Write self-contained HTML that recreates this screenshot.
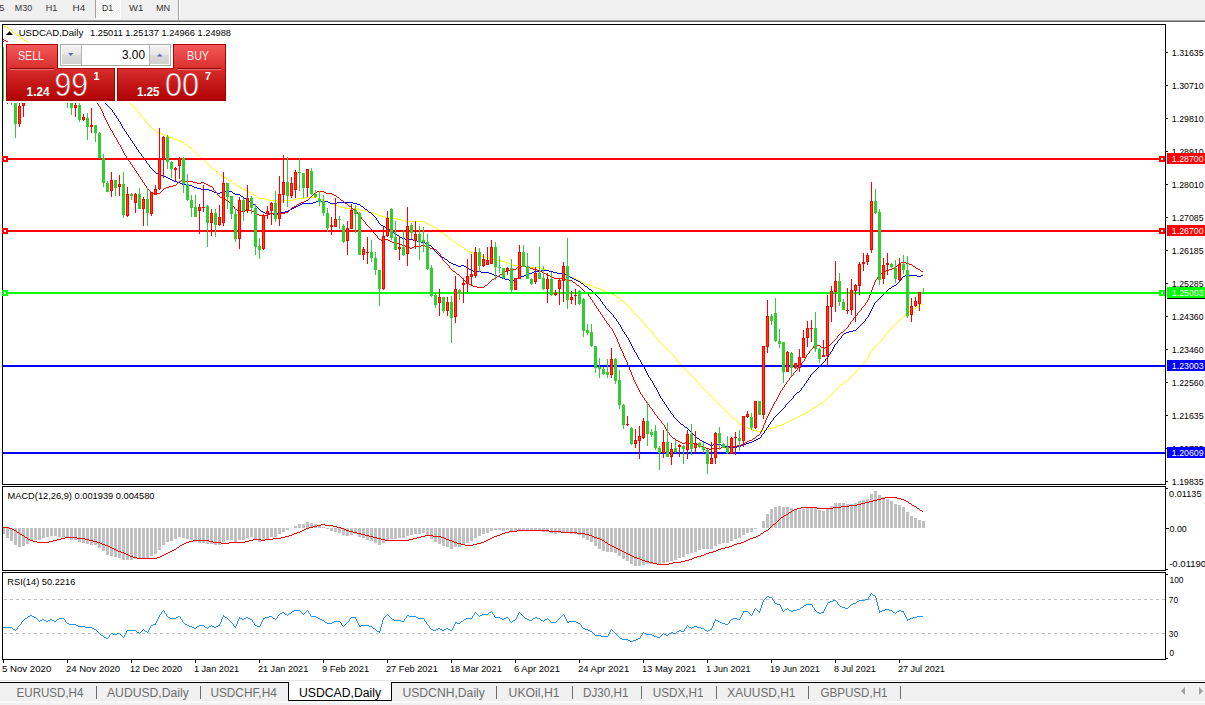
<!DOCTYPE html><html><head><meta charset="utf-8"><style>html,body{margin:0;padding:0;background:#fff;overflow:hidden}svg{display:block}text{font-family:'Liberation Sans', Arial, sans-serif}</style></head><body><svg width="1205" height="705" viewBox="0 0 1205 705"><defs><pattern id="chk" width="2" height="2" patternUnits="userSpaceOnUse"><rect width="2" height="2" fill="#f0f0f0"/><rect width="1" height="1" fill="#fff"/><rect x="1" y="1" width="1" height="1" fill="#fff"/></pattern><linearGradient id="gtab" x1="0" y1="0" x2="0" y2="1"><stop offset="0" stop-color="#f25555"/><stop offset="1" stop-color="#d62a2a"/></linearGradient><linearGradient id="gbox" x1="0" y1="0" x2="0" y2="1"><stop offset="0" stop-color="#d72a2a"/><stop offset="1" stop-color="#ad0000"/></linearGradient><linearGradient id="gbtn" x1="0" y1="0" x2="0" y2="1"><stop offset="0" stop-color="#f2f2f2"/><stop offset="0.5" stop-color="#e6e6e6"/><stop offset="0.5" stop-color="#dadada"/><stop offset="1" stop-color="#d0d0d0"/></linearGradient><clipPath id="cmain"><rect x="3" y="25" width="1162" height="459"/></clipPath><clipPath id="cmacd"><rect x="3" y="487" width="1162" height="83"/></clipPath><clipPath id="crsi"><rect x="3" y="573" width="1162" height="86"/></clipPath></defs>
<rect x="0" y="0" width="1205" height="20" fill="#f0f0f0"/>
<rect x="0" y="20" width="1205" height="1" fill="#a0a0a0"/>
<rect x="0" y="21" width="1205" height="1" fill="#696969"/>
<rect x="96" y="0" width="24" height="18" fill="url(#chk)"/>
<rect x="95" y="0" width="1" height="18" fill="#a0a0a0"/>
<rect x="96" y="18" width="25" height="1" fill="#fff"/>
<rect x="120" y="0" width="1" height="19" fill="#fff"/>
<rect x="178" y="0" width="1" height="20" fill="#a0a0a0"/>
<rect x="179" y="0" width="1" height="20" fill="#fff"/>
<text x="-13.5" y="11.3" font-size="9.4" fill="#333333" text-anchor="start" font-weight="normal" textLength="17.8" lengthAdjust="spacingAndGlyphs">M15</text>
<text x="14.8" y="11.3" font-size="9.4" fill="#333333" text-anchor="start" font-weight="normal" textLength="17.3" lengthAdjust="spacingAndGlyphs">M30</text>
<text x="45.7" y="11.3" font-size="9.4" fill="#333333" text-anchor="start" font-weight="normal" textLength="11.5" lengthAdjust="spacingAndGlyphs">H1</text>
<text x="72.6" y="11.3" font-size="9.4" fill="#333333" text-anchor="start" font-weight="normal" textLength="12.6" lengthAdjust="spacingAndGlyphs">H4</text>
<text x="102" y="11.3" font-size="9.4" fill="#333333" text-anchor="start" font-weight="normal" textLength="11" lengthAdjust="spacingAndGlyphs">D1</text>
<text x="129" y="11.3" font-size="9.4" fill="#333333" text-anchor="start" font-weight="normal" textLength="14.2" lengthAdjust="spacingAndGlyphs">W1</text>
<text x="156" y="11.3" font-size="9.4" fill="#333333" text-anchor="start" font-weight="normal" textLength="14.2" lengthAdjust="spacingAndGlyphs">MN</text>
<rect x="2" y="24" width="1164" height="1" fill="#000"/>
<rect x="2" y="484" width="1164" height="1" fill="#000"/>
<rect x="2" y="24" width="1" height="461" fill="#000"/>
<rect x="1165" y="24" width="1" height="461" fill="#000"/>
<rect x="2" y="486" width="1164" height="1" fill="#000"/>
<rect x="2" y="570" width="1164" height="1" fill="#000"/>
<rect x="2" y="486" width="1" height="85" fill="#000"/>
<rect x="1165" y="486" width="1" height="85" fill="#000"/>
<rect x="2" y="572" width="1164" height="1" fill="#000"/>
<rect x="2" y="659" width="1164" height="1" fill="#000"/>
<rect x="2" y="572" width="1" height="88" fill="#000"/>
<rect x="1165" y="572" width="1" height="88" fill="#000"/>
<rect x="1166" y="52" width="2" height="1" fill="#000"/>
<text x="1171.8" y="56.0" font-size="9.2" fill="#000" text-anchor="start" font-weight="normal" textLength="31.8" lengthAdjust="spacingAndGlyphs">1.31635</text>
<rect x="1166" y="85" width="2" height="1" fill="#000"/>
<text x="1171.8" y="89.0" font-size="9.2" fill="#000" text-anchor="start" font-weight="normal" textLength="31.8" lengthAdjust="spacingAndGlyphs">1.30710</text>
<rect x="1166" y="118" width="2" height="1" fill="#000"/>
<text x="1171.8" y="122.0" font-size="9.2" fill="#000" text-anchor="start" font-weight="normal" textLength="31.8" lengthAdjust="spacingAndGlyphs">1.29810</text>
<rect x="1166" y="151" width="2" height="1" fill="#000"/>
<text x="1171.8" y="155.0" font-size="9.2" fill="#000" text-anchor="start" font-weight="normal" textLength="31.8" lengthAdjust="spacingAndGlyphs">1.28910</text>
<rect x="1166" y="184" width="2" height="1" fill="#000"/>
<text x="1171.8" y="188.0" font-size="9.2" fill="#000" text-anchor="start" font-weight="normal" textLength="31.8" lengthAdjust="spacingAndGlyphs">1.28010</text>
<rect x="1166" y="217" width="2" height="1" fill="#000"/>
<text x="1171.8" y="221.0" font-size="9.2" fill="#000" text-anchor="start" font-weight="normal" textLength="31.8" lengthAdjust="spacingAndGlyphs">1.27085</text>
<rect x="1166" y="250" width="2" height="1" fill="#000"/>
<text x="1171.8" y="254.0" font-size="9.2" fill="#000" text-anchor="start" font-weight="normal" textLength="31.8" lengthAdjust="spacingAndGlyphs">1.26185</text>
<rect x="1166" y="283" width="2" height="1" fill="#000"/>
<text x="1171.8" y="287.0" font-size="9.2" fill="#000" text-anchor="start" font-weight="normal" textLength="31.8" lengthAdjust="spacingAndGlyphs">1.25285</text>
<rect x="1166" y="316" width="2" height="1" fill="#000"/>
<text x="1171.8" y="320.0" font-size="9.2" fill="#000" text-anchor="start" font-weight="normal" textLength="31.8" lengthAdjust="spacingAndGlyphs">1.24360</text>
<rect x="1166" y="349" width="2" height="1" fill="#000"/>
<text x="1171.8" y="353.0" font-size="9.2" fill="#000" text-anchor="start" font-weight="normal" textLength="31.8" lengthAdjust="spacingAndGlyphs">1.23460</text>
<rect x="1166" y="382" width="2" height="1" fill="#000"/>
<text x="1171.8" y="386.0" font-size="9.2" fill="#000" text-anchor="start" font-weight="normal" textLength="31.8" lengthAdjust="spacingAndGlyphs">1.22560</text>
<rect x="1166" y="415" width="2" height="1" fill="#000"/>
<text x="1171.8" y="419.0" font-size="9.2" fill="#000" text-anchor="start" font-weight="normal" textLength="31.8" lengthAdjust="spacingAndGlyphs">1.21635</text>
<rect x="1166" y="448" width="2" height="1" fill="#000"/>
<text x="1171.8" y="452.0" font-size="9.2" fill="#000" text-anchor="start" font-weight="normal" textLength="31.8" lengthAdjust="spacingAndGlyphs">1.20735</text>
<rect x="1166" y="481" width="2" height="1" fill="#000"/>
<text x="1171.8" y="485.0" font-size="9.2" fill="#000" text-anchor="start" font-weight="normal" textLength="31.8" lengthAdjust="spacingAndGlyphs">1.19835</text>
<g shape-rendering="crispEdges"><path d="M3 25h1v1h-1zM4 26h1v1h-1zM5 26h1v1h-1zM6 27h1v1h-1zM7 27h1v1h-1zM8 28h1v1h-1zM9 29h1v1h-1zM10 29h1v1h-1zM11 30h1v1h-1zM12 31h1v1h-1zM13 32h1v1h-1zM14 32h1v1h-1zM15 33h1v1h-1zM16 34h1v1h-1zM17 35h1v1h-1zM18 35h1v1h-1zM19 36h1v1h-1zM20 37h1v1h-1zM21 38h1v1h-1zM22 38h1v1h-1zM23 39h1v1h-1zM24 40h1v1h-1zM25 40h1v1h-1zM26 41h1v1h-1zM27 41h1v1h-1zM28 42h1v1h-1zM29 42h1v1h-1zM30 43h1v1h-1zM31 43h1v1h-1zM32 44h1v1h-1zM33 44h1v1h-1zM34 45h1v1h-1zM35 45h1v1h-1zM36 45h1v1h-1zM37 46h1v1h-1zM38 46h1v1h-1zM39 46h1v1h-1zM40 47h1v1h-1zM41 47h1v1h-1zM42 48h1v1h-1zM43 48h1v1h-1zM44 48h1v1h-1zM45 49h1v1h-1zM46 49h1v1h-1zM47 49h1v1h-1zM48 49h1v1h-1zM49 50h1v1h-1zM50 50h1v1h-1zM51 50h1v1h-1zM52 51h1v1h-1zM53 51h1v1h-1zM54 52h1v1h-1zM55 52h1v1h-1zM56 53h1v1h-1zM57 53h1v1h-1zM58 54h1v1h-1zM59 54h1v1h-1zM60 54h1v1h-1zM61 55h1v1h-1zM62 55h1v1h-1zM63 55h1v1h-1zM64 56h1v1h-1zM65 56h1v1h-1zM66 57h1v1h-1zM67 57h1v1h-1zM68 58h1v1h-1zM69 58h1v1h-1zM70 59h1v1h-1zM71 59h1v1h-1zM72 60h1v1h-1zM73 60h1v1h-1zM74 61h1v1h-1zM75 61h1v1h-1zM76 62h1v1h-1zM77 63h1v1h-1zM78 63h1v1h-1zM79 64h1v1h-1zM80 65h1v1h-1zM81 65h1v1h-1zM82 66h1v1h-1zM83 66h1v1h-1zM84 67h1v1h-1zM85 67h1v1h-1zM86 68h1v1h-1zM87 68h1v1h-1zM88 69h1v1h-1zM89 70h1v1h-1zM90 70h1v1h-1zM91 71h1v1h-1zM92 72h1v1h-1zM93 72h1v1h-1zM94 73h1v1h-1zM95 73h1v1h-1zM96 74h1v1h-1zM97 74h1v1h-1zM98 75h1v1h-1zM99 75h1v1h-1zM100 76h1v1h-1zM101 77h1v1h-1zM102 78h1v1h-1zM103 79h1v1h-1zM104 80h1v1h-1zM105 81h1v1h-1zM106 81h1v1h-1zM107 82h1v1h-1zM108 83h1v1h-1zM109 83h1v1h-1zM110 84h1v1h-1zM111 84h1v1h-1zM112 85h1v1h-1zM113 86h1v1h-1zM114 87h1v1h-1zM115 88h1v1h-1zM116 89h1v1h-1zM117 90h1v1h-1zM118 90h1v1h-1zM119 91h1v1h-1zM120 92h1v1h-1zM121 93h1v1h-1zM122 94h1v1h-1zM123 95h1v1h-1zM124 96h1v1h-1zM125 97h1v1h-1zM126 98h1v1h-1zM127 99h1v1h-1zM128 100h1v1h-1zM129 101h1v2h-1zM130 103h1v1h-1zM131 104h1v1h-1zM132 105h1v1h-1zM133 106h1v1h-1zM134 107h1v1h-1zM135 108h1v1h-1zM136 109h1v1h-1zM137 110h1v2h-1zM138 112h1v1h-1zM139 113h1v1h-1zM140 114h1v1h-1zM141 115h1v2h-1zM142 117h1v1h-1zM143 118h1v1h-1zM144 119h1v1h-1zM145 120h1v2h-1zM146 122h1v1h-1zM147 123h1v1h-1zM148 124h1v1h-1zM149 125h1v1h-1zM150 126h1v1h-1zM151 127h1v1h-1zM152 128h1v1h-1zM153 129h1v1h-1zM154 129h1v1h-1zM155 130h1v1h-1zM156 131h1v1h-1zM157 132h1v1h-1zM158 132h1v1h-1zM159 133h1v1h-1zM160 133h1v1h-1zM161 134h1v1h-1zM162 134h1v1h-1zM163 134h1v1h-1zM164 135h1v1h-1zM165 135h1v1h-1zM166 136h1v1h-1zM167 136h1v1h-1zM168 136h1v1h-1zM169 137h1v1h-1zM170 137h1v1h-1zM171 137h1v1h-1zM172 138h1v1h-1zM173 138h1v1h-1zM174 139h1v1h-1zM175 139h1v1h-1zM176 139h1v1h-1zM177 140h1v1h-1zM178 140h1v1h-1zM179 140h1v1h-1zM180 141h1v1h-1zM181 141h1v1h-1zM182 142h1v1h-1zM183 142h1v1h-1zM184 143h1v1h-1zM185 144h1v1h-1zM186 144h1v1h-1zM187 145h1v1h-1zM188 146h1v1h-1zM189 147h1v1h-1zM190 147h1v1h-1zM191 148h1v1h-1zM192 149h1v1h-1zM193 150h1v1h-1zM194 151h1v1h-1zM195 152h1v1h-1zM196 153h1v1h-1zM197 154h1v1h-1zM198 155h1v1h-1zM199 156h1v1h-1zM200 157h1v1h-1zM201 158h1v1h-1zM202 158h1v1h-1zM203 159h1v1h-1zM204 160h1v1h-1zM205 161h1v1h-1zM206 162h1v1h-1zM207 163h1v1h-1zM208 164h1v1h-1zM209 165h1v1h-1zM210 166h1v1h-1zM211 167h1v1h-1zM212 168h1v1h-1zM213 169h1v1h-1zM214 169h1v1h-1zM215 170h1v1h-1zM216 171h1v1h-1zM217 172h1v1h-1zM218 173h1v1h-1zM219 174h1v1h-1zM220 175h1v1h-1zM221 175h1v1h-1zM222 176h1v1h-1zM223 176h1v1h-1zM224 177h1v1h-1zM225 177h1v1h-1zM226 178h1v1h-1zM227 178h1v1h-1zM228 179h1v1h-1zM229 180h1v1h-1zM230 180h1v1h-1zM231 181h1v1h-1zM232 182h1v1h-1zM233 183h1v1h-1zM234 183h1v1h-1zM235 184h1v1h-1zM236 185h1v1h-1zM237 185h1v1h-1zM238 186h1v1h-1zM239 186h1v1h-1zM240 187h1v1h-1zM241 188h1v1h-1zM242 188h1v1h-1zM243 189h1v1h-1zM244 189h1v1h-1zM245 190h1v1h-1zM246 190h1v1h-1zM247 190h1v1h-1zM248 191h1v1h-1zM249 192h1v1h-1zM250 192h1v1h-1zM251 193h1v1h-1zM252 194h1v1h-1zM253 194h1v1h-1zM254 195h1v1h-1zM255 195h1v1h-1zM256 196h1v1h-1zM257 197h1v1h-1zM258 197h1v1h-1zM259 198h1v1h-1zM260 198h1v1h-1zM261 198h1v1h-1zM262 198h1v1h-1zM263 198h1v1h-1zM264 198h1v1h-1zM265 199h1v1h-1zM266 199h1v1h-1zM267 199h1v1h-1zM268 199h1v1h-1zM269 200h1v1h-1zM270 200h1v1h-1zM271 200h1v1h-1zM272 200h1v1h-1zM273 200h1v1h-1zM274 200h1v1h-1zM275 200h1v1h-1zM276 200h1v1h-1zM277 201h1v1h-1zM278 201h1v1h-1zM279 201h1v1h-1zM280 201h1v1h-1zM281 200h1v1h-1zM282 200h1v1h-1zM283 200h1v1h-1zM284 200h1v1h-1zM285 200h1v1h-1zM286 200h1v1h-1zM287 200h1v1h-1zM288 200h1v1h-1zM289 200h1v1h-1zM290 200h1v1h-1zM291 200h1v1h-1zM292 200h1v1h-1zM293 199h1v1h-1zM294 199h1v1h-1zM295 199h1v1h-1zM296 199h1v1h-1zM297 198h1v1h-1zM298 198h1v1h-1zM299 198h1v1h-1zM300 198h1v1h-1zM301 198h1v1h-1zM302 198h1v1h-1zM303 198h1v1h-1zM304 198h1v1h-1zM305 197h1v1h-1zM306 197h1v1h-1zM307 197h1v1h-1zM308 197h1v1h-1zM309 197h1v1h-1zM310 197h1v1h-1zM311 197h1v1h-1zM312 197h1v1h-1zM313 197h1v1h-1zM314 197h1v1h-1zM315 197h1v1h-1zM316 197h1v1h-1zM317 198h1v1h-1zM318 198h1v1h-1zM319 198h1v1h-1zM320 199h1v1h-1zM321 199h1v1h-1zM322 200h1v1h-1zM323 200h1v1h-1zM324 200h1v1h-1zM325 201h1v1h-1zM326 201h1v1h-1zM327 201h1v1h-1zM328 202h1v1h-1zM329 202h1v1h-1zM330 203h1v1h-1zM331 203h1v1h-1zM332 203h1v1h-1zM333 204h1v1h-1zM334 204h1v1h-1zM335 204h1v1h-1zM336 205h1v1h-1zM337 205h1v1h-1zM338 206h1v1h-1zM339 206h1v1h-1zM340 206h1v1h-1zM341 207h1v1h-1zM342 207h1v1h-1zM343 207h1v1h-1zM344 207h1v1h-1zM345 208h1v1h-1zM346 208h1v1h-1zM347 208h1v1h-1zM348 208h1v1h-1zM349 208h1v1h-1zM350 208h1v1h-1zM351 208h1v1h-1zM352 208h1v1h-1zM353 208h1v1h-1zM354 208h1v1h-1zM355 208h1v1h-1zM356 208h1v1h-1zM357 209h1v1h-1zM358 209h1v1h-1zM359 209h1v1h-1zM360 209h1v1h-1zM361 210h1v1h-1zM362 210h1v1h-1zM363 210h1v1h-1zM364 210h1v1h-1zM365 211h1v1h-1zM366 211h1v1h-1zM367 211h1v1h-1zM368 211h1v1h-1zM369 212h1v1h-1zM370 212h1v1h-1zM371 212h1v1h-1zM372 212h1v1h-1zM373 213h1v1h-1zM374 213h1v1h-1zM375 213h1v1h-1zM376 214h1v1h-1zM377 214h1v1h-1zM378 215h1v1h-1zM379 215h1v1h-1zM380 215h1v1h-1zM381 216h1v1h-1zM382 216h1v1h-1zM383 216h1v1h-1zM384 216h1v1h-1zM385 217h1v1h-1zM386 217h1v1h-1zM387 217h1v1h-1zM388 217h1v1h-1zM389 217h1v1h-1zM390 217h1v1h-1zM391 217h1v1h-1zM392 217h1v1h-1zM393 218h1v1h-1zM394 218h1v1h-1zM395 218h1v1h-1zM396 218h1v1h-1zM397 219h1v1h-1zM398 219h1v1h-1zM399 219h1v1h-1zM400 219h1v1h-1zM401 220h1v1h-1zM402 220h1v1h-1zM403 220h1v1h-1zM404 220h1v1h-1zM405 221h1v1h-1zM406 221h1v1h-1zM407 221h1v1h-1zM408 221h1v1h-1zM409 221h1v1h-1zM410 221h1v1h-1zM411 221h1v1h-1zM412 221h1v1h-1zM413 221h1v1h-1zM414 221h1v1h-1zM415 221h1v1h-1zM416 221h1v1h-1zM417 221h1v1h-1zM418 221h1v1h-1zM419 221h1v1h-1zM420 221h1v1h-1zM421 221h1v1h-1zM422 221h1v1h-1zM423 221h1v1h-1zM424 222h1v1h-1zM425 222h1v1h-1zM426 223h1v1h-1zM427 223h1v1h-1zM428 224h1v1h-1zM429 224h1v1h-1zM430 225h1v1h-1zM431 225h1v1h-1zM432 226h1v1h-1zM433 226h1v1h-1zM434 227h1v1h-1zM435 227h1v1h-1zM436 228h1v1h-1zM437 229h1v1h-1zM438 229h1v1h-1zM439 230h1v1h-1zM440 231h1v1h-1zM441 232h1v1h-1zM442 232h1v1h-1zM443 233h1v1h-1zM444 234h1v1h-1zM445 235h1v1h-1zM446 235h1v1h-1zM447 236h1v1h-1zM448 237h1v1h-1zM449 238h1v1h-1zM450 238h1v1h-1zM451 239h1v1h-1zM452 240h1v1h-1zM453 241h1v1h-1zM454 241h1v1h-1zM455 242h1v1h-1zM456 243h1v1h-1zM457 244h1v1h-1zM458 244h1v1h-1zM459 245h1v1h-1zM460 246h1v1h-1zM461 246h1v1h-1zM462 247h1v1h-1zM463 247h1v1h-1zM464 248h1v1h-1zM465 249h1v1h-1zM466 249h1v1h-1zM467 250h1v1h-1zM468 251h1v1h-1zM469 251h1v1h-1zM470 252h1v1h-1zM471 252h1v1h-1zM472 252h1v1h-1zM473 253h1v1h-1zM474 253h1v1h-1zM475 253h1v1h-1zM476 254h1v1h-1zM477 254h1v1h-1zM478 255h1v1h-1zM479 255h1v1h-1zM480 255h1v1h-1zM481 256h1v1h-1zM482 256h1v1h-1zM483 256h1v1h-1zM484 256h1v1h-1zM485 257h1v1h-1zM486 257h1v1h-1zM487 257h1v1h-1zM488 257h1v1h-1zM489 258h1v1h-1zM490 258h1v1h-1zM491 258h1v1h-1zM492 258h1v1h-1zM493 259h1v1h-1zM494 259h1v1h-1zM495 259h1v1h-1zM496 259h1v1h-1zM497 260h1v1h-1zM498 260h1v1h-1zM499 260h1v1h-1zM500 260h1v1h-1zM501 261h1v1h-1zM502 261h1v1h-1zM503 261h1v1h-1zM504 261h1v1h-1zM505 262h1v1h-1zM506 262h1v1h-1zM507 262h1v1h-1zM508 263h1v1h-1zM509 263h1v1h-1zM510 264h1v1h-1zM511 264h1v1h-1zM512 264h1v1h-1zM513 265h1v1h-1zM514 265h1v1h-1zM515 265h1v1h-1zM516 265h1v1h-1zM517 265h1v1h-1zM518 265h1v1h-1zM519 265h1v1h-1zM520 265h1v1h-1zM521 266h1v1h-1zM522 266h1v1h-1zM523 266h1v1h-1zM524 266h1v1h-1zM525 266h1v1h-1zM526 266h1v1h-1zM527 266h1v1h-1zM528 266h1v1h-1zM529 267h1v1h-1zM530 267h1v1h-1zM531 267h1v1h-1zM532 267h1v1h-1zM533 267h1v1h-1zM534 267h1v1h-1zM535 267h1v1h-1zM536 267h1v1h-1zM537 267h1v1h-1zM538 267h1v1h-1zM539 267h1v1h-1zM540 267h1v1h-1zM541 268h1v1h-1zM542 268h1v1h-1zM543 268h1v1h-1zM544 269h1v1h-1zM545 269h1v1h-1zM546 270h1v1h-1zM547 270h1v1h-1zM548 270h1v1h-1zM549 271h1v1h-1zM550 271h1v1h-1zM551 271h1v1h-1zM552 271h1v1h-1zM553 272h1v1h-1zM554 272h1v1h-1zM555 272h1v1h-1zM556 272h1v1h-1zM557 273h1v1h-1zM558 273h1v1h-1zM559 273h1v1h-1zM560 273h1v1h-1zM561 273h1v1h-1zM562 273h1v1h-1zM563 273h1v1h-1zM564 274h1v1h-1zM565 274h1v1h-1zM566 275h1v1h-1zM567 275h1v1h-1zM568 276h1v1h-1zM569 276h1v1h-1zM570 277h1v1h-1zM571 277h1v1h-1zM572 277h1v1h-1zM573 278h1v1h-1zM574 278h1v1h-1zM575 278h1v1h-1zM576 279h1v1h-1zM577 279h1v1h-1zM578 280h1v1h-1zM579 280h1v1h-1zM580 281h1v1h-1zM581 281h1v1h-1zM582 282h1v1h-1zM583 282h1v1h-1zM584 283h1v1h-1zM585 283h1v1h-1zM586 284h1v1h-1zM587 284h1v1h-1zM588 284h1v1h-1zM589 285h1v1h-1zM590 285h1v1h-1zM591 285h1v1h-1zM592 286h1v1h-1zM593 286h1v1h-1zM594 287h1v1h-1zM595 287h1v1h-1zM596 287h1v1h-1zM597 288h1v1h-1zM598 288h1v1h-1zM599 288h1v1h-1zM600 289h1v1h-1zM601 289h1v1h-1zM602 290h1v1h-1zM603 290h1v1h-1zM604 291h1v1h-1zM605 291h1v1h-1zM606 292h1v1h-1zM607 292h1v1h-1zM608 292h1v1h-1zM609 293h1v1h-1zM610 293h1v1h-1zM611 293h1v1h-1zM612 294h1v1h-1zM613 294h1v1h-1zM614 295h1v1h-1zM615 295h1v1h-1zM616 296h1v1h-1zM617 297h1v1h-1zM618 297h1v1h-1zM619 298h1v1h-1zM620 299h1v1h-1zM621 300h1v1h-1zM622 300h1v1h-1zM623 301h1v1h-1zM624 302h1v1h-1zM625 303h1v1h-1zM626 304h1v1h-1zM627 305h1v1h-1zM628 306h1v1h-1zM629 307h1v1h-1zM630 308h1v1h-1zM631 309h1v1h-1zM632 310h1v1h-1zM633 311h1v2h-1zM634 313h1v1h-1zM635 314h1v1h-1zM636 315h1v1h-1zM637 316h1v1h-1zM638 317h1v1h-1zM639 318h1v1h-1zM640 319h1v1h-1zM641 320h1v1h-1zM642 321h1v1h-1zM643 322h1v1h-1zM644 323h1v1h-1zM645 324h1v2h-1zM646 326h1v1h-1zM647 327h1v1h-1zM648 328h1v1h-1zM649 329h1v1h-1zM650 330h1v1h-1zM651 331h1v1h-1zM652 332h1v1h-1zM653 333h1v2h-1zM654 335h1v1h-1zM655 336h1v1h-1zM656 337h1v1h-1zM657 338h1v2h-1zM658 340h1v1h-1zM659 341h1v1h-1zM660 342h1v1h-1zM661 343h1v1h-1zM662 344h1v1h-1zM663 345h1v1h-1zM664 346h1v1h-1zM665 347h1v1h-1zM666 348h1v1h-1zM667 349h1v1h-1zM668 350h1v1h-1zM669 351h1v1h-1zM670 352h1v1h-1zM671 353h1v1h-1zM672 354h1v1h-1zM673 355h1v2h-1zM674 357h1v1h-1zM675 358h1v1h-1zM676 359h1v1h-1zM677 360h1v2h-1zM678 362h1v1h-1zM679 363h1v1h-1zM680 364h1v1h-1zM681 365h1v1h-1zM682 366h1v1h-1zM683 367h1v1h-1zM684 368h1v1h-1zM685 369h1v1h-1zM686 370h1v1h-1zM687 371h1v1h-1zM688 372h1v1h-1zM689 373h1v1h-1zM690 374h1v1h-1zM691 375h1v1h-1zM692 376h1v1h-1zM693 377h1v1h-1zM694 378h1v1h-1zM695 379h1v1h-1zM696 380h1v1h-1zM697 381h1v2h-1zM698 383h1v1h-1zM699 384h1v1h-1zM700 385h1v1h-1zM701 386h1v1h-1zM702 387h1v1h-1zM703 388h1v1h-1zM704 389h1v1h-1zM705 390h1v1h-1zM706 391h1v1h-1zM707 392h1v1h-1zM708 393h1v1h-1zM709 394h1v1h-1zM710 395h1v1h-1zM711 396h1v1h-1zM712 397h1v1h-1zM713 398h1v1h-1zM714 399h1v1h-1zM715 400h1v1h-1zM716 401h1v1h-1zM717 402h1v1h-1zM718 403h1v1h-1zM719 404h1v1h-1zM720 405h1v1h-1zM721 406h1v1h-1zM722 407h1v1h-1zM723 408h1v1h-1zM724 409h1v1h-1zM725 410h1v1h-1zM726 411h1v1h-1zM727 412h1v1h-1zM728 413h1v1h-1zM729 414h1v1h-1zM730 415h1v1h-1zM731 416h1v1h-1zM732 417h1v1h-1zM733 418h1v1h-1zM734 418h1v1h-1zM735 419h1v1h-1zM736 420h1v1h-1zM737 421h1v1h-1zM738 422h1v1h-1zM739 423h1v1h-1zM740 424h1v1h-1zM741 424h1v1h-1zM742 425h1v1h-1zM743 425h1v1h-1zM744 426h1v1h-1zM745 426h1v1h-1zM746 427h1v1h-1zM747 427h1v1h-1zM748 428h1v1h-1zM749 428h1v1h-1zM750 429h1v1h-1zM751 429h1v1h-1zM752 429h1v1h-1zM753 430h1v1h-1zM754 430h1v1h-1zM755 430h1v1h-1zM756 430h1v1h-1zM757 431h1v1h-1zM758 431h1v1h-1zM759 431h1v1h-1zM760 431h1v1h-1zM761 430h1v1h-1zM762 430h1v1h-1zM763 430h1v1h-1zM764 430h1v1h-1zM765 429h1v1h-1zM766 429h1v1h-1zM767 429h1v1h-1zM768 429h1v1h-1zM769 428h1v1h-1zM770 428h1v1h-1zM771 428h1v1h-1zM772 428h1v1h-1zM773 427h1v1h-1zM774 427h1v1h-1zM775 427h1v1h-1zM776 426h1v1h-1zM777 426h1v1h-1zM778 425h1v1h-1zM779 425h1v1h-1zM780 425h1v1h-1zM781 424h1v1h-1zM782 424h1v1h-1zM783 424h1v1h-1zM784 423h1v1h-1zM785 423h1v1h-1zM786 422h1v1h-1zM787 422h1v1h-1zM788 421h1v1h-1zM789 421h1v1h-1zM790 420h1v1h-1zM791 420h1v1h-1zM792 419h1v1h-1zM793 419h1v1h-1zM794 418h1v1h-1zM795 418h1v1h-1zM796 417h1v1h-1zM797 417h1v1h-1zM798 416h1v1h-1zM799 416h1v1h-1zM800 415h1v1h-1zM801 415h1v1h-1zM802 414h1v1h-1zM803 414h1v1h-1zM804 413h1v1h-1zM805 413h1v1h-1zM806 412h1v1h-1zM807 412h1v1h-1zM808 411h1v1h-1zM809 410h1v1h-1zM810 410h1v1h-1zM811 409h1v1h-1zM812 408h1v1h-1zM813 408h1v1h-1zM814 407h1v1h-1zM815 407h1v1h-1zM816 406h1v1h-1zM817 405h1v1h-1zM818 405h1v1h-1zM819 404h1v1h-1zM820 403h1v1h-1zM821 403h1v1h-1zM822 402h1v1h-1zM823 402h1v1h-1zM824 401h1v1h-1zM825 400h1v1h-1zM826 399h1v1h-1zM827 398h1v1h-1zM828 397h1v1h-1zM829 396h1v1h-1zM830 395h1v1h-1zM831 394h1v1h-1zM832 393h1v1h-1zM833 392h1v1h-1zM834 391h1v1h-1zM835 390h1v1h-1zM836 389h1v1h-1zM837 388h1v1h-1zM838 387h1v1h-1zM839 386h1v1h-1zM840 385h1v1h-1zM841 384h1v1h-1zM842 384h1v1h-1zM843 383h1v1h-1zM844 382h1v1h-1zM845 381h1v1h-1zM846 381h1v1h-1zM847 380h1v1h-1zM848 379h1v1h-1zM849 378h1v1h-1zM850 377h1v1h-1zM851 376h1v1h-1zM852 375h1v1h-1zM853 374h1v1h-1zM854 373h1v1h-1zM855 372h1v1h-1zM856 371h1v1h-1zM857 369h1v2h-1zM858 368h1v1h-1zM859 367h1v1h-1zM860 366h1v1h-1zM861 365h1v1h-1zM862 364h1v1h-1zM863 363h1v1h-1zM864 362h1v1h-1zM865 360h1v2h-1zM866 359h1v1h-1zM867 358h1v1h-1zM868 356h1v2h-1zM869 354h1v2h-1zM870 352h1v2h-1zM871 351h1v1h-1zM872 350h1v1h-1zM873 348h1v2h-1zM874 347h1v1h-1zM875 346h1v1h-1zM876 345h1v1h-1zM877 344h1v1h-1zM878 343h1v1h-1zM879 342h1v1h-1zM880 341h1v1h-1zM881 339h1v2h-1zM882 338h1v1h-1zM883 337h1v1h-1zM884 336h1v1h-1zM885 334h1v2h-1zM886 333h1v1h-1zM887 332h1v1h-1zM888 331h1v1h-1zM889 330h1v1h-1zM890 329h1v1h-1zM891 328h1v1h-1zM892 327h1v1h-1zM893 326h1v1h-1zM894 325h1v1h-1zM895 324h1v1h-1zM896 323h1v1h-1zM897 322h1v1h-1zM898 321h1v1h-1zM899 320h1v1h-1zM900 319h1v1h-1zM901 318h1v1h-1zM902 317h1v1h-1zM903 316h1v1h-1zM904 315h1v1h-1zM905 314h1v1h-1zM906 314h1v1h-1zM907 313h1v1h-1zM908 312h1v1h-1zM909 311h1v1h-1zM910 311h1v1h-1zM911 310h1v1h-1zM912 309h1v1h-1zM913 309h1v1h-1zM914 308h1v1h-1zM915 308h1v1h-1zM916 307h1v1h-1zM917 306h1v1h-1zM918 306h1v1h-1zM919 305h1v1h-1zM920 305h1v1h-1zM921 304h1v1h-1zM922 304h1v1h-1z" fill="#ffff00"/><path d="M3 41h1v1h-1zM4 42h1v1h-1zM5 43h1v1h-1zM6 43h1v1h-1zM7 44h1v1h-1zM8 45h1v1h-1zM9 46h1v1h-1zM10 47h1v1h-1zM11 48h1v1h-1zM12 49h1v1h-1zM13 50h1v1h-1zM14 51h1v1h-1zM15 52h1v1h-1zM16 53h1v1h-1zM17 54h1v1h-1zM18 54h1v1h-1zM19 55h1v1h-1zM20 56h1v1h-1zM21 56h1v1h-1zM22 57h1v1h-1zM23 57h1v1h-1zM24 57h1v1h-1zM25 58h1v1h-1zM26 58h1v1h-1zM27 58h1v1h-1zM28 58h1v1h-1zM29 58h1v1h-1zM30 58h1v1h-1zM31 58h1v1h-1zM32 58h1v1h-1zM33 58h1v1h-1zM34 58h1v1h-1zM35 58h1v1h-1zM36 58h1v1h-1zM37 58h1v1h-1zM38 58h1v1h-1zM39 58h1v1h-1zM40 58h1v1h-1zM41 58h1v1h-1zM42 58h1v1h-1zM43 58h1v1h-1zM44 58h1v1h-1zM45 59h1v1h-1zM46 59h1v1h-1zM47 59h1v1h-1zM48 60h1v1h-1zM49 60h1v1h-1zM50 61h1v1h-1zM51 61h1v1h-1zM52 62h1v1h-1zM53 63h1v1h-1zM54 63h1v1h-1zM55 64h1v1h-1zM56 65h1v1h-1zM57 66h1v1h-1zM58 67h1v1h-1zM59 68h1v1h-1zM60 69h1v1h-1zM61 70h1v1h-1zM62 71h1v1h-1zM63 72h1v1h-1zM64 73h1v1h-1zM65 74h1v2h-1zM66 76h1v1h-1zM67 77h1v1h-1zM68 78h1v1h-1zM69 79h1v1h-1zM70 80h1v1h-1zM71 81h1v1h-1zM72 82h1v1h-1zM73 83h1v1h-1zM74 83h1v1h-1zM75 84h1v1h-1zM76 85h1v1h-1zM77 86h1v1h-1zM78 87h1v1h-1zM79 88h1v1h-1zM80 89h1v1h-1zM81 89h1v1h-1zM82 90h1v1h-1zM83 90h1v1h-1zM84 91h1v1h-1zM85 91h1v1h-1zM86 92h1v1h-1zM87 92h1v1h-1zM88 93h1v1h-1zM89 93h1v1h-1zM90 94h1v1h-1zM91 94h1v1h-1zM92 94h1v1h-1zM93 95h1v1h-1zM94 95h1v1h-1zM95 95h1v1h-1zM96 96h1v1h-1zM97 96h1v1h-1zM98 97h1v1h-1zM99 97h1v1h-1zM100 98h1v1h-1zM101 99h1v1h-1zM102 99h1v1h-1zM103 100h1v1h-1zM104 101h1v1h-1zM105 102h1v2h-1zM106 104h1v1h-1zM107 105h1v1h-1zM108 106h1v1h-1zM109 107h1v1h-1zM110 108h1v1h-1zM111 109h1v1h-1zM112 110h1v2h-1zM113 112h1v1h-1zM114 113h1v2h-1zM115 115h1v1h-1zM116 116h1v2h-1zM117 118h1v1h-1zM118 119h1v2h-1zM119 121h1v1h-1zM120 122h1v2h-1zM121 124h1v2h-1zM122 126h1v2h-1zM123 128h1v1h-1zM124 129h1v2h-1zM125 131h1v1h-1zM126 132h1v2h-1zM127 134h1v1h-1zM128 135h1v2h-1zM129 137h1v1h-1zM130 138h1v2h-1zM131 140h1v1h-1zM132 141h1v2h-1zM133 143h1v1h-1zM134 144h1v2h-1zM135 146h1v1h-1zM136 147h1v2h-1zM137 149h1v1h-1zM138 150h1v2h-1zM139 152h1v1h-1zM140 153h1v1h-1zM141 154h1v2h-1zM142 156h1v1h-1zM143 157h1v1h-1zM144 158h1v2h-1zM145 160h1v1h-1zM146 161h1v2h-1zM147 163h1v1h-1zM148 164h1v1h-1zM149 165h1v2h-1zM150 167h1v1h-1zM151 168h1v1h-1zM152 169h1v1h-1zM153 170h1v1h-1zM154 171h1v1h-1zM155 172h1v1h-1zM156 173h1v1h-1zM157 173h1v1h-1zM158 174h1v1h-1zM159 174h1v1h-1zM160 174h1v1h-1zM161 175h1v1h-1zM162 175h1v1h-1zM163 175h1v1h-1zM164 176h1v1h-1zM165 176h1v1h-1zM166 177h1v1h-1zM167 177h1v1h-1zM168 178h1v1h-1zM169 178h1v1h-1zM170 179h1v1h-1zM171 179h1v1h-1zM172 180h1v1h-1zM173 180h1v1h-1zM174 181h1v1h-1zM175 181h1v1h-1zM176 181h1v1h-1zM177 182h1v1h-1zM178 182h1v1h-1zM179 182h1v1h-1zM180 183h1v1h-1zM181 183h1v1h-1zM182 184h1v1h-1zM183 184h1v1h-1zM184 184h1v1h-1zM185 184h1v1h-1zM186 184h1v1h-1zM187 184h1v1h-1zM188 184h1v1h-1zM189 185h1v1h-1zM190 185h1v1h-1zM191 185h1v1h-1zM192 186h1v1h-1zM193 186h1v1h-1zM194 187h1v1h-1zM195 187h1v1h-1zM196 187h1v1h-1zM197 188h1v1h-1zM198 188h1v1h-1zM199 188h1v1h-1zM200 188h1v1h-1zM201 189h1v1h-1zM202 189h1v1h-1zM203 189h1v1h-1zM204 189h1v1h-1zM205 189h1v1h-1zM206 189h1v1h-1zM207 189h1v1h-1zM208 189h1v1h-1zM209 190h1v1h-1zM210 190h1v1h-1zM211 190h1v1h-1zM212 191h1v1h-1zM213 191h1v1h-1zM214 192h1v1h-1zM215 192h1v1h-1zM216 192h1v1h-1zM217 193h1v1h-1zM218 193h1v1h-1zM219 193h1v1h-1zM220 192h1v1h-1zM221 192h1v1h-1zM222 191h1v1h-1zM223 191h1v1h-1zM224 191h1v1h-1zM225 191h1v1h-1zM226 191h1v1h-1zM227 191h1v1h-1zM228 191h1v1h-1zM229 191h1v1h-1zM230 191h1v1h-1zM231 191h1v1h-1zM232 192h1v1h-1zM233 193h1v1h-1zM234 193h1v1h-1zM235 194h1v1h-1zM236 194h1v1h-1zM237 194h1v1h-1zM238 194h1v1h-1zM239 194h1v1h-1zM240 195h1v1h-1zM241 196h1v1h-1zM242 196h1v1h-1zM243 197h1v1h-1zM244 198h1v1h-1zM245 198h1v1h-1zM246 199h1v1h-1zM247 199h1v1h-1zM248 200h1v1h-1zM249 201h1v1h-1zM250 201h1v1h-1zM251 202h1v1h-1zM252 203h1v1h-1zM253 204h1v1h-1zM254 204h1v1h-1zM255 205h1v1h-1zM256 206h1v1h-1zM257 207h1v1h-1zM258 208h1v1h-1zM259 209h1v1h-1zM260 210h1v1h-1zM261 211h1v1h-1zM262 211h1v1h-1zM263 212h1v1h-1zM264 212h1v1h-1zM265 213h1v1h-1zM266 213h1v1h-1zM267 213h1v1h-1zM268 213h1v1h-1zM269 213h1v1h-1zM270 213h1v1h-1zM271 213h1v1h-1zM272 213h1v1h-1zM273 214h1v1h-1zM274 214h1v1h-1zM275 214h1v1h-1zM276 214h1v1h-1zM277 213h1v1h-1zM278 213h1v1h-1zM279 213h1v1h-1zM280 213h1v1h-1zM281 212h1v1h-1zM282 212h1v1h-1zM283 212h1v1h-1zM284 212h1v1h-1zM285 211h1v1h-1zM286 211h1v1h-1zM287 211h1v1h-1zM288 210h1v1h-1zM289 210h1v1h-1zM290 209h1v1h-1zM291 209h1v1h-1zM292 208h1v1h-1zM293 208h1v1h-1zM294 207h1v1h-1zM295 207h1v1h-1zM296 206h1v1h-1zM297 206h1v1h-1zM298 205h1v1h-1zM299 205h1v1h-1zM300 204h1v1h-1zM301 204h1v1h-1zM302 203h1v1h-1zM303 203h1v1h-1zM304 203h1v1h-1zM305 203h1v1h-1zM306 203h1v1h-1zM307 203h1v1h-1zM308 203h1v1h-1zM309 203h1v1h-1zM310 203h1v1h-1zM311 203h1v1h-1zM312 203h1v1h-1zM313 202h1v1h-1zM314 202h1v1h-1zM315 202h1v1h-1zM316 201h1v1h-1zM317 201h1v1h-1zM318 200h1v1h-1zM319 200h1v1h-1zM320 200h1v1h-1zM321 201h1v1h-1zM322 201h1v1h-1zM323 201h1v1h-1zM324 201h1v1h-1zM325 201h1v1h-1zM326 201h1v1h-1zM327 201h1v1h-1zM328 202h1v1h-1zM329 202h1v1h-1zM330 203h1v1h-1zM331 203h1v1h-1zM332 203h1v1h-1zM333 203h1v1h-1zM334 203h1v1h-1zM335 203h1v1h-1zM336 203h1v1h-1zM337 202h1v1h-1zM338 202h1v1h-1zM339 202h1v1h-1zM340 202h1v1h-1zM341 202h1v1h-1zM342 202h1v1h-1zM343 202h1v1h-1zM344 202h1v1h-1zM345 202h1v1h-1zM346 202h1v1h-1zM347 202h1v1h-1zM348 202h1v1h-1zM349 202h1v1h-1zM350 202h1v1h-1zM351 202h1v1h-1zM352 202h1v1h-1zM353 203h1v1h-1zM354 203h1v1h-1zM355 203h1v1h-1zM356 203h1v1h-1zM357 204h1v1h-1zM358 204h1v1h-1zM359 204h1v1h-1zM360 205h1v1h-1zM361 206h1v1h-1zM362 206h1v1h-1zM363 207h1v1h-1zM364 208h1v1h-1zM365 209h1v1h-1zM366 209h1v1h-1zM367 210h1v1h-1zM368 211h1v1h-1zM369 212h1v1h-1zM370 212h1v1h-1zM371 213h1v1h-1zM372 214h1v1h-1zM373 215h1v1h-1zM374 216h1v1h-1zM375 217h1v1h-1zM376 218h1v2h-1zM377 220h1v1h-1zM378 221h1v2h-1zM379 223h1v1h-1zM380 224h1v1h-1zM381 225h1v1h-1zM382 225h1v1h-1zM383 226h1v1h-1zM384 226h1v1h-1zM385 227h1v1h-1zM386 227h1v1h-1zM387 227h1v1h-1zM388 228h1v1h-1zM389 229h1v1h-1zM390 230h1v1h-1zM391 231h1v1h-1zM392 232h1v1h-1zM393 232h1v1h-1zM394 233h1v1h-1zM395 233h1v1h-1zM396 234h1v1h-1zM397 235h1v1h-1zM398 235h1v1h-1zM399 236h1v1h-1zM400 237h1v1h-1zM401 237h1v1h-1zM402 238h1v1h-1zM403 238h1v1h-1zM404 238h1v1h-1zM405 239h1v1h-1zM406 239h1v1h-1zM407 239h1v1h-1zM408 239h1v1h-1zM409 239h1v1h-1zM410 239h1v1h-1zM411 239h1v1h-1zM412 239h1v1h-1zM413 240h1v1h-1zM414 240h1v1h-1zM415 240h1v1h-1zM416 240h1v1h-1zM417 241h1v1h-1zM418 241h1v1h-1zM419 241h1v1h-1zM420 241h1v1h-1zM421 242h1v1h-1zM422 242h1v1h-1zM423 242h1v1h-1zM424 242h1v1h-1zM425 243h1v1h-1zM426 243h1v1h-1zM427 243h1v1h-1zM428 244h1v1h-1zM429 245h1v1h-1zM430 245h1v1h-1zM431 246h1v1h-1zM432 247h1v1h-1zM433 248h1v2h-1zM434 250h1v1h-1zM435 251h1v1h-1zM436 252h1v1h-1zM437 253h1v1h-1zM438 254h1v1h-1zM439 255h1v1h-1zM440 256h1v1h-1zM441 256h1v1h-1zM442 257h1v1h-1zM443 257h1v1h-1zM444 258h1v1h-1zM445 259h1v1h-1zM446 259h1v1h-1zM447 260h1v1h-1zM448 261h1v1h-1zM449 262h1v1h-1zM450 262h1v1h-1zM451 263h1v1h-1zM452 263h1v1h-1zM453 264h1v1h-1zM454 264h1v1h-1zM455 264h1v1h-1zM456 265h1v1h-1zM457 265h1v1h-1zM458 266h1v1h-1zM459 266h1v1h-1zM460 266h1v1h-1zM461 265h1v1h-1zM462 265h1v1h-1zM463 265h1v1h-1zM464 266h1v1h-1zM465 266h1v1h-1zM466 267h1v1h-1zM467 267h1v1h-1zM468 268h1v1h-1zM469 269h1v1h-1zM470 269h1v1h-1zM471 270h1v1h-1zM472 270h1v1h-1zM473 271h1v1h-1zM474 271h1v1h-1zM475 271h1v1h-1zM476 271h1v1h-1zM477 271h1v1h-1zM478 271h1v1h-1zM479 271h1v1h-1zM480 271h1v1h-1zM481 272h1v1h-1zM482 272h1v1h-1zM483 272h1v1h-1zM484 272h1v1h-1zM485 272h1v1h-1zM486 272h1v1h-1zM487 272h1v1h-1zM488 272h1v1h-1zM489 273h1v1h-1zM490 273h1v1h-1zM491 273h1v1h-1zM492 274h1v1h-1zM493 274h1v1h-1zM494 275h1v1h-1zM495 275h1v1h-1zM496 275h1v1h-1zM497 276h1v1h-1zM498 276h1v1h-1zM499 276h1v1h-1zM500 277h1v1h-1zM501 277h1v1h-1zM502 278h1v1h-1zM503 278h1v1h-1zM504 278h1v1h-1zM505 279h1v1h-1zM506 279h1v1h-1zM507 279h1v1h-1zM508 279h1v1h-1zM509 280h1v1h-1zM510 280h1v1h-1zM511 280h1v1h-1zM512 280h1v1h-1zM513 280h1v1h-1zM514 280h1v1h-1zM515 280h1v1h-1zM516 279h1v1h-1zM517 278h1v1h-1zM518 278h1v1h-1zM519 277h1v1h-1zM520 277h1v1h-1zM521 276h1v1h-1zM522 276h1v1h-1zM523 276h1v1h-1zM524 275h1v1h-1zM525 275h1v1h-1zM526 274h1v1h-1zM527 274h1v1h-1zM528 274h1v1h-1zM529 273h1v1h-1zM530 273h1v1h-1zM531 273h1v1h-1zM532 272h1v1h-1zM533 272h1v1h-1zM534 271h1v1h-1zM535 271h1v1h-1zM536 271h1v1h-1zM537 271h1v1h-1zM538 271h1v1h-1zM539 271h1v1h-1zM540 271h1v1h-1zM541 270h1v1h-1zM542 270h1v1h-1zM543 270h1v1h-1zM544 270h1v1h-1zM545 270h1v1h-1zM546 270h1v1h-1zM547 270h1v1h-1zM548 270h1v1h-1zM549 271h1v1h-1zM550 271h1v1h-1zM551 271h1v1h-1zM552 271h1v1h-1zM553 272h1v1h-1zM554 272h1v1h-1zM555 272h1v1h-1zM556 272h1v1h-1zM557 273h1v1h-1zM558 273h1v1h-1zM559 273h1v1h-1zM560 273h1v1h-1zM561 273h1v1h-1zM562 273h1v1h-1zM563 273h1v1h-1zM564 274h1v1h-1zM565 274h1v1h-1zM566 275h1v1h-1zM567 275h1v1h-1zM568 276h1v1h-1zM569 276h1v1h-1zM570 277h1v1h-1zM571 277h1v1h-1zM572 278h1v1h-1zM573 278h1v1h-1zM574 279h1v1h-1zM575 279h1v1h-1zM576 280h1v1h-1zM577 280h1v1h-1zM578 281h1v1h-1zM579 281h1v1h-1zM580 282h1v1h-1zM581 283h1v1h-1zM582 283h1v1h-1zM583 284h1v1h-1zM584 285h1v1h-1zM585 286h1v1h-1zM586 286h1v1h-1zM587 287h1v1h-1zM588 288h1v1h-1zM589 289h1v1h-1zM590 289h1v1h-1zM591 290h1v1h-1zM592 291h1v1h-1zM593 292h1v1h-1zM594 293h1v1h-1zM595 294h1v1h-1zM596 295h1v1h-1zM597 296h1v1h-1zM598 297h1v1h-1zM599 298h1v1h-1zM600 299h1v2h-1zM601 301h1v1h-1zM602 302h1v2h-1zM603 304h1v1h-1zM604 305h1v1h-1zM605 306h1v2h-1zM606 308h1v1h-1zM607 309h1v1h-1zM608 310h1v1h-1zM609 311h1v1h-1zM610 312h1v1h-1zM611 313h1v1h-1zM612 314h1v1h-1zM613 315h1v2h-1zM614 317h1v1h-1zM615 318h1v1h-1zM616 319h1v2h-1zM617 321h1v1h-1zM618 322h1v2h-1zM619 324h1v1h-1zM620 325h1v2h-1zM621 327h1v2h-1zM622 329h1v2h-1zM623 331h1v1h-1zM624 332h1v2h-1zM625 334h1v1h-1zM626 335h1v2h-1zM627 337h1v1h-1zM628 338h1v2h-1zM629 340h1v2h-1zM630 342h1v2h-1zM631 344h1v2h-1zM632 346h1v2h-1zM633 348h1v2h-1zM634 350h1v2h-1zM635 352h1v1h-1zM636 353h1v2h-1zM637 355h1v2h-1zM638 357h1v2h-1zM639 359h1v1h-1zM640 360h1v2h-1zM641 362h1v2h-1zM642 364h1v2h-1zM643 366h1v1h-1zM644 367h1v2h-1zM645 369h1v2h-1zM646 371h1v2h-1zM647 373h1v2h-1zM648 375h1v2h-1zM649 377h1v1h-1zM650 378h1v2h-1zM651 380h1v1h-1zM652 381h1v2h-1zM653 383h1v2h-1zM654 385h1v2h-1zM655 387h1v1h-1zM656 388h1v2h-1zM657 390h1v2h-1zM658 392h1v2h-1zM659 394h1v2h-1zM660 396h1v2h-1zM661 398h1v1h-1zM662 399h1v2h-1zM663 401h1v1h-1zM664 402h1v2h-1zM665 404h1v1h-1zM666 405h1v2h-1zM667 407h1v1h-1zM668 408h1v2h-1zM669 410h1v1h-1zM670 411h1v2h-1zM671 413h1v1h-1zM672 414h1v1h-1zM673 415h1v2h-1zM674 417h1v1h-1zM675 418h1v1h-1zM676 419h1v1h-1zM677 420h1v1h-1zM678 421h1v1h-1zM679 422h1v1h-1zM680 423h1v1h-1zM681 424h1v1h-1zM682 424h1v1h-1zM683 425h1v1h-1zM684 426h1v1h-1zM685 427h1v1h-1zM686 427h1v1h-1zM687 428h1v1h-1zM688 429h1v1h-1zM689 430h1v1h-1zM690 431h1v1h-1zM691 432h1v1h-1zM692 433h1v1h-1zM693 434h1v1h-1zM694 435h1v1h-1zM695 436h1v1h-1zM696 437h1v1h-1zM697 438h1v1h-1zM698 438h1v1h-1zM699 439h1v1h-1zM700 440h1v1h-1zM701 440h1v1h-1zM702 441h1v1h-1zM703 441h1v1h-1zM704 442h1v1h-1zM705 442h1v1h-1zM706 443h1v1h-1zM707 443h1v1h-1zM708 444h1v1h-1zM709 444h1v1h-1zM710 445h1v1h-1zM711 445h1v1h-1zM712 445h1v1h-1zM713 444h1v1h-1zM714 444h1v1h-1zM715 444h1v1h-1zM716 444h1v1h-1zM717 444h1v1h-1zM718 444h1v1h-1zM719 444h1v1h-1zM720 444h1v1h-1zM721 445h1v1h-1zM722 445h1v1h-1zM723 445h1v1h-1zM724 445h1v1h-1zM725 446h1v1h-1zM726 446h1v1h-1zM727 446h1v1h-1zM728 446h1v1h-1zM729 447h1v1h-1zM730 447h1v1h-1zM731 447h1v1h-1zM732 447h1v1h-1zM733 447h1v1h-1zM734 447h1v1h-1zM735 447h1v1h-1zM736 447h1v1h-1zM737 446h1v1h-1zM738 446h1v1h-1zM739 446h1v1h-1zM740 446h1v1h-1zM741 445h1v1h-1zM742 445h1v1h-1zM743 445h1v1h-1zM744 444h1v1h-1zM745 444h1v1h-1zM746 443h1v1h-1zM747 443h1v1h-1zM748 443h1v1h-1zM749 442h1v1h-1zM750 442h1v1h-1zM751 442h1v1h-1zM752 441h1v1h-1zM753 441h1v1h-1zM754 440h1v1h-1zM755 440h1v1h-1zM756 439h1v1h-1zM757 439h1v1h-1zM758 438h1v1h-1zM759 438h1v1h-1zM760 437h1v1h-1zM761 435h1v2h-1zM762 434h1v1h-1zM763 433h1v1h-1zM764 431h1v2h-1zM765 430h1v1h-1zM766 428h1v2h-1zM767 427h1v1h-1zM768 425h1v2h-1zM769 424h1v1h-1zM770 422h1v2h-1zM771 421h1v1h-1zM772 420h1v1h-1zM773 418h1v2h-1zM774 417h1v1h-1zM775 416h1v1h-1zM776 415h1v1h-1zM777 414h1v1h-1zM778 413h1v1h-1zM779 412h1v1h-1zM780 411h1v1h-1zM781 410h1v1h-1zM782 409h1v1h-1zM783 408h1v1h-1zM784 407h1v1h-1zM785 405h1v2h-1zM786 404h1v1h-1zM787 403h1v1h-1zM788 402h1v1h-1zM789 401h1v1h-1zM790 400h1v1h-1zM791 399h1v1h-1zM792 398h1v1h-1zM793 396h1v2h-1zM794 395h1v1h-1zM795 394h1v1h-1zM796 393h1v1h-1zM797 392h1v1h-1zM798 392h1v1h-1zM799 391h1v1h-1zM800 390h1v1h-1zM801 388h1v2h-1zM802 387h1v1h-1zM803 386h1v1h-1zM804 384h1v2h-1zM805 383h1v1h-1zM806 381h1v2h-1zM807 380h1v1h-1zM808 378h1v2h-1zM809 377h1v1h-1zM810 375h1v2h-1zM811 374h1v1h-1zM812 373h1v1h-1zM813 372h1v1h-1zM814 371h1v1h-1zM815 370h1v1h-1zM816 369h1v1h-1zM817 368h1v1h-1zM818 367h1v1h-1zM819 366h1v1h-1zM820 365h1v1h-1zM821 364h1v1h-1zM822 363h1v1h-1zM823 362h1v1h-1zM824 361h1v1h-1zM825 359h1v2h-1zM826 358h1v1h-1zM827 357h1v1h-1zM828 355h1v2h-1zM829 354h1v1h-1zM830 352h1v2h-1zM831 351h1v1h-1zM832 349h1v2h-1zM833 347h1v2h-1zM834 345h1v2h-1zM835 344h1v1h-1zM836 343h1v1h-1zM837 341h1v2h-1zM838 340h1v1h-1zM839 339h1v1h-1zM840 338h1v1h-1zM841 336h1v2h-1zM842 335h1v1h-1zM843 334h1v1h-1zM844 333h1v1h-1zM845 333h1v1h-1zM846 332h1v1h-1zM847 332h1v1h-1zM848 332h1v1h-1zM849 331h1v1h-1zM850 331h1v1h-1zM851 331h1v1h-1zM852 331h1v1h-1zM853 330h1v1h-1zM854 330h1v1h-1zM855 330h1v1h-1zM856 329h1v1h-1zM857 328h1v1h-1zM858 327h1v1h-1zM859 326h1v1h-1zM860 325h1v1h-1zM861 324h1v1h-1zM862 323h1v1h-1zM863 322h1v1h-1zM864 321h1v1h-1zM865 319h1v2h-1zM866 318h1v1h-1zM867 317h1v1h-1zM868 315h1v2h-1zM869 313h1v2h-1zM870 311h1v2h-1zM871 309h1v2h-1zM872 307h1v2h-1zM873 305h1v2h-1zM874 303h1v2h-1zM875 302h1v1h-1zM876 301h1v1h-1zM877 300h1v1h-1zM878 299h1v1h-1zM879 298h1v1h-1zM880 297h1v1h-1zM881 296h1v1h-1zM882 295h1v1h-1zM883 294h1v1h-1zM884 293h1v1h-1zM885 292h1v1h-1zM886 291h1v1h-1zM887 290h1v1h-1zM888 289h1v1h-1zM889 288h1v1h-1zM890 288h1v1h-1zM891 287h1v1h-1zM892 286h1v1h-1zM893 286h1v1h-1zM894 285h1v1h-1zM895 285h1v1h-1zM896 284h1v1h-1zM897 283h1v1h-1zM898 282h1v1h-1zM899 281h1v1h-1zM900 280h1v1h-1zM901 278h1v2h-1zM902 277h1v1h-1zM903 276h1v1h-1zM904 276h1v1h-1zM905 275h1v1h-1zM906 275h1v1h-1zM907 275h1v1h-1zM908 275h1v1h-1zM909 275h1v1h-1zM910 275h1v1h-1zM911 275h1v1h-1zM912 275h1v1h-1zM913 275h1v1h-1zM914 275h1v1h-1zM915 275h1v1h-1zM916 275h1v1h-1zM917 276h1v1h-1zM918 276h1v1h-1zM919 276h1v1h-1zM920 276h1v1h-1zM921 275h1v1h-1zM922 275h1v1h-1z" fill="#0000ff"/><path d="M3 39h1v1h-1zM4 40h1v1h-1zM5 40h1v1h-1zM6 41h1v1h-1zM7 41h1v1h-1zM8 42h1v1h-1zM9 43h1v1h-1zM10 43h1v1h-1zM11 44h1v1h-1zM12 45h1v1h-1zM13 46h1v2h-1zM14 48h1v1h-1zM15 49h1v1h-1zM16 50h1v1h-1zM17 51h1v1h-1zM18 52h1v1h-1zM19 53h1v1h-1zM20 54h1v1h-1zM21 55h1v2h-1zM22 57h1v1h-1zM23 58h1v1h-1zM24 59h1v1h-1zM25 60h1v1h-1zM26 61h1v1h-1zM27 62h1v1h-1zM28 63h1v1h-1zM29 64h1v2h-1zM30 66h1v1h-1zM31 67h1v1h-1zM32 68h1v1h-1zM33 69h1v1h-1zM34 70h1v1h-1zM35 71h1v1h-1zM36 72h1v1h-1zM37 73h1v1h-1zM38 74h1v1h-1zM39 75h1v1h-1zM40 76h1v1h-1zM41 77h1v1h-1zM42 77h1v1h-1zM43 78h1v1h-1zM44 79h1v1h-1zM45 79h1v1h-1zM46 80h1v1h-1zM47 80h1v1h-1zM48 81h1v1h-1zM49 81h1v1h-1zM50 82h1v1h-1zM51 82h1v1h-1zM52 82h1v1h-1zM53 83h1v1h-1zM54 83h1v1h-1zM55 83h1v1h-1zM56 83h1v1h-1zM57 84h1v1h-1zM58 84h1v1h-1zM59 84h1v1h-1zM60 84h1v1h-1zM61 84h1v1h-1zM62 84h1v1h-1zM63 84h1v1h-1zM64 84h1v1h-1zM65 83h1v1h-1zM66 83h1v1h-1zM67 83h1v1h-1zM68 83h1v1h-1zM69 82h1v1h-1zM70 82h1v1h-1zM71 82h1v1h-1zM72 82h1v1h-1zM73 82h1v1h-1zM74 82h1v1h-1zM75 82h1v1h-1zM76 83h1v1h-1zM77 83h1v1h-1zM78 84h1v1h-1zM79 84h1v1h-1zM80 85h1v1h-1zM81 85h1v1h-1zM82 86h1v1h-1zM83 86h1v1h-1zM84 87h1v1h-1zM85 88h1v1h-1zM86 89h1v1h-1zM87 90h1v1h-1zM88 91h1v1h-1zM89 92h1v1h-1zM90 93h1v1h-1zM91 94h1v1h-1zM92 95h1v2h-1zM93 97h1v1h-1zM94 98h1v2h-1zM95 100h1v1h-1zM96 101h1v2h-1zM97 103h1v1h-1zM98 104h1v2h-1zM99 106h1v1h-1zM100 107h1v2h-1zM101 109h1v2h-1zM102 111h1v2h-1zM103 113h1v3h-1zM104 116h1v2h-1zM105 118h1v2h-1zM106 120h1v2h-1zM107 122h1v2h-1zM108 124h1v2h-1zM109 126h1v2h-1zM110 128h1v2h-1zM111 130h1v1h-1zM112 131h1v2h-1zM113 133h1v2h-1zM114 135h1v2h-1zM115 137h1v1h-1zM116 138h1v2h-1zM117 140h1v2h-1zM118 142h1v2h-1zM119 144h1v1h-1zM120 145h1v2h-1zM121 147h1v2h-1zM122 149h1v2h-1zM123 151h1v2h-1zM124 153h1v2h-1zM125 155h1v1h-1zM126 156h1v2h-1zM127 158h1v1h-1zM128 159h1v2h-1zM129 161h1v1h-1zM130 162h1v2h-1zM131 164h1v1h-1zM132 165h1v2h-1zM133 167h1v1h-1zM134 168h1v2h-1zM135 170h1v1h-1zM136 171h1v2h-1zM137 173h1v1h-1zM138 174h1v2h-1zM139 176h1v1h-1zM140 177h1v2h-1zM141 179h1v1h-1zM142 180h1v2h-1zM143 182h1v1h-1zM144 183h1v2h-1zM145 185h1v1h-1zM146 186h1v2h-1zM147 188h1v1h-1zM148 189h1v1h-1zM149 190h1v1h-1zM150 191h1v1h-1zM151 192h1v1h-1zM152 193h1v1h-1zM153 193h1v1h-1zM154 194h1v1h-1zM155 194h1v1h-1zM156 194h1v1h-1zM157 193h1v1h-1zM158 193h1v1h-1zM159 193h1v1h-1zM160 192h1v1h-1zM161 191h1v1h-1zM162 190h1v1h-1zM163 189h1v1h-1zM164 188h1v1h-1zM165 188h1v1h-1zM166 187h1v1h-1zM167 187h1v1h-1zM168 187h1v1h-1zM169 186h1v1h-1zM170 186h1v1h-1zM171 186h1v1h-1zM172 186h1v1h-1zM173 185h1v1h-1zM174 185h1v1h-1zM175 185h1v1h-1zM176 184h1v1h-1zM177 183h1v1h-1zM178 182h1v1h-1zM179 181h1v1h-1zM180 181h1v1h-1zM181 180h1v1h-1zM182 180h1v1h-1zM183 180h1v1h-1zM184 180h1v1h-1zM185 181h1v1h-1zM186 181h1v1h-1zM187 181h1v1h-1zM188 181h1v1h-1zM189 181h1v1h-1zM190 181h1v1h-1zM191 181h1v1h-1zM192 181h1v1h-1zM193 182h1v1h-1zM194 182h1v1h-1zM195 182h1v1h-1zM196 182h1v1h-1zM197 183h1v1h-1zM198 183h1v1h-1zM199 183h1v1h-1zM200 183h1v1h-1zM201 182h1v1h-1zM202 182h1v1h-1zM203 182h1v1h-1zM204 183h1v1h-1zM205 183h1v1h-1zM206 184h1v1h-1zM207 184h1v1h-1zM208 185h1v1h-1zM209 185h1v1h-1zM210 186h1v1h-1zM211 186h1v1h-1zM212 187h1v1h-1zM213 188h1v2h-1zM214 190h1v1h-1zM215 191h1v1h-1zM216 192h1v1h-1zM217 193h1v2h-1zM218 195h1v1h-1zM219 196h1v1h-1zM220 197h1v1h-1zM221 197h1v1h-1zM222 198h1v1h-1zM223 198h1v1h-1zM224 199h1v1h-1zM225 199h1v1h-1zM226 200h1v1h-1zM227 200h1v1h-1zM228 201h1v1h-1zM229 202h1v1h-1zM230 202h1v1h-1zM231 203h1v1h-1zM232 204h1v2h-1zM233 206h1v1h-1zM234 207h1v2h-1zM235 209h1v1h-1zM236 209h1v1h-1zM237 210h1v1h-1zM238 210h1v1h-1zM239 210h1v1h-1zM240 210h1v1h-1zM241 211h1v1h-1zM242 211h1v1h-1zM243 211h1v1h-1zM244 211h1v1h-1zM245 210h1v1h-1zM246 210h1v1h-1zM247 210h1v1h-1zM248 210h1v1h-1zM249 210h1v1h-1zM250 210h1v1h-1zM251 210h1v1h-1zM252 211h1v1h-1zM253 211h1v1h-1zM254 212h1v1h-1zM255 212h1v1h-1zM256 213h1v1h-1zM257 214h1v1h-1zM258 214h1v1h-1zM259 215h1v1h-1zM260 215h1v1h-1zM261 215h1v1h-1zM262 215h1v1h-1zM263 215h1v1h-1zM264 215h1v1h-1zM265 215h1v1h-1zM266 215h1v1h-1zM267 215h1v1h-1zM268 214h1v1h-1zM269 214h1v1h-1zM270 213h1v1h-1zM271 213h1v1h-1zM272 213h1v1h-1zM273 213h1v1h-1zM274 213h1v1h-1zM275 213h1v1h-1zM276 213h1v1h-1zM277 214h1v1h-1zM278 214h1v1h-1zM279 214h1v1h-1zM280 214h1v1h-1zM281 213h1v1h-1zM282 213h1v1h-1zM283 213h1v1h-1zM284 213h1v1h-1zM285 212h1v1h-1zM286 212h1v1h-1zM287 212h1v1h-1zM288 211h1v1h-1zM289 210h1v1h-1zM290 209h1v1h-1zM291 208h1v1h-1zM292 207h1v1h-1zM293 207h1v1h-1zM294 206h1v1h-1zM295 206h1v1h-1zM296 205h1v1h-1zM297 204h1v1h-1zM298 204h1v1h-1zM299 203h1v1h-1zM300 203h1v1h-1zM301 202h1v1h-1zM302 202h1v1h-1zM303 202h1v1h-1zM304 201h1v1h-1zM305 201h1v1h-1zM306 200h1v1h-1zM307 200h1v1h-1zM308 199h1v1h-1zM309 198h1v1h-1zM310 197h1v1h-1zM311 196h1v1h-1zM312 195h1v1h-1zM313 194h1v1h-1zM314 193h1v1h-1zM315 192h1v1h-1zM316 192h1v1h-1zM317 191h1v1h-1zM318 191h1v1h-1zM319 191h1v1h-1zM320 191h1v1h-1zM321 191h1v1h-1zM322 191h1v1h-1zM323 191h1v1h-1zM324 192h1v1h-1zM325 192h1v1h-1zM326 193h1v1h-1zM327 193h1v1h-1zM328 193h1v1h-1zM329 193h1v1h-1zM330 193h1v1h-1zM331 193h1v1h-1zM332 194h1v1h-1zM333 194h1v1h-1zM334 195h1v1h-1zM335 195h1v1h-1zM336 196h1v1h-1zM337 197h1v1h-1zM338 197h1v1h-1zM339 198h1v1h-1zM340 199h1v1h-1zM341 200h1v1h-1zM342 200h1v1h-1zM343 201h1v1h-1zM344 202h1v1h-1zM345 203h1v1h-1zM346 203h1v1h-1zM347 204h1v1h-1zM348 205h1v1h-1zM349 206h1v1h-1zM350 206h1v1h-1zM351 207h1v1h-1zM352 208h1v1h-1zM353 209h1v1h-1zM354 209h1v1h-1zM355 210h1v1h-1zM356 211h1v1h-1zM357 212h1v2h-1zM358 214h1v1h-1zM359 215h1v1h-1zM360 216h1v1h-1zM361 217h1v2h-1zM362 219h1v1h-1zM363 220h1v1h-1zM364 221h1v1h-1zM365 222h1v2h-1zM366 224h1v1h-1zM367 225h1v1h-1zM368 226h1v1h-1zM369 227h1v1h-1zM370 228h1v1h-1zM371 229h1v1h-1zM372 230h1v1h-1zM373 231h1v2h-1zM374 233h1v1h-1zM375 234h1v1h-1zM376 235h1v1h-1zM377 236h1v2h-1zM378 238h1v1h-1zM379 239h1v1h-1zM380 239h1v1h-1zM381 240h1v1h-1zM382 240h1v1h-1zM383 240h1v1h-1zM384 240h1v1h-1zM385 239h1v1h-1zM386 239h1v1h-1zM387 239h1v1h-1zM388 240h1v1h-1zM389 240h1v1h-1zM390 241h1v1h-1zM391 241h1v1h-1zM392 242h1v1h-1zM393 242h1v1h-1zM394 243h1v1h-1zM395 243h1v1h-1zM396 243h1v1h-1zM397 243h1v1h-1zM398 243h1v1h-1zM399 243h1v1h-1zM400 244h1v1h-1zM401 244h1v1h-1zM402 245h1v1h-1zM403 245h1v1h-1zM404 245h1v1h-1zM405 246h1v1h-1zM406 246h1v1h-1zM407 246h1v1h-1zM408 247h1v1h-1zM409 247h1v1h-1zM410 248h1v1h-1zM411 248h1v1h-1zM412 247h1v1h-1zM413 247h1v1h-1zM414 246h1v1h-1zM415 246h1v1h-1zM416 246h1v1h-1zM417 246h1v1h-1zM418 246h1v1h-1zM419 246h1v1h-1zM420 246h1v1h-1zM421 245h1v1h-1zM422 245h1v1h-1zM423 245h1v1h-1zM424 245h1v1h-1zM425 246h1v1h-1zM426 246h1v1h-1zM427 246h1v1h-1zM428 247h1v1h-1zM429 247h1v1h-1zM430 248h1v1h-1zM431 248h1v1h-1zM432 248h1v1h-1zM433 249h1v1h-1zM434 249h1v1h-1zM435 249h1v1h-1zM436 250h1v1h-1zM437 251h1v1h-1zM438 252h1v1h-1zM439 253h1v1h-1zM440 254h1v2h-1zM441 256h1v2h-1zM442 258h1v2h-1zM443 260h1v1h-1zM444 261h1v1h-1zM445 262h1v1h-1zM446 263h1v1h-1zM447 264h1v1h-1zM448 265h1v1h-1zM449 266h1v2h-1zM450 268h1v1h-1zM451 269h1v1h-1zM452 270h1v1h-1zM453 271h1v1h-1zM454 271h1v1h-1zM455 272h1v1h-1zM456 273h1v1h-1zM457 274h1v1h-1zM458 274h1v1h-1zM459 275h1v1h-1zM460 276h1v1h-1zM461 277h1v1h-1zM462 278h1v1h-1zM463 279h1v1h-1zM464 280h1v1h-1zM465 281h1v1h-1zM466 281h1v1h-1zM467 282h1v1h-1zM468 283h1v1h-1zM469 284h1v1h-1zM470 284h1v1h-1zM471 285h1v1h-1zM472 285h1v1h-1zM473 286h1v1h-1zM474 286h1v1h-1zM475 286h1v1h-1zM476 286h1v1h-1zM477 287h1v1h-1zM478 287h1v1h-1zM479 287h1v1h-1zM480 287h1v1h-1zM481 287h1v1h-1zM482 287h1v1h-1zM483 287h1v1h-1zM484 286h1v1h-1zM485 285h1v1h-1zM486 285h1v1h-1zM487 284h1v1h-1zM488 283h1v1h-1zM489 282h1v1h-1zM490 281h1v1h-1zM491 280h1v1h-1zM492 279h1v1h-1zM493 279h1v1h-1zM494 278h1v1h-1zM495 278h1v1h-1zM496 277h1v1h-1zM497 276h1v1h-1zM498 276h1v1h-1zM499 275h1v1h-1zM500 274h1v1h-1zM501 274h1v1h-1zM502 273h1v1h-1zM503 273h1v1h-1zM504 272h1v1h-1zM505 271h1v1h-1zM506 271h1v1h-1zM507 270h1v1h-1zM508 270h1v1h-1zM509 270h1v1h-1zM510 270h1v1h-1zM511 270h1v1h-1zM512 270h1v1h-1zM513 269h1v1h-1zM514 269h1v1h-1zM515 269h1v1h-1zM516 268h1v1h-1zM517 267h1v1h-1zM518 267h1v1h-1zM519 266h1v1h-1zM520 266h1v1h-1zM521 266h1v1h-1zM522 266h1v1h-1zM523 266h1v1h-1zM524 266h1v1h-1zM525 266h1v1h-1zM526 266h1v1h-1zM527 266h1v1h-1zM528 267h1v1h-1zM529 267h1v1h-1zM530 268h1v1h-1zM531 268h1v1h-1zM532 268h1v1h-1zM533 269h1v1h-1zM534 269h1v1h-1zM535 269h1v1h-1zM536 269h1v1h-1zM537 270h1v1h-1zM538 270h1v1h-1zM539 270h1v1h-1zM540 271h1v1h-1zM541 271h1v1h-1zM542 272h1v1h-1zM543 272h1v1h-1zM544 273h1v1h-1zM545 273h1v1h-1zM546 274h1v1h-1zM547 274h1v1h-1zM548 275h1v1h-1zM549 275h1v1h-1zM550 276h1v1h-1zM551 276h1v1h-1zM552 277h1v1h-1zM553 277h1v1h-1zM554 278h1v1h-1zM555 278h1v1h-1zM556 278h1v1h-1zM557 278h1v1h-1zM558 278h1v1h-1zM559 278h1v1h-1zM560 278h1v1h-1zM561 278h1v1h-1zM562 278h1v1h-1zM563 278h1v1h-1zM564 278h1v1h-1zM565 279h1v1h-1zM566 279h1v1h-1zM567 279h1v1h-1zM568 279h1v1h-1zM569 280h1v1h-1zM570 280h1v1h-1zM571 280h1v1h-1zM572 281h1v1h-1zM573 282h1v1h-1zM574 282h1v1h-1zM575 283h1v1h-1zM576 284h1v1h-1zM577 285h1v1h-1zM578 285h1v1h-1zM579 286h1v1h-1zM580 287h1v1h-1zM581 288h1v1h-1zM582 289h1v1h-1zM583 290h1v1h-1zM584 291h1v1h-1zM585 292h1v1h-1zM586 292h1v1h-1zM587 293h1v1h-1zM588 294h1v2h-1zM589 296h1v1h-1zM590 297h1v2h-1zM591 299h1v1h-1zM592 300h1v2h-1zM593 302h1v1h-1zM594 303h1v2h-1zM595 305h1v1h-1zM596 306h1v2h-1zM597 308h1v1h-1zM598 309h1v2h-1zM599 311h1v1h-1zM600 312h1v2h-1zM601 314h1v1h-1zM602 315h1v2h-1zM603 317h1v1h-1zM604 318h1v2h-1zM605 320h1v1h-1zM606 321h1v2h-1zM607 323h1v1h-1zM608 324h1v1h-1zM609 325h1v2h-1zM610 327h1v1h-1zM611 328h1v1h-1zM612 329h1v2h-1zM613 331h1v2h-1zM614 333h1v2h-1zM615 335h1v2h-1zM616 337h1v2h-1zM617 339h1v3h-1zM618 342h1v2h-1zM619 344h1v3h-1zM620 347h1v2h-1zM621 349h1v2h-1zM622 351h1v2h-1zM623 353h1v3h-1zM624 356h1v2h-1zM625 358h1v2h-1zM626 360h1v2h-1zM627 362h1v3h-1zM628 365h1v2h-1zM629 367h1v3h-1zM630 370h1v2h-1zM631 372h1v3h-1zM632 375h1v2h-1zM633 377h1v3h-1zM634 380h1v2h-1zM635 382h1v2h-1zM636 384h1v2h-1zM637 386h1v2h-1zM638 388h1v2h-1zM639 390h1v2h-1zM640 392h1v2h-1zM641 394h1v1h-1zM642 395h1v2h-1zM643 397h1v1h-1zM644 398h1v2h-1zM645 400h1v1h-1zM646 401h1v2h-1zM647 403h1v1h-1zM648 404h1v1h-1zM649 405h1v2h-1zM650 407h1v1h-1zM651 408h1v1h-1zM652 409h1v2h-1zM653 411h1v1h-1zM654 412h1v2h-1zM655 414h1v1h-1zM656 415h1v1h-1zM657 416h1v2h-1zM658 418h1v1h-1zM659 419h1v1h-1zM660 420h1v1h-1zM661 421h1v2h-1zM662 423h1v1h-1zM663 424h1v1h-1zM664 425h1v2h-1zM665 427h1v2h-1zM666 429h1v2h-1zM667 431h1v1h-1zM668 432h1v1h-1zM669 433h1v2h-1zM670 435h1v1h-1zM671 436h1v1h-1zM672 437h1v1h-1zM673 438h1v1h-1zM674 438h1v1h-1zM675 439h1v1h-1zM676 440h1v1h-1zM677 440h1v1h-1zM678 441h1v1h-1zM679 441h1v1h-1zM680 442h1v1h-1zM681 442h1v1h-1zM682 443h1v1h-1zM683 443h1v1h-1zM684 443h1v1h-1zM685 442h1v1h-1zM686 442h1v1h-1zM687 442h1v1h-1zM688 442h1v1h-1zM689 443h1v1h-1zM690 443h1v1h-1zM691 443h1v1h-1zM692 443h1v1h-1zM693 443h1v1h-1zM694 443h1v1h-1zM695 443h1v1h-1zM696 444h1v1h-1zM697 444h1v1h-1zM698 445h1v1h-1zM699 445h1v1h-1zM700 445h1v1h-1zM701 446h1v1h-1zM702 446h1v1h-1zM703 446h1v1h-1zM704 447h1v1h-1zM705 447h1v1h-1zM706 448h1v1h-1zM707 448h1v1h-1zM708 448h1v1h-1zM709 449h1v1h-1zM710 449h1v1h-1zM711 449h1v1h-1zM712 448h1v1h-1zM713 448h1v1h-1zM714 447h1v1h-1zM715 447h1v1h-1zM716 447h1v1h-1zM717 448h1v1h-1zM718 448h1v1h-1zM719 448h1v1h-1zM720 448h1v1h-1zM721 447h1v1h-1zM722 447h1v1h-1zM723 447h1v1h-1zM724 447h1v1h-1zM725 447h1v1h-1zM726 447h1v1h-1zM727 447h1v1h-1zM728 447h1v1h-1zM729 446h1v1h-1zM730 446h1v1h-1zM731 446h1v1h-1zM732 446h1v1h-1zM733 446h1v1h-1zM734 446h1v1h-1zM735 446h1v1h-1zM736 446h1v1h-1zM737 445h1v1h-1zM738 445h1v1h-1zM739 445h1v1h-1zM740 445h1v1h-1zM741 444h1v1h-1zM742 444h1v1h-1zM743 444h1v1h-1zM744 443h1v1h-1zM745 442h1v1h-1zM746 442h1v1h-1zM747 441h1v1h-1zM748 441h1v1h-1zM749 440h1v1h-1zM750 440h1v1h-1zM751 440h1v1h-1zM752 439h1v1h-1zM753 438h1v1h-1zM754 438h1v1h-1zM755 437h1v1h-1zM756 436h1v1h-1zM757 435h1v1h-1zM758 435h1v1h-1zM759 434h1v1h-1zM760 432h1v2h-1zM761 430h1v2h-1zM762 428h1v2h-1zM763 425h1v3h-1zM764 423h1v2h-1zM765 420h1v3h-1zM766 418h1v2h-1zM767 416h1v2h-1zM768 414h1v2h-1zM769 412h1v2h-1zM770 410h1v2h-1zM771 408h1v2h-1zM772 406h1v2h-1zM773 404h1v2h-1zM774 402h1v2h-1zM775 401h1v1h-1zM776 399h1v2h-1zM777 397h1v2h-1zM778 395h1v2h-1zM779 393h1v2h-1zM780 391h1v2h-1zM781 390h1v1h-1zM782 388h1v2h-1zM783 387h1v1h-1zM784 385h1v2h-1zM785 384h1v1h-1zM786 382h1v2h-1zM787 381h1v1h-1zM788 380h1v1h-1zM789 378h1v2h-1zM790 377h1v1h-1zM791 376h1v1h-1zM792 375h1v1h-1zM793 373h1v2h-1zM794 372h1v1h-1zM795 371h1v1h-1zM796 370h1v1h-1zM797 368h1v2h-1zM798 367h1v1h-1zM799 366h1v1h-1zM800 365h1v1h-1zM801 363h1v2h-1zM802 362h1v1h-1zM803 361h1v1h-1zM804 359h1v2h-1zM805 357h1v2h-1zM806 355h1v2h-1zM807 354h1v1h-1zM808 353h1v1h-1zM809 351h1v2h-1zM810 350h1v1h-1zM811 349h1v1h-1zM812 348h1v1h-1zM813 346h1v2h-1zM814 345h1v1h-1zM815 344h1v1h-1zM816 344h1v1h-1zM817 345h1v1h-1zM818 345h1v1h-1zM819 345h1v1h-1zM820 346h1v1h-1zM821 347h1v1h-1zM822 347h1v1h-1zM823 348h1v1h-1zM824 348h1v1h-1zM825 347h1v1h-1zM826 347h1v1h-1zM827 347h1v1h-1zM828 346h1v1h-1zM829 345h1v1h-1zM830 344h1v1h-1zM831 343h1v1h-1zM832 342h1v1h-1zM833 341h1v1h-1zM834 340h1v1h-1zM835 339h1v1h-1zM836 338h1v1h-1zM837 336h1v2h-1zM838 335h1v1h-1zM839 334h1v1h-1zM840 333h1v1h-1zM841 332h1v1h-1zM842 332h1v1h-1zM843 331h1v1h-1zM844 330h1v1h-1zM845 329h1v1h-1zM846 328h1v1h-1zM847 327h1v1h-1zM848 325h1v2h-1zM849 324h1v1h-1zM850 322h1v2h-1zM851 321h1v1h-1zM852 320h1v1h-1zM853 318h1v2h-1zM854 317h1v1h-1zM855 316h1v1h-1zM856 315h1v1h-1zM857 313h1v2h-1zM858 312h1v1h-1zM859 311h1v1h-1zM860 310h1v1h-1zM861 308h1v2h-1zM862 307h1v1h-1zM863 306h1v1h-1zM864 305h1v1h-1zM865 303h1v2h-1zM866 302h1v1h-1zM867 300h1v2h-1zM868 298h1v2h-1zM869 295h1v3h-1zM870 293h1v2h-1zM871 290h1v3h-1zM872 287h1v3h-1zM873 285h1v2h-1zM874 282h1v3h-1zM875 280h1v2h-1zM876 279h1v1h-1zM877 277h1v2h-1zM878 276h1v1h-1zM879 275h1v1h-1zM880 274h1v1h-1zM881 273h1v1h-1zM882 273h1v1h-1zM883 272h1v1h-1zM884 271h1v1h-1zM885 271h1v1h-1zM886 270h1v1h-1zM887 270h1v1h-1zM888 270h1v1h-1zM889 269h1v1h-1zM890 269h1v1h-1zM891 269h1v1h-1zM892 268h1v1h-1zM893 268h1v1h-1zM894 267h1v1h-1zM895 267h1v1h-1zM896 266h1v1h-1zM897 265h1v1h-1zM898 265h1v1h-1zM899 264h1v1h-1zM900 263h1v1h-1zM901 262h1v1h-1zM902 262h1v1h-1zM903 261h1v1h-1zM904 262h1v1h-1zM905 262h1v1h-1zM906 263h1v1h-1zM907 263h1v1h-1zM908 263h1v1h-1zM909 264h1v1h-1zM910 264h1v1h-1zM911 264h1v1h-1zM912 265h1v1h-1zM913 266h1v1h-1zM914 266h1v1h-1zM915 267h1v1h-1zM916 268h1v1h-1zM917 268h1v1h-1zM918 269h1v1h-1zM919 269h1v1h-1zM920 270h1v1h-1zM921 271h1v1h-1zM922 271h1v1h-1z" fill="#ff0000"/></g>
<rect x="1167" y="288" width="38" height="11" fill="#000"/>
<rect x="3" y="158" width="1162" height="2" fill="#ff0000"/>
<rect x="2" y="156" width="6" height="6" fill="#ff0000"/>
<rect x="4" y="158" width="2" height="2" fill="#fff"/>
<rect x="1159" y="156" width="6" height="6" fill="#ff0000"/>
<rect x="1161" y="158" width="2" height="2" fill="#fff"/>
<rect x="1167" y="153" width="38" height="11" fill="#ff0000"/>
<text x="1171.8" y="161.6" font-size="9.2" fill="#fff" text-anchor="start" font-weight="normal" textLength="31.8" lengthAdjust="spacingAndGlyphs">1.28700</text>
<rect x="3" y="230" width="1162" height="2" fill="#ff0000"/>
<rect x="2" y="228" width="6" height="6" fill="#ff0000"/>
<rect x="4" y="230" width="2" height="2" fill="#fff"/>
<rect x="1159" y="228" width="6" height="6" fill="#ff0000"/>
<rect x="1161" y="230" width="2" height="2" fill="#fff"/>
<rect x="1167" y="225" width="38" height="11" fill="#ff0000"/>
<text x="1171.8" y="233.6" font-size="9.2" fill="#fff" text-anchor="start" font-weight="normal" textLength="31.8" lengthAdjust="spacingAndGlyphs">1.26700</text>
<rect x="3" y="292" width="1162" height="2" fill="#00ff00"/>
<rect x="2" y="290" width="6" height="6" fill="#00ff00"/>
<rect x="4" y="292" width="2" height="2" fill="#fff"/>
<rect x="1159" y="290" width="6" height="6" fill="#00ff00"/>
<rect x="1161" y="292" width="2" height="2" fill="#fff"/>
<rect x="1167" y="287" width="38" height="11" fill="#00ff00"/>
<text x="1171.8" y="295.6" font-size="9.2" fill="#fff" text-anchor="start" font-weight="normal" textLength="31.8" lengthAdjust="spacingAndGlyphs">1.25003</text>
<rect x="3" y="365" width="1162" height="2" fill="#0000ff"/>
<rect x="1167" y="360" width="38" height="11" fill="#0000ff"/>
<text x="1171.8" y="368.6" font-size="9.2" fill="#fff" text-anchor="start" font-weight="normal" textLength="31.8" lengthAdjust="spacingAndGlyphs">1.23003</text>
<rect x="3" y="452" width="1162" height="2" fill="#0000ff"/>
<rect x="1167" y="447" width="38" height="11" fill="#0000ff"/>
<text x="1171.8" y="455.6" font-size="9.2" fill="#fff" text-anchor="start" font-weight="normal" textLength="31.8" lengthAdjust="spacingAndGlyphs">1.20609</text>
<g clip-path="url(#cmain)" shape-rendering="crispEdges"><rect x="3" y="47" width="1" height="54" fill="#32cd32"/><rect x="2" y="60" width="3" height="35" fill="#32cd32"/><rect x="7" y="80" width="1" height="24" fill="#ff0000"/><rect x="6" y="85" width="3" height="10" fill="#ff0000"/><rect x="7" y="86" width="1" height="8" fill="#ff4000"/><rect x="11" y="85" width="1" height="20" fill="#32cd32"/><rect x="10" y="88" width="3" height="10" fill="#32cd32"/><rect x="15" y="95" width="1" height="43" fill="#32cd32"/><rect x="14" y="98" width="3" height="26" fill="#32cd32"/><rect x="19" y="98" width="1" height="29" fill="#ff0000"/><rect x="18" y="106" width="3" height="18" fill="#ff0000"/><rect x="19" y="107" width="1" height="16" fill="#ff4000"/><rect x="23" y="90" width="1" height="27" fill="#ff0000"/><rect x="22" y="96" width="3" height="10" fill="#ff0000"/><rect x="23" y="97" width="1" height="8" fill="#ff4000"/><rect x="27" y="80" width="1" height="20" fill="#32cd32"/><rect x="26" y="85" width="3" height="10" fill="#32cd32"/><rect x="31" y="75" width="1" height="23" fill="#ff0000"/><rect x="30" y="80" width="3" height="12" fill="#ff0000"/><rect x="31" y="81" width="1" height="10" fill="#ff4000"/><rect x="35" y="70" width="1" height="26" fill="#32cd32"/><rect x="34" y="75" width="3" height="15" fill="#32cd32"/><rect x="39" y="60" width="1" height="32" fill="#32cd32"/><rect x="38" y="70" width="3" height="15" fill="#32cd32"/><rect x="43" y="62" width="1" height="26" fill="#ff0000"/><rect x="42" y="68" width="3" height="12" fill="#ff0000"/><rect x="43" y="69" width="1" height="10" fill="#ff4000"/><rect x="47" y="65" width="1" height="25" fill="#32cd32"/><rect x="46" y="70" width="3" height="12" fill="#32cd32"/><rect x="51" y="70" width="1" height="25" fill="#32cd32"/><rect x="50" y="75" width="3" height="13" fill="#32cd32"/><rect x="55" y="68" width="1" height="24" fill="#ff0000"/><rect x="54" y="74" width="3" height="10" fill="#ff0000"/><rect x="55" y="75" width="1" height="8" fill="#ff4000"/><rect x="59" y="72" width="1" height="26" fill="#32cd32"/><rect x="58" y="78" width="3" height="14" fill="#32cd32"/><rect x="63" y="80" width="1" height="20" fill="#32cd32"/><rect x="62" y="85" width="3" height="11" fill="#32cd32"/><rect x="67" y="85" width="1" height="23" fill="#32cd32"/><rect x="66" y="90" width="3" height="10" fill="#32cd32"/><rect x="71" y="95" width="1" height="20" fill="#32cd32"/><rect x="70" y="98" width="3" height="10" fill="#32cd32"/><rect x="75" y="97" width="1" height="20" fill="#ff0000"/><rect x="74" y="105" width="3" height="3" fill="#ff0000"/><rect x="75" y="106" width="1" height="1" fill="#ff4000"/><rect x="79" y="99" width="1" height="23" fill="#32cd32"/><rect x="78" y="105" width="3" height="15" fill="#32cd32"/><rect x="83" y="114" width="1" height="7" fill="#ff0000"/><rect x="82" y="117" width="3" height="3" fill="#ff0000"/><rect x="83" y="118" width="1" height="1" fill="#ff4000"/><rect x="87" y="113" width="1" height="27" fill="#32cd32"/><rect x="86" y="118" width="3" height="9" fill="#32cd32"/><rect x="91" y="108" width="1" height="25" fill="#ff0000"/><rect x="90" y="125" width="3" height="2" fill="#ff0000"/><rect x="95" y="125" width="1" height="17" fill="#32cd32"/><rect x="94" y="125" width="3" height="8" fill="#32cd32"/><rect x="99" y="132" width="1" height="27" fill="#32cd32"/><rect x="98" y="133" width="3" height="25" fill="#32cd32"/><rect x="103" y="154" width="1" height="33" fill="#32cd32"/><rect x="102" y="158" width="3" height="25" fill="#32cd32"/><rect x="107" y="181" width="1" height="11" fill="#32cd32"/><rect x="106" y="183" width="3" height="9" fill="#32cd32"/><rect x="111" y="172" width="1" height="25" fill="#ff0000"/><rect x="110" y="180" width="3" height="11" fill="#ff0000"/><rect x="111" y="181" width="1" height="9" fill="#ff4000"/><rect x="115" y="180" width="1" height="16" fill="#32cd32"/><rect x="114" y="180" width="3" height="8" fill="#32cd32"/><rect x="119" y="175" width="1" height="21" fill="#ff0000"/><rect x="118" y="184" width="3" height="3" fill="#ff0000"/><rect x="119" y="185" width="1" height="1" fill="#ff4000"/><rect x="123" y="172" width="1" height="46" fill="#32cd32"/><rect x="122" y="184" width="3" height="31" fill="#32cd32"/><rect x="127" y="187" width="1" height="30" fill="#ff0000"/><rect x="126" y="194" width="3" height="22" fill="#ff0000"/><rect x="127" y="195" width="1" height="20" fill="#ff4000"/><rect x="131" y="193" width="1" height="7" fill="#32cd32"/><rect x="130" y="194" width="3" height="2" fill="#32cd32"/><rect x="135" y="193" width="1" height="20" fill="#ff0000"/><rect x="134" y="194" width="3" height="9" fill="#ff0000"/><rect x="135" y="195" width="1" height="7" fill="#ff4000"/><rect x="139" y="188" width="1" height="21" fill="#32cd32"/><rect x="138" y="194" width="3" height="15" fill="#32cd32"/><rect x="143" y="197" width="1" height="29" fill="#ff0000"/><rect x="142" y="199" width="3" height="10" fill="#ff0000"/><rect x="143" y="200" width="1" height="8" fill="#ff4000"/><rect x="147" y="188" width="1" height="38" fill="#32cd32"/><rect x="146" y="199" width="3" height="14" fill="#32cd32"/><rect x="151" y="192" width="1" height="24" fill="#ff0000"/><rect x="150" y="192" width="3" height="22" fill="#ff0000"/><rect x="151" y="193" width="1" height="20" fill="#ff4000"/><rect x="155" y="185" width="1" height="10" fill="#ff0000"/><rect x="154" y="189" width="3" height="6" fill="#ff0000"/><rect x="155" y="190" width="1" height="4" fill="#ff4000"/><rect x="159" y="128" width="1" height="62" fill="#ff0000"/><rect x="158" y="159" width="3" height="30" fill="#ff0000"/><rect x="159" y="160" width="1" height="28" fill="#ff4000"/><rect x="163" y="136" width="1" height="42" fill="#ff0000"/><rect x="162" y="137" width="3" height="22" fill="#ff0000"/><rect x="163" y="138" width="1" height="20" fill="#ff4000"/><rect x="167" y="135" width="1" height="34" fill="#32cd32"/><rect x="166" y="137" width="3" height="25" fill="#32cd32"/><rect x="171" y="161" width="1" height="17" fill="#32cd32"/><rect x="170" y="162" width="3" height="7" fill="#32cd32"/><rect x="175" y="167" width="1" height="14" fill="#ff0000"/><rect x="174" y="168" width="3" height="2" fill="#ff0000"/><rect x="179" y="157" width="1" height="22" fill="#ff0000"/><rect x="178" y="158" width="3" height="8" fill="#ff0000"/><rect x="179" y="159" width="1" height="6" fill="#ff4000"/><rect x="183" y="157" width="1" height="36" fill="#32cd32"/><rect x="182" y="158" width="3" height="26" fill="#32cd32"/><rect x="187" y="174" width="1" height="27" fill="#32cd32"/><rect x="186" y="184" width="3" height="16" fill="#32cd32"/><rect x="191" y="195" width="1" height="22" fill="#32cd32"/><rect x="190" y="200" width="3" height="8" fill="#32cd32"/><rect x="195" y="195" width="1" height="22" fill="#32cd32"/><rect x="194" y="207" width="3" height="10" fill="#32cd32"/><rect x="199" y="204" width="1" height="30" fill="#ff0000"/><rect x="198" y="207" width="3" height="4" fill="#ff0000"/><rect x="199" y="208" width="1" height="2" fill="#ff4000"/><rect x="203" y="185" width="1" height="27" fill="#ff0000"/><rect x="202" y="207" width="3" height="1" fill="#ff0000"/><rect x="207" y="205" width="1" height="42" fill="#32cd32"/><rect x="206" y="206" width="3" height="17" fill="#32cd32"/><rect x="211" y="209" width="1" height="27" fill="#ff0000"/><rect x="210" y="213" width="3" height="10" fill="#ff0000"/><rect x="211" y="214" width="1" height="8" fill="#ff4000"/><rect x="215" y="209" width="1" height="28" fill="#32cd32"/><rect x="214" y="213" width="3" height="12" fill="#32cd32"/><rect x="219" y="205" width="1" height="21" fill="#ff0000"/><rect x="218" y="217" width="3" height="8" fill="#ff0000"/><rect x="219" y="218" width="1" height="6" fill="#ff4000"/><rect x="223" y="172" width="1" height="54" fill="#ff0000"/><rect x="222" y="183" width="3" height="40" fill="#ff0000"/><rect x="223" y="184" width="1" height="38" fill="#ff4000"/><rect x="227" y="183" width="1" height="26" fill="#32cd32"/><rect x="226" y="183" width="3" height="14" fill="#32cd32"/><rect x="231" y="196" width="1" height="23" fill="#32cd32"/><rect x="230" y="196" width="3" height="18" fill="#32cd32"/><rect x="235" y="209" width="1" height="33" fill="#32cd32"/><rect x="234" y="214" width="3" height="25" fill="#32cd32"/><rect x="239" y="197" width="1" height="52" fill="#ff0000"/><rect x="238" y="200" width="3" height="39" fill="#ff0000"/><rect x="239" y="201" width="1" height="37" fill="#ff4000"/><rect x="243" y="198" width="1" height="23" fill="#32cd32"/><rect x="242" y="200" width="3" height="11" fill="#32cd32"/><rect x="247" y="185" width="1" height="28" fill="#ff0000"/><rect x="246" y="198" width="3" height="12" fill="#ff0000"/><rect x="247" y="199" width="1" height="10" fill="#ff4000"/><rect x="251" y="196" width="1" height="18" fill="#32cd32"/><rect x="250" y="198" width="3" height="10" fill="#32cd32"/><rect x="255" y="204" width="1" height="51" fill="#32cd32"/><rect x="254" y="208" width="3" height="39" fill="#32cd32"/><rect x="259" y="238" width="1" height="21" fill="#32cd32"/><rect x="258" y="246" width="3" height="4" fill="#32cd32"/><rect x="263" y="214" width="1" height="36" fill="#ff0000"/><rect x="262" y="215" width="3" height="34" fill="#ff0000"/><rect x="263" y="216" width="1" height="32" fill="#ff4000"/><rect x="267" y="206" width="1" height="13" fill="#ff0000"/><rect x="266" y="211" width="3" height="3" fill="#ff0000"/><rect x="267" y="212" width="1" height="1" fill="#ff4000"/><rect x="271" y="202" width="1" height="23" fill="#ff0000"/><rect x="270" y="203" width="3" height="8" fill="#ff0000"/><rect x="271" y="204" width="1" height="6" fill="#ff4000"/><rect x="275" y="191" width="1" height="31" fill="#32cd32"/><rect x="274" y="203" width="3" height="16" fill="#32cd32"/><rect x="279" y="176" width="1" height="50" fill="#ff0000"/><rect x="278" y="194" width="3" height="25" fill="#ff0000"/><rect x="279" y="195" width="1" height="23" fill="#ff4000"/><rect x="283" y="155" width="1" height="48" fill="#ff0000"/><rect x="282" y="182" width="3" height="13" fill="#ff0000"/><rect x="283" y="183" width="1" height="11" fill="#ff4000"/><rect x="287" y="157" width="1" height="50" fill="#32cd32"/><rect x="286" y="182" width="3" height="14" fill="#32cd32"/><rect x="291" y="177" width="1" height="21" fill="#ff0000"/><rect x="290" y="183" width="3" height="13" fill="#ff0000"/><rect x="291" y="184" width="1" height="11" fill="#ff4000"/><rect x="295" y="170" width="1" height="28" fill="#ff0000"/><rect x="294" y="172" width="3" height="18" fill="#ff0000"/><rect x="295" y="173" width="1" height="16" fill="#ff4000"/><rect x="299" y="159" width="1" height="32" fill="#32cd32"/><rect x="298" y="172" width="3" height="1" fill="#32cd32"/><rect x="303" y="173" width="1" height="25" fill="#32cd32"/><rect x="302" y="173" width="3" height="15" fill="#32cd32"/><rect x="307" y="169" width="1" height="28" fill="#ff0000"/><rect x="306" y="169" width="3" height="19" fill="#ff0000"/><rect x="307" y="170" width="1" height="17" fill="#ff4000"/><rect x="311" y="168" width="1" height="27" fill="#32cd32"/><rect x="310" y="171" width="3" height="23" fill="#32cd32"/><rect x="315" y="190" width="1" height="8" fill="#32cd32"/><rect x="314" y="194" width="3" height="3" fill="#32cd32"/><rect x="319" y="191" width="1" height="15" fill="#32cd32"/><rect x="318" y="199" width="3" height="3" fill="#32cd32"/><rect x="323" y="195" width="1" height="21" fill="#32cd32"/><rect x="322" y="201" width="3" height="12" fill="#32cd32"/><rect x="327" y="208" width="1" height="24" fill="#32cd32"/><rect x="326" y="213" width="3" height="15" fill="#32cd32"/><rect x="331" y="217" width="1" height="18" fill="#ff0000"/><rect x="330" y="225" width="3" height="2" fill="#ff0000"/><rect x="335" y="198" width="1" height="29" fill="#ff0000"/><rect x="334" y="219" width="3" height="8" fill="#ff0000"/><rect x="335" y="220" width="1" height="6" fill="#ff4000"/><rect x="339" y="216" width="1" height="13" fill="#32cd32"/><rect x="338" y="219" width="3" height="1" fill="#32cd32"/><rect x="343" y="224" width="1" height="19" fill="#32cd32"/><rect x="342" y="226" width="3" height="16" fill="#32cd32"/><rect x="347" y="221" width="1" height="34" fill="#ff0000"/><rect x="346" y="228" width="3" height="13" fill="#ff0000"/><rect x="347" y="229" width="1" height="11" fill="#ff4000"/><rect x="351" y="204" width="1" height="25" fill="#ff0000"/><rect x="350" y="210" width="3" height="19" fill="#ff0000"/><rect x="351" y="211" width="1" height="17" fill="#ff4000"/><rect x="355" y="205" width="1" height="28" fill="#32cd32"/><rect x="354" y="210" width="3" height="4" fill="#32cd32"/><rect x="359" y="212" width="1" height="43" fill="#32cd32"/><rect x="358" y="213" width="3" height="42" fill="#32cd32"/><rect x="363" y="247" width="1" height="13" fill="#ff0000"/><rect x="362" y="249" width="3" height="6" fill="#ff0000"/><rect x="363" y="250" width="1" height="4" fill="#ff4000"/><rect x="367" y="237" width="1" height="27" fill="#ff0000"/><rect x="366" y="252" width="3" height="1" fill="#ff0000"/><rect x="371" y="240" width="1" height="22" fill="#32cd32"/><rect x="370" y="252" width="3" height="6" fill="#32cd32"/><rect x="375" y="252" width="1" height="23" fill="#32cd32"/><rect x="374" y="258" width="3" height="12" fill="#32cd32"/><rect x="379" y="270" width="1" height="36" fill="#32cd32"/><rect x="378" y="270" width="3" height="19" fill="#32cd32"/><rect x="383" y="227" width="1" height="63" fill="#ff0000"/><rect x="382" y="236" width="3" height="53" fill="#ff0000"/><rect x="383" y="237" width="1" height="51" fill="#ff4000"/><rect x="387" y="211" width="1" height="26" fill="#ff0000"/><rect x="386" y="218" width="3" height="18" fill="#ff0000"/><rect x="387" y="219" width="1" height="16" fill="#ff4000"/><rect x="391" y="208" width="1" height="32" fill="#32cd32"/><rect x="390" y="209" width="3" height="29" fill="#32cd32"/><rect x="395" y="221" width="1" height="29" fill="#32cd32"/><rect x="394" y="237" width="3" height="13" fill="#32cd32"/><rect x="399" y="236" width="1" height="24" fill="#ff0000"/><rect x="398" y="247" width="3" height="2" fill="#ff0000"/><rect x="403" y="230" width="1" height="26" fill="#32cd32"/><rect x="402" y="247" width="3" height="8" fill="#32cd32"/><rect x="407" y="207" width="1" height="59" fill="#ff0000"/><rect x="406" y="226" width="3" height="28" fill="#ff0000"/><rect x="407" y="227" width="1" height="26" fill="#ff4000"/><rect x="411" y="223" width="1" height="16" fill="#32cd32"/><rect x="410" y="225" width="3" height="8" fill="#32cd32"/><rect x="415" y="221" width="1" height="28" fill="#ff0000"/><rect x="414" y="234" width="3" height="7" fill="#ff0000"/><rect x="415" y="235" width="1" height="5" fill="#ff4000"/><rect x="419" y="226" width="1" height="34" fill="#32cd32"/><rect x="418" y="234" width="3" height="8" fill="#32cd32"/><rect x="423" y="227" width="1" height="25" fill="#32cd32"/><rect x="422" y="240" width="3" height="2" fill="#32cd32"/><rect x="427" y="234" width="1" height="36" fill="#32cd32"/><rect x="426" y="242" width="3" height="27" fill="#32cd32"/><rect x="431" y="265" width="1" height="32" fill="#32cd32"/><rect x="430" y="268" width="3" height="28" fill="#32cd32"/><rect x="435" y="293" width="1" height="15" fill="#32cd32"/><rect x="434" y="295" width="3" height="10" fill="#32cd32"/><rect x="439" y="289" width="1" height="27" fill="#ff0000"/><rect x="438" y="297" width="3" height="6" fill="#ff0000"/><rect x="439" y="298" width="1" height="4" fill="#ff4000"/><rect x="443" y="297" width="1" height="16" fill="#32cd32"/><rect x="442" y="297" width="3" height="14" fill="#32cd32"/><rect x="447" y="297" width="1" height="19" fill="#ff0000"/><rect x="446" y="302" width="3" height="9" fill="#ff0000"/><rect x="447" y="303" width="1" height="7" fill="#ff4000"/><rect x="451" y="296" width="1" height="47" fill="#32cd32"/><rect x="450" y="302" width="3" height="16" fill="#32cd32"/><rect x="455" y="276" width="1" height="47" fill="#ff0000"/><rect x="454" y="289" width="3" height="28" fill="#ff0000"/><rect x="455" y="290" width="1" height="26" fill="#ff4000"/><rect x="459" y="289" width="1" height="11" fill="#32cd32"/><rect x="458" y="290" width="3" height="4" fill="#32cd32"/><rect x="463" y="278" width="1" height="25" fill="#ff0000"/><rect x="462" y="283" width="3" height="2" fill="#ff0000"/><rect x="467" y="259" width="1" height="33" fill="#ff0000"/><rect x="466" y="276" width="3" height="8" fill="#ff0000"/><rect x="467" y="277" width="1" height="6" fill="#ff4000"/><rect x="471" y="254" width="1" height="32" fill="#ff0000"/><rect x="470" y="274" width="3" height="3" fill="#ff0000"/><rect x="471" y="275" width="1" height="1" fill="#ff4000"/><rect x="475" y="247" width="1" height="31" fill="#ff0000"/><rect x="474" y="252" width="3" height="24" fill="#ff0000"/><rect x="475" y="253" width="1" height="22" fill="#ff4000"/><rect x="479" y="248" width="1" height="24" fill="#32cd32"/><rect x="478" y="252" width="3" height="14" fill="#32cd32"/><rect x="483" y="254" width="1" height="13" fill="#ff0000"/><rect x="482" y="259" width="3" height="7" fill="#ff0000"/><rect x="483" y="260" width="1" height="5" fill="#ff4000"/><rect x="487" y="247" width="1" height="18" fill="#ff0000"/><rect x="486" y="260" width="3" height="5" fill="#ff0000"/><rect x="487" y="261" width="1" height="3" fill="#ff4000"/><rect x="491" y="240" width="1" height="24" fill="#ff0000"/><rect x="490" y="247" width="3" height="17" fill="#ff0000"/><rect x="491" y="248" width="1" height="15" fill="#ff4000"/><rect x="495" y="242" width="1" height="38" fill="#32cd32"/><rect x="494" y="247" width="3" height="20" fill="#32cd32"/><rect x="499" y="256" width="1" height="17" fill="#32cd32"/><rect x="498" y="267" width="3" height="1" fill="#32cd32"/><rect x="503" y="268" width="1" height="11" fill="#32cd32"/><rect x="502" y="268" width="3" height="10" fill="#32cd32"/><rect x="507" y="267" width="1" height="8" fill="#ff0000"/><rect x="506" y="268" width="3" height="3" fill="#ff0000"/><rect x="507" y="269" width="1" height="1" fill="#ff4000"/><rect x="511" y="259" width="1" height="34" fill="#32cd32"/><rect x="510" y="268" width="3" height="22" fill="#32cd32"/><rect x="515" y="278" width="1" height="12" fill="#ff0000"/><rect x="514" y="278" width="3" height="12" fill="#ff0000"/><rect x="515" y="279" width="1" height="10" fill="#ff4000"/><rect x="519" y="245" width="1" height="34" fill="#ff0000"/><rect x="518" y="252" width="3" height="27" fill="#ff0000"/><rect x="519" y="253" width="1" height="25" fill="#ff4000"/><rect x="523" y="245" width="1" height="22" fill="#32cd32"/><rect x="522" y="252" width="3" height="15" fill="#32cd32"/><rect x="527" y="253" width="1" height="26" fill="#32cd32"/><rect x="526" y="266" width="3" height="13" fill="#32cd32"/><rect x="531" y="278" width="1" height="7" fill="#32cd32"/><rect x="530" y="279" width="3" height="5" fill="#32cd32"/><rect x="535" y="267" width="1" height="17" fill="#ff0000"/><rect x="534" y="273" width="3" height="9" fill="#ff0000"/><rect x="535" y="274" width="1" height="7" fill="#ff4000"/><rect x="539" y="247" width="1" height="32" fill="#32cd32"/><rect x="538" y="273" width="3" height="6" fill="#32cd32"/><rect x="543" y="266" width="1" height="24" fill="#32cd32"/><rect x="542" y="278" width="3" height="11" fill="#32cd32"/><rect x="547" y="273" width="1" height="30" fill="#ff0000"/><rect x="546" y="279" width="3" height="10" fill="#ff0000"/><rect x="547" y="280" width="1" height="8" fill="#ff4000"/><rect x="551" y="272" width="1" height="24" fill="#32cd32"/><rect x="550" y="279" width="3" height="16" fill="#32cd32"/><rect x="555" y="290" width="1" height="6" fill="#ff0000"/><rect x="554" y="293" width="3" height="2" fill="#ff0000"/><rect x="559" y="279" width="1" height="26" fill="#ff0000"/><rect x="558" y="280" width="3" height="9" fill="#ff0000"/><rect x="559" y="281" width="1" height="7" fill="#ff4000"/><rect x="563" y="262" width="1" height="40" fill="#ff0000"/><rect x="562" y="266" width="3" height="15" fill="#ff0000"/><rect x="563" y="267" width="1" height="13" fill="#ff4000"/><rect x="567" y="238" width="1" height="71" fill="#32cd32"/><rect x="566" y="266" width="3" height="34" fill="#32cd32"/><rect x="571" y="291" width="1" height="13" fill="#ff0000"/><rect x="570" y="297" width="3" height="3" fill="#ff0000"/><rect x="571" y="298" width="1" height="1" fill="#ff4000"/><rect x="575" y="289" width="1" height="16" fill="#ff0000"/><rect x="574" y="295" width="3" height="1" fill="#ff0000"/><rect x="579" y="290" width="1" height="15" fill="#32cd32"/><rect x="578" y="291" width="3" height="13" fill="#32cd32"/><rect x="583" y="298" width="1" height="39" fill="#32cd32"/><rect x="582" y="299" width="3" height="32" fill="#32cd32"/><rect x="587" y="324" width="1" height="11" fill="#32cd32"/><rect x="586" y="330" width="3" height="3" fill="#32cd32"/><rect x="591" y="324" width="1" height="23" fill="#32cd32"/><rect x="590" y="332" width="3" height="14" fill="#32cd32"/><rect x="595" y="346" width="1" height="27" fill="#32cd32"/><rect x="594" y="346" width="3" height="22" fill="#32cd32"/><rect x="599" y="358" width="1" height="20" fill="#32cd32"/><rect x="598" y="367" width="3" height="2" fill="#32cd32"/><rect x="603" y="367" width="1" height="8" fill="#32cd32"/><rect x="602" y="369" width="3" height="5" fill="#32cd32"/><rect x="607" y="359" width="1" height="19" fill="#32cd32"/><rect x="606" y="372" width="3" height="3" fill="#32cd32"/><rect x="611" y="348" width="1" height="30" fill="#ff0000"/><rect x="610" y="359" width="3" height="16" fill="#ff0000"/><rect x="611" y="360" width="1" height="14" fill="#ff4000"/><rect x="615" y="358" width="1" height="26" fill="#32cd32"/><rect x="614" y="359" width="3" height="22" fill="#32cd32"/><rect x="619" y="370" width="1" height="39" fill="#32cd32"/><rect x="618" y="380" width="3" height="25" fill="#32cd32"/><rect x="623" y="404" width="1" height="25" fill="#32cd32"/><rect x="622" y="405" width="3" height="20" fill="#32cd32"/><rect x="627" y="416" width="1" height="10" fill="#ff0000"/><rect x="626" y="424" width="3" height="1" fill="#ff0000"/><rect x="631" y="427" width="1" height="18" fill="#32cd32"/><rect x="630" y="428" width="3" height="16" fill="#32cd32"/><rect x="635" y="429" width="1" height="19" fill="#ff0000"/><rect x="634" y="440" width="3" height="4" fill="#ff0000"/><rect x="635" y="441" width="1" height="2" fill="#ff4000"/><rect x="639" y="426" width="1" height="33" fill="#ff0000"/><rect x="638" y="436" width="3" height="5" fill="#ff0000"/><rect x="639" y="437" width="1" height="3" fill="#ff4000"/><rect x="643" y="418" width="1" height="21" fill="#ff0000"/><rect x="642" y="421" width="3" height="17" fill="#ff0000"/><rect x="643" y="422" width="1" height="15" fill="#ff4000"/><rect x="647" y="402" width="1" height="44" fill="#32cd32"/><rect x="646" y="421" width="3" height="13" fill="#32cd32"/><rect x="651" y="429" width="1" height="8" fill="#32cd32"/><rect x="650" y="432" width="3" height="3" fill="#32cd32"/><rect x="655" y="425" width="1" height="25" fill="#32cd32"/><rect x="654" y="431" width="3" height="17" fill="#32cd32"/><rect x="659" y="446" width="1" height="24" fill="#32cd32"/><rect x="658" y="448" width="3" height="5" fill="#32cd32"/><rect x="663" y="430" width="1" height="28" fill="#ff0000"/><rect x="662" y="442" width="3" height="11" fill="#ff0000"/><rect x="663" y="443" width="1" height="9" fill="#ff4000"/><rect x="667" y="423" width="1" height="34" fill="#32cd32"/><rect x="666" y="442" width="3" height="15" fill="#32cd32"/><rect x="671" y="443" width="1" height="22" fill="#ff0000"/><rect x="670" y="449" width="3" height="8" fill="#ff0000"/><rect x="671" y="450" width="1" height="6" fill="#ff4000"/><rect x="675" y="440" width="1" height="13" fill="#32cd32"/><rect x="674" y="448" width="3" height="4" fill="#32cd32"/><rect x="679" y="444" width="1" height="13" fill="#ff0000"/><rect x="678" y="445" width="3" height="2" fill="#ff0000"/><rect x="683" y="445" width="1" height="19" fill="#32cd32"/><rect x="682" y="446" width="3" height="3" fill="#32cd32"/><rect x="687" y="430" width="1" height="29" fill="#ff0000"/><rect x="686" y="434" width="3" height="16" fill="#ff0000"/><rect x="687" y="435" width="1" height="14" fill="#ff4000"/><rect x="691" y="424" width="1" height="31" fill="#32cd32"/><rect x="690" y="434" width="3" height="15" fill="#32cd32"/><rect x="695" y="431" width="1" height="22" fill="#ff0000"/><rect x="694" y="443" width="3" height="5" fill="#ff0000"/><rect x="695" y="444" width="1" height="3" fill="#ff4000"/><rect x="699" y="442" width="1" height="6" fill="#32cd32"/><rect x="698" y="443" width="3" height="4" fill="#32cd32"/><rect x="703" y="442" width="1" height="11" fill="#32cd32"/><rect x="702" y="447" width="3" height="3" fill="#32cd32"/><rect x="707" y="449" width="1" height="25" fill="#32cd32"/><rect x="706" y="450" width="3" height="14" fill="#32cd32"/><rect x="711" y="442" width="1" height="22" fill="#ff0000"/><rect x="710" y="458" width="3" height="6" fill="#ff0000"/><rect x="711" y="459" width="1" height="4" fill="#ff4000"/><rect x="715" y="432" width="1" height="32" fill="#ff0000"/><rect x="714" y="433" width="3" height="25" fill="#ff0000"/><rect x="715" y="434" width="1" height="23" fill="#ff4000"/><rect x="719" y="427" width="1" height="23" fill="#32cd32"/><rect x="718" y="433" width="3" height="10" fill="#32cd32"/><rect x="723" y="443" width="1" height="5" fill="#32cd32"/><rect x="722" y="444" width="3" height="4" fill="#32cd32"/><rect x="727" y="436" width="1" height="18" fill="#32cd32"/><rect x="726" y="447" width="3" height="6" fill="#32cd32"/><rect x="731" y="437" width="1" height="17" fill="#ff0000"/><rect x="730" y="438" width="3" height="16" fill="#ff0000"/><rect x="731" y="439" width="1" height="14" fill="#ff4000"/><rect x="735" y="432" width="1" height="23" fill="#ff0000"/><rect x="734" y="437" width="3" height="1" fill="#ff0000"/><rect x="739" y="430" width="1" height="21" fill="#32cd32"/><rect x="738" y="438" width="3" height="3" fill="#32cd32"/><rect x="743" y="416" width="1" height="31" fill="#ff0000"/><rect x="742" y="416" width="3" height="25" fill="#ff0000"/><rect x="743" y="417" width="1" height="23" fill="#ff4000"/><rect x="747" y="411" width="1" height="7" fill="#ff0000"/><rect x="746" y="414" width="3" height="3" fill="#ff0000"/><rect x="747" y="415" width="1" height="1" fill="#ff4000"/><rect x="751" y="413" width="1" height="17" fill="#32cd32"/><rect x="750" y="417" width="3" height="11" fill="#32cd32"/><rect x="755" y="401" width="1" height="28" fill="#ff0000"/><rect x="754" y="401" width="3" height="27" fill="#ff0000"/><rect x="755" y="402" width="1" height="25" fill="#ff4000"/><rect x="759" y="401" width="1" height="14" fill="#32cd32"/><rect x="758" y="401" width="3" height="14" fill="#32cd32"/><rect x="763" y="346" width="1" height="73" fill="#ff0000"/><rect x="762" y="346" width="3" height="69" fill="#ff0000"/><rect x="763" y="347" width="1" height="67" fill="#ff4000"/><rect x="767" y="300" width="1" height="53" fill="#ff0000"/><rect x="766" y="316" width="3" height="31" fill="#ff0000"/><rect x="767" y="317" width="1" height="29" fill="#ff4000"/><rect x="771" y="314" width="1" height="11" fill="#32cd32"/><rect x="770" y="316" width="3" height="5" fill="#32cd32"/><rect x="775" y="298" width="1" height="44" fill="#32cd32"/><rect x="774" y="313" width="3" height="28" fill="#32cd32"/><rect x="779" y="329" width="1" height="19" fill="#32cd32"/><rect x="778" y="341" width="3" height="3" fill="#32cd32"/><rect x="783" y="342" width="1" height="41" fill="#32cd32"/><rect x="782" y="342" width="3" height="30" fill="#32cd32"/><rect x="787" y="351" width="1" height="21" fill="#ff0000"/><rect x="786" y="352" width="3" height="20" fill="#ff0000"/><rect x="787" y="353" width="1" height="18" fill="#ff4000"/><rect x="791" y="352" width="1" height="24" fill="#32cd32"/><rect x="790" y="353" width="3" height="15" fill="#32cd32"/><rect x="795" y="363" width="1" height="6" fill="#ff0000"/><rect x="794" y="363" width="3" height="5" fill="#ff0000"/><rect x="795" y="364" width="1" height="3" fill="#ff4000"/><rect x="799" y="349" width="1" height="23" fill="#ff0000"/><rect x="798" y="357" width="3" height="11" fill="#ff0000"/><rect x="799" y="358" width="1" height="9" fill="#ff4000"/><rect x="803" y="330" width="1" height="28" fill="#ff0000"/><rect x="802" y="338" width="3" height="20" fill="#ff0000"/><rect x="803" y="339" width="1" height="18" fill="#ff4000"/><rect x="807" y="321" width="1" height="26" fill="#ff0000"/><rect x="806" y="328" width="3" height="10" fill="#ff0000"/><rect x="807" y="329" width="1" height="8" fill="#ff4000"/><rect x="811" y="320" width="1" height="22" fill="#ff0000"/><rect x="810" y="328" width="3" height="1" fill="#ff0000"/><rect x="815" y="312" width="1" height="40" fill="#32cd32"/><rect x="814" y="328" width="3" height="21" fill="#32cd32"/><rect x="819" y="348" width="1" height="15" fill="#32cd32"/><rect x="818" y="349" width="3" height="10" fill="#32cd32"/><rect x="823" y="340" width="1" height="17" fill="#ff0000"/><rect x="822" y="355" width="3" height="2" fill="#ff0000"/><rect x="827" y="295" width="1" height="71" fill="#ff0000"/><rect x="826" y="306" width="3" height="50" fill="#ff0000"/><rect x="827" y="307" width="1" height="48" fill="#ff4000"/><rect x="831" y="286" width="1" height="36" fill="#ff0000"/><rect x="830" y="291" width="3" height="16" fill="#ff0000"/><rect x="831" y="292" width="1" height="14" fill="#ff4000"/><rect x="835" y="261" width="1" height="51" fill="#ff0000"/><rect x="834" y="281" width="3" height="11" fill="#ff0000"/><rect x="835" y="282" width="1" height="9" fill="#ff4000"/><rect x="839" y="273" width="1" height="33" fill="#32cd32"/><rect x="838" y="281" width="3" height="21" fill="#32cd32"/><rect x="843" y="299" width="1" height="11" fill="#32cd32"/><rect x="842" y="302" width="3" height="8" fill="#32cd32"/><rect x="847" y="288" width="1" height="26" fill="#ff0000"/><rect x="846" y="310" width="3" height="1" fill="#ff0000"/><rect x="851" y="279" width="1" height="36" fill="#ff0000"/><rect x="850" y="290" width="3" height="20" fill="#ff0000"/><rect x="851" y="291" width="1" height="18" fill="#ff4000"/><rect x="855" y="284" width="1" height="38" fill="#ff0000"/><rect x="854" y="285" width="3" height="6" fill="#ff0000"/><rect x="855" y="286" width="1" height="4" fill="#ff4000"/><rect x="859" y="262" width="1" height="33" fill="#ff0000"/><rect x="858" y="264" width="3" height="22" fill="#ff0000"/><rect x="859" y="265" width="1" height="20" fill="#ff4000"/><rect x="863" y="253" width="1" height="18" fill="#ff0000"/><rect x="862" y="262" width="3" height="2" fill="#ff0000"/><rect x="867" y="253" width="1" height="12" fill="#ff0000"/><rect x="866" y="255" width="3" height="7" fill="#ff0000"/><rect x="867" y="256" width="1" height="5" fill="#ff4000"/><rect x="871" y="182" width="1" height="71" fill="#ff0000"/><rect x="870" y="201" width="3" height="49" fill="#ff0000"/><rect x="871" y="202" width="1" height="47" fill="#ff4000"/><rect x="875" y="189" width="1" height="25" fill="#32cd32"/><rect x="874" y="201" width="3" height="12" fill="#32cd32"/><rect x="879" y="209" width="1" height="76" fill="#32cd32"/><rect x="878" y="212" width="3" height="68" fill="#32cd32"/><rect x="883" y="258" width="1" height="26" fill="#ff0000"/><rect x="882" y="265" width="3" height="14" fill="#ff0000"/><rect x="883" y="266" width="1" height="12" fill="#ff4000"/><rect x="887" y="253" width="1" height="22" fill="#ff0000"/><rect x="886" y="263" width="3" height="2" fill="#ff0000"/><rect x="891" y="263" width="1" height="5" fill="#32cd32"/><rect x="890" y="264" width="3" height="3" fill="#32cd32"/><rect x="895" y="260" width="1" height="23" fill="#32cd32"/><rect x="894" y="268" width="3" height="11" fill="#32cd32"/><rect x="899" y="258" width="1" height="23" fill="#ff0000"/><rect x="898" y="264" width="3" height="16" fill="#ff0000"/><rect x="899" y="265" width="1" height="14" fill="#ff4000"/><rect x="903" y="255" width="1" height="19" fill="#32cd32"/><rect x="902" y="264" width="3" height="6" fill="#32cd32"/><rect x="907" y="256" width="1" height="62" fill="#32cd32"/><rect x="906" y="270" width="3" height="46" fill="#32cd32"/><rect x="911" y="298" width="1" height="24" fill="#ff0000"/><rect x="910" y="306" width="3" height="9" fill="#ff0000"/><rect x="911" y="307" width="1" height="7" fill="#ff4000"/><rect x="915" y="297" width="1" height="10" fill="#ff0000"/><rect x="914" y="301" width="3" height="5" fill="#ff0000"/><rect x="915" y="302" width="1" height="3" fill="#ff4000"/><rect x="919" y="292" width="1" height="19" fill="#ff0000"/><rect x="918" y="292" width="3" height="12" fill="#ff0000"/><rect x="919" y="293" width="1" height="10" fill="#ff4000"/><rect x="923" y="288" width="1" height="6" fill="#32cd32"/><rect x="922" y="293" width="3" height="1" fill="#32cd32"/></g>
<path d="M6 35 L9.5 31.3 L13 35 Z" fill="#000"/>
<text x="18.7" y="36" font-size="9.2" fill="#000" text-anchor="start" font-weight="normal" textLength="64.5" lengthAdjust="spacingAndGlyphs">USDCAD,Daily</text>
<text x="90" y="36" font-size="9.2" fill="#000" text-anchor="start" font-weight="normal" textLength="141" lengthAdjust="spacingAndGlyphs">1.25011 1.25137 1.24966 1.24988</text>
<defs><linearGradient id="gp" gradientUnits="userSpaceOnUse" x1="0" y1="44" x2="0" y2="101"><stop offset="0" stop-color="#f45a5a"/><stop offset="0.42" stop-color="#d92f2f"/><stop offset="1" stop-color="#ae0000"/></linearGradient></defs>
<rect x="4" y="42" width="224" height="61" fill="#fff"/>
<path d="M6 44H58V68H115V101H6Z" fill="#a80000"/>
<path d="M7 45H57V69H114V100H7Z" fill="url(#gp)"/>
<rect x="10" y="68" width="44" height="1" fill="#8c0000"/>
<rect x="10" y="69" width="44" height="1" fill="#e97070"/>
<text x="18" y="60" font-size="12.5" fill="#fff0f0" text-anchor="start" font-weight="normal" textLength="26" lengthAdjust="spacingAndGlyphs">SELL</text>
<text x="26.6" y="96" font-size="13" fill="#fff" text-anchor="start" font-weight="bold" textLength="23" lengthAdjust="spacingAndGlyphs">1.24</text>
<text x="54.4" y="96" font-size="33.5" fill="#fff" text-anchor="start" font-weight="normal" textLength="33.5" lengthAdjust="spacingAndGlyphs" stroke="url(#gp)" stroke-width="0.6">99</text>
<text x="93.6" y="80" font-size="11.5" fill="#fff" text-anchor="start" font-weight="bold" textLength="6" lengthAdjust="spacingAndGlyphs">1</text>
<path d="M173 44H226V101H117V68H173Z" fill="#a80000"/>
<path d="M174 45H225V100H118V69H174Z" fill="url(#gp)"/>
<rect x="177" y="68" width="44" height="1" fill="#8c0000"/>
<rect x="177" y="69" width="44" height="1" fill="#e97070"/>
<text x="187" y="60" font-size="12.5" fill="#fff0f0" text-anchor="start" font-weight="normal" textLength="22" lengthAdjust="spacingAndGlyphs">BUY</text>
<text x="137" y="96" font-size="13" fill="#fff" text-anchor="start" font-weight="bold" textLength="22.5" lengthAdjust="spacingAndGlyphs">1.25</text>
<text x="165" y="96" font-size="33.5" fill="#fff" text-anchor="start" font-weight="normal" textLength="34" lengthAdjust="spacingAndGlyphs" stroke="url(#gp)" stroke-width="0.6">00</text>
<text x="205" y="80" font-size="11.5" fill="#fff" text-anchor="start" font-weight="bold" textLength="6" lengthAdjust="spacingAndGlyphs">7</text>
<rect x="60" y="44" width="111" height="22" fill="#a9a9a9"/>
<rect x="61" y="45" width="109" height="20" fill="#fff"/>
<rect x="62" y="46" width="19" height="18" fill="url(#gbtn)"/>
<rect x="81" y="45" width="1" height="20" fill="#b4b4b4"/>
<rect x="150" y="46" width="19" height="18" fill="url(#gbtn)"/>
<rect x="149" y="45" width="1" height="20" fill="#b4b4b4"/>
<path d="M68 53 H73.5 L70.75 56 Z" fill="#5a6fb5"/>
<path d="M157 56.5 H162.5 L159.75 53.5 Z" fill="#5a6fb5"/>
<text x="145" y="59" font-size="12.5" fill="#000" text-anchor="end" font-weight="normal" textLength="23" lengthAdjust="spacingAndGlyphs">3.00</text>
<g clip-path="url(#cmacd)" shape-rendering="crispEdges"><rect x="2" y="528" width="3" height="6" fill="#c0c0c0"/><rect x="6" y="528" width="3" height="10" fill="#c0c0c0"/><rect x="10" y="528" width="3" height="13" fill="#c0c0c0"/><rect x="14" y="528" width="3" height="17" fill="#c0c0c0"/><rect x="18" y="528" width="3" height="19" fill="#c0c0c0"/><rect x="22" y="528" width="3" height="18" fill="#c0c0c0"/><rect x="26" y="528" width="3" height="16" fill="#c0c0c0"/><rect x="30" y="528" width="3" height="12" fill="#c0c0c0"/><rect x="34" y="528" width="3" height="12" fill="#c0c0c0"/><rect x="38" y="528" width="3" height="12" fill="#c0c0c0"/><rect x="42" y="528" width="3" height="10" fill="#c0c0c0"/><rect x="46" y="528" width="3" height="9" fill="#c0c0c0"/><rect x="50" y="528" width="3" height="8" fill="#c0c0c0"/><rect x="54" y="528" width="3" height="8" fill="#c0c0c0"/><rect x="58" y="528" width="3" height="9" fill="#c0c0c0"/><rect x="62" y="528" width="3" height="9" fill="#c0c0c0"/><rect x="66" y="528" width="3" height="10" fill="#c0c0c0"/><rect x="70" y="528" width="3" height="12" fill="#c0c0c0"/><rect x="74" y="528" width="3" height="12" fill="#c0c0c0"/><rect x="78" y="528" width="3" height="14" fill="#c0c0c0"/><rect x="82" y="528" width="3" height="15" fill="#c0c0c0"/><rect x="86" y="528" width="3" height="16" fill="#c0c0c0"/><rect x="90" y="528" width="3" height="17" fill="#c0c0c0"/><rect x="94" y="528" width="3" height="17" fill="#c0c0c0"/><rect x="98" y="528" width="3" height="20" fill="#c0c0c0"/><rect x="102" y="528" width="3" height="23" fill="#c0c0c0"/><rect x="106" y="528" width="3" height="27" fill="#c0c0c0"/><rect x="110" y="528" width="3" height="28" fill="#c0c0c0"/><rect x="114" y="528" width="3" height="29" fill="#c0c0c0"/><rect x="118" y="528" width="3" height="30" fill="#c0c0c0"/><rect x="122" y="528" width="3" height="32" fill="#c0c0c0"/><rect x="126" y="528" width="3" height="32" fill="#c0c0c0"/><rect x="130" y="528" width="3" height="32" fill="#c0c0c0"/><rect x="134" y="528" width="3" height="31" fill="#c0c0c0"/><rect x="138" y="528" width="3" height="31" fill="#c0c0c0"/><rect x="142" y="528" width="3" height="30" fill="#c0c0c0"/><rect x="146" y="528" width="3" height="30" fill="#c0c0c0"/><rect x="150" y="528" width="3" height="28" fill="#c0c0c0"/><rect x="154" y="528" width="3" height="26" fill="#c0c0c0"/><rect x="158" y="528" width="3" height="22" fill="#c0c0c0"/><rect x="162" y="528" width="3" height="17" fill="#c0c0c0"/><rect x="166" y="528" width="3" height="14" fill="#c0c0c0"/><rect x="170" y="528" width="3" height="13" fill="#c0c0c0"/><rect x="174" y="528" width="3" height="11" fill="#c0c0c0"/><rect x="178" y="528" width="3" height="9" fill="#c0c0c0"/><rect x="182" y="528" width="3" height="10" fill="#c0c0c0"/><rect x="186" y="528" width="3" height="11" fill="#c0c0c0"/><rect x="190" y="528" width="3" height="12" fill="#c0c0c0"/><rect x="194" y="528" width="3" height="14" fill="#c0c0c0"/><rect x="198" y="528" width="3" height="15" fill="#c0c0c0"/><rect x="202" y="528" width="3" height="15" fill="#c0c0c0"/><rect x="206" y="528" width="3" height="16" fill="#c0c0c0"/><rect x="210" y="528" width="3" height="16" fill="#c0c0c0"/><rect x="214" y="528" width="3" height="17" fill="#c0c0c0"/><rect x="218" y="528" width="3" height="17" fill="#c0c0c0"/><rect x="222" y="528" width="3" height="14" fill="#c0c0c0"/><rect x="226" y="528" width="3" height="12" fill="#c0c0c0"/><rect x="230" y="528" width="3" height="12" fill="#c0c0c0"/><rect x="234" y="528" width="3" height="14" fill="#c0c0c0"/><rect x="238" y="528" width="3" height="12" fill="#c0c0c0"/><rect x="242" y="528" width="3" height="12" fill="#c0c0c0"/><rect x="246" y="528" width="3" height="10" fill="#c0c0c0"/><rect x="250" y="528" width="3" height="9" fill="#c0c0c0"/><rect x="254" y="528" width="3" height="12" fill="#c0c0c0"/><rect x="258" y="528" width="3" height="14" fill="#c0c0c0"/><rect x="262" y="528" width="3" height="13" fill="#c0c0c0"/><rect x="266" y="528" width="3" height="11" fill="#c0c0c0"/><rect x="270" y="528" width="3" height="9" fill="#c0c0c0"/><rect x="274" y="528" width="3" height="9" fill="#c0c0c0"/><rect x="278" y="528" width="3" height="6" fill="#c0c0c0"/><rect x="282" y="528" width="3" height="4" fill="#c0c0c0"/><rect x="286" y="528" width="3" height="2" fill="#c0c0c0"/><rect x="294" y="526" width="3" height="2" fill="#c0c0c0"/><rect x="298" y="524" width="3" height="4" fill="#c0c0c0"/><rect x="302" y="524" width="3" height="4" fill="#c0c0c0"/><rect x="306" y="522" width="3" height="6" fill="#c0c0c0"/><rect x="310" y="523" width="3" height="5" fill="#c0c0c0"/><rect x="314" y="524" width="3" height="4" fill="#c0c0c0"/><rect x="318" y="525" width="3" height="3" fill="#c0c0c0"/><rect x="322" y="527" width="3" height="1" fill="#c0c0c0"/><rect x="326" y="528" width="3" height="1" fill="#c0c0c0"/><rect x="330" y="528" width="3" height="3" fill="#c0c0c0"/><rect x="334" y="528" width="3" height="4" fill="#c0c0c0"/><rect x="338" y="528" width="3" height="5" fill="#c0c0c0"/><rect x="342" y="528" width="3" height="7" fill="#c0c0c0"/><rect x="346" y="528" width="3" height="8" fill="#c0c0c0"/><rect x="350" y="528" width="3" height="7" fill="#c0c0c0"/><rect x="354" y="528" width="3" height="6" fill="#c0c0c0"/><rect x="358" y="528" width="3" height="9" fill="#c0c0c0"/><rect x="362" y="528" width="3" height="10" fill="#c0c0c0"/><rect x="366" y="528" width="3" height="12" fill="#c0c0c0"/><rect x="370" y="528" width="3" height="13" fill="#c0c0c0"/><rect x="374" y="528" width="3" height="15" fill="#c0c0c0"/><rect x="378" y="528" width="3" height="17" fill="#c0c0c0"/><rect x="382" y="528" width="3" height="15" fill="#c0c0c0"/><rect x="386" y="528" width="3" height="12" fill="#c0c0c0"/><rect x="390" y="528" width="3" height="11" fill="#c0c0c0"/><rect x="394" y="528" width="3" height="11" fill="#c0c0c0"/><rect x="398" y="528" width="3" height="10" fill="#c0c0c0"/><rect x="402" y="528" width="3" height="10" fill="#c0c0c0"/><rect x="406" y="528" width="3" height="8" fill="#c0c0c0"/><rect x="410" y="528" width="3" height="7" fill="#c0c0c0"/><rect x="414" y="528" width="3" height="6" fill="#c0c0c0"/><rect x="418" y="528" width="3" height="6" fill="#c0c0c0"/><rect x="422" y="528" width="3" height="5" fill="#c0c0c0"/><rect x="426" y="528" width="3" height="7" fill="#c0c0c0"/><rect x="430" y="528" width="3" height="11" fill="#c0c0c0"/><rect x="434" y="528" width="3" height="14" fill="#c0c0c0"/><rect x="438" y="528" width="3" height="16" fill="#c0c0c0"/><rect x="442" y="528" width="3" height="18" fill="#c0c0c0"/><rect x="446" y="528" width="3" height="19" fill="#c0c0c0"/><rect x="450" y="528" width="3" height="21" fill="#c0c0c0"/><rect x="454" y="528" width="3" height="19" fill="#c0c0c0"/><rect x="458" y="528" width="3" height="19" fill="#c0c0c0"/><rect x="462" y="528" width="3" height="17" fill="#c0c0c0"/><rect x="466" y="528" width="3" height="15" fill="#c0c0c0"/><rect x="470" y="528" width="3" height="13" fill="#c0c0c0"/><rect x="474" y="528" width="3" height="10" fill="#c0c0c0"/><rect x="478" y="528" width="3" height="8" fill="#c0c0c0"/><rect x="482" y="528" width="3" height="6" fill="#c0c0c0"/><rect x="486" y="528" width="3" height="5" fill="#c0c0c0"/><rect x="490" y="528" width="3" height="3" fill="#c0c0c0"/><rect x="494" y="528" width="3" height="2" fill="#c0c0c0"/><rect x="498" y="528" width="3" height="2" fill="#c0c0c0"/><rect x="502" y="528" width="3" height="3" fill="#c0c0c0"/><rect x="506" y="528" width="3" height="2" fill="#c0c0c0"/><rect x="510" y="528" width="3" height="4" fill="#c0c0c0"/><rect x="514" y="528" width="3" height="4" fill="#c0c0c0"/><rect x="518" y="528" width="3" height="2" fill="#c0c0c0"/><rect x="522" y="528" width="3" height="2" fill="#c0c0c0"/><rect x="526" y="528" width="3" height="2" fill="#c0c0c0"/><rect x="530" y="528" width="3" height="3" fill="#c0c0c0"/><rect x="534" y="528" width="3" height="3" fill="#c0c0c0"/><rect x="538" y="528" width="3" height="3" fill="#c0c0c0"/><rect x="542" y="528" width="3" height="4" fill="#c0c0c0"/><rect x="546" y="528" width="3" height="4" fill="#c0c0c0"/><rect x="550" y="528" width="3" height="5" fill="#c0c0c0"/><rect x="554" y="528" width="3" height="6" fill="#c0c0c0"/><rect x="558" y="528" width="3" height="5" fill="#c0c0c0"/><rect x="562" y="528" width="3" height="4" fill="#c0c0c0"/><rect x="566" y="528" width="3" height="5" fill="#c0c0c0"/><rect x="570" y="528" width="3" height="6" fill="#c0c0c0"/><rect x="574" y="528" width="3" height="6" fill="#c0c0c0"/><rect x="578" y="528" width="3" height="7" fill="#c0c0c0"/><rect x="582" y="528" width="3" height="10" fill="#c0c0c0"/><rect x="586" y="528" width="3" height="12" fill="#c0c0c0"/><rect x="590" y="528" width="3" height="14" fill="#c0c0c0"/><rect x="594" y="528" width="3" height="18" fill="#c0c0c0"/><rect x="598" y="528" width="3" height="21" fill="#c0c0c0"/><rect x="602" y="528" width="3" height="23" fill="#c0c0c0"/><rect x="606" y="528" width="3" height="24" fill="#c0c0c0"/><rect x="610" y="528" width="3" height="24" fill="#c0c0c0"/><rect x="614" y="528" width="3" height="25" fill="#c0c0c0"/><rect x="618" y="528" width="3" height="28" fill="#c0c0c0"/><rect x="622" y="528" width="3" height="31" fill="#c0c0c0"/><rect x="626" y="528" width="3" height="33" fill="#c0c0c0"/><rect x="630" y="528" width="3" height="36" fill="#c0c0c0"/><rect x="634" y="528" width="3" height="38" fill="#c0c0c0"/><rect x="638" y="528" width="3" height="38" fill="#c0c0c0"/><rect x="642" y="528" width="3" height="37" fill="#c0c0c0"/><rect x="646" y="528" width="3" height="36" fill="#c0c0c0"/><rect x="650" y="528" width="3" height="36" fill="#c0c0c0"/><rect x="654" y="528" width="3" height="36" fill="#c0c0c0"/><rect x="658" y="528" width="3" height="36" fill="#c0c0c0"/><rect x="662" y="528" width="3" height="35" fill="#c0c0c0"/><rect x="666" y="528" width="3" height="34" fill="#c0c0c0"/><rect x="670" y="528" width="3" height="33" fill="#c0c0c0"/><rect x="674" y="528" width="3" height="32" fill="#c0c0c0"/><rect x="678" y="528" width="3" height="30" fill="#c0c0c0"/><rect x="682" y="528" width="3" height="29" fill="#c0c0c0"/><rect x="686" y="528" width="3" height="26" fill="#c0c0c0"/><rect x="690" y="528" width="3" height="25" fill="#c0c0c0"/><rect x="694" y="528" width="3" height="24" fill="#c0c0c0"/><rect x="698" y="528" width="3" height="22" fill="#c0c0c0"/><rect x="702" y="528" width="3" height="21" fill="#c0c0c0"/><rect x="706" y="528" width="3" height="21" fill="#c0c0c0"/><rect x="710" y="528" width="3" height="21" fill="#c0c0c0"/><rect x="714" y="528" width="3" height="18" fill="#c0c0c0"/><rect x="718" y="528" width="3" height="16" fill="#c0c0c0"/><rect x="722" y="528" width="3" height="15" fill="#c0c0c0"/><rect x="726" y="528" width="3" height="15" fill="#c0c0c0"/><rect x="730" y="528" width="3" height="13" fill="#c0c0c0"/><rect x="734" y="528" width="3" height="11" fill="#c0c0c0"/><rect x="738" y="528" width="3" height="10" fill="#c0c0c0"/><rect x="742" y="528" width="3" height="7" fill="#c0c0c0"/><rect x="746" y="528" width="3" height="5" fill="#c0c0c0"/><rect x="750" y="528" width="3" height="4" fill="#c0c0c0"/><rect x="754" y="528" width="3" height="1" fill="#c0c0c0"/><rect x="762" y="521" width="3" height="7" fill="#c0c0c0"/><rect x="766" y="514" width="3" height="14" fill="#c0c0c0"/><rect x="770" y="509" width="3" height="19" fill="#c0c0c0"/><rect x="774" y="507" width="3" height="21" fill="#c0c0c0"/><rect x="778" y="506" width="3" height="22" fill="#c0c0c0"/><rect x="782" y="507" width="3" height="21" fill="#c0c0c0"/><rect x="786" y="507" width="3" height="21" fill="#c0c0c0"/><rect x="790" y="508" width="3" height="20" fill="#c0c0c0"/><rect x="794" y="509" width="3" height="19" fill="#c0c0c0"/><rect x="798" y="510" width="3" height="18" fill="#c0c0c0"/><rect x="802" y="509" width="3" height="19" fill="#c0c0c0"/><rect x="806" y="507" width="3" height="21" fill="#c0c0c0"/><rect x="810" y="507" width="3" height="21" fill="#c0c0c0"/><rect x="814" y="508" width="3" height="20" fill="#c0c0c0"/><rect x="818" y="510" width="3" height="18" fill="#c0c0c0"/><rect x="822" y="511" width="3" height="17" fill="#c0c0c0"/><rect x="826" y="509" width="3" height="19" fill="#c0c0c0"/><rect x="830" y="506" width="3" height="22" fill="#c0c0c0"/><rect x="834" y="503" width="3" height="25" fill="#c0c0c0"/><rect x="838" y="503" width="3" height="25" fill="#c0c0c0"/><rect x="842" y="503" width="3" height="25" fill="#c0c0c0"/><rect x="846" y="504" width="3" height="24" fill="#c0c0c0"/><rect x="850" y="504" width="3" height="24" fill="#c0c0c0"/><rect x="854" y="503" width="3" height="25" fill="#c0c0c0"/><rect x="858" y="501" width="3" height="27" fill="#c0c0c0"/><rect x="862" y="500" width="3" height="28" fill="#c0c0c0"/><rect x="866" y="499" width="3" height="29" fill="#c0c0c0"/><rect x="870" y="494" width="3" height="34" fill="#c0c0c0"/><rect x="874" y="491" width="3" height="37" fill="#c0c0c0"/><rect x="878" y="495" width="3" height="33" fill="#c0c0c0"/><rect x="882" y="497" width="3" height="31" fill="#c0c0c0"/><rect x="886" y="499" width="3" height="29" fill="#c0c0c0"/><rect x="890" y="501" width="3" height="27" fill="#c0c0c0"/><rect x="894" y="504" width="3" height="24" fill="#c0c0c0"/><rect x="898" y="505" width="3" height="23" fill="#c0c0c0"/><rect x="902" y="507" width="3" height="21" fill="#c0c0c0"/><rect x="906" y="512" width="3" height="16" fill="#c0c0c0"/><rect x="910" y="516" width="3" height="12" fill="#c0c0c0"/><rect x="914" y="518" width="3" height="10" fill="#c0c0c0"/><rect x="918" y="520" width="3" height="8" fill="#c0c0c0"/><rect x="922" y="521" width="3" height="7" fill="#c0c0c0"/></g>
<path d="M3 527h1v1h-1zM4 527h1v1h-1zM5 527h1v1h-1zM6 527h1v1h-1zM7 527h1v1h-1zM8 527h1v1h-1zM9 528h1v1h-1zM10 528h1v1h-1zM11 528h1v1h-1zM12 529h1v1h-1zM13 529h1v1h-1zM14 530h1v1h-1zM15 530h1v1h-1zM16 531h1v1h-1zM17 532h1v1h-1zM18 532h1v1h-1zM19 533h1v1h-1zM20 534h1v1h-1zM21 534h1v1h-1zM22 535h1v1h-1zM23 535h1v1h-1zM24 536h1v1h-1zM25 537h1v1h-1zM26 537h1v1h-1zM27 538h1v1h-1zM28 539h1v1h-1zM29 539h1v1h-1zM30 540h1v1h-1zM31 540h1v1h-1zM32 540h1v1h-1zM33 541h1v1h-1zM34 541h1v1h-1zM35 541h1v1h-1zM36 541h1v1h-1zM37 542h1v1h-1zM38 542h1v1h-1zM39 542h1v1h-1zM40 542h1v1h-1zM41 542h1v1h-1zM42 542h1v1h-1zM43 542h1v1h-1zM44 542h1v1h-1zM45 542h1v1h-1zM46 542h1v1h-1zM47 542h1v1h-1zM48 542h1v1h-1zM49 541h1v1h-1zM50 541h1v1h-1zM51 541h1v1h-1zM52 541h1v1h-1zM53 540h1v1h-1zM54 540h1v1h-1zM55 540h1v1h-1zM56 540h1v1h-1zM57 539h1v1h-1zM58 539h1v1h-1zM59 539h1v1h-1zM60 539h1v1h-1zM61 538h1v1h-1zM62 538h1v1h-1zM63 538h1v1h-1zM64 538h1v1h-1zM65 537h1v1h-1zM66 537h1v1h-1zM67 537h1v1h-1zM68 537h1v1h-1zM69 537h1v1h-1zM70 537h1v1h-1zM71 537h1v1h-1zM72 537h1v1h-1zM73 537h1v1h-1zM74 537h1v1h-1zM75 537h1v1h-1zM76 537h1v1h-1zM77 538h1v1h-1zM78 538h1v1h-1zM79 538h1v1h-1zM80 538h1v1h-1zM81 538h1v1h-1zM82 538h1v1h-1zM83 538h1v1h-1zM84 538h1v1h-1zM85 539h1v1h-1zM86 539h1v1h-1zM87 539h1v1h-1zM88 539h1v1h-1zM89 540h1v1h-1zM90 540h1v1h-1zM91 540h1v1h-1zM92 540h1v1h-1zM93 541h1v1h-1zM94 541h1v1h-1zM95 541h1v1h-1zM96 541h1v1h-1zM97 542h1v1h-1zM98 542h1v1h-1zM99 542h1v1h-1zM100 543h1v1h-1zM101 543h1v1h-1zM102 544h1v1h-1zM103 544h1v1h-1zM104 544h1v1h-1zM105 545h1v1h-1zM106 545h1v1h-1zM107 545h1v1h-1zM108 546h1v1h-1zM109 546h1v1h-1zM110 547h1v1h-1zM111 547h1v1h-1zM112 548h1v1h-1zM113 548h1v1h-1zM114 549h1v1h-1zM115 549h1v1h-1zM116 550h1v1h-1zM117 550h1v1h-1zM118 551h1v1h-1zM119 551h1v1h-1zM120 551h1v1h-1zM121 552h1v1h-1zM122 552h1v1h-1zM123 552h1v1h-1zM124 553h1v1h-1zM125 553h1v1h-1zM126 554h1v1h-1zM127 554h1v1h-1zM128 555h1v1h-1zM129 555h1v1h-1zM130 556h1v1h-1zM131 556h1v1h-1zM132 556h1v1h-1zM133 557h1v1h-1zM134 557h1v1h-1zM135 557h1v1h-1zM136 557h1v1h-1zM137 558h1v1h-1zM138 558h1v1h-1zM139 558h1v1h-1zM140 558h1v1h-1zM141 558h1v1h-1zM142 558h1v1h-1zM143 558h1v1h-1zM144 558h1v1h-1zM145 558h1v1h-1zM146 558h1v1h-1zM147 558h1v1h-1zM148 558h1v1h-1zM149 558h1v1h-1zM150 558h1v1h-1zM151 558h1v1h-1zM152 558h1v1h-1zM153 558h1v1h-1zM154 558h1v1h-1zM155 558h1v1h-1zM156 558h1v1h-1zM157 557h1v1h-1zM158 557h1v1h-1zM159 557h1v1h-1zM160 556h1v1h-1zM161 556h1v1h-1zM162 555h1v1h-1zM163 555h1v1h-1zM164 554h1v1h-1zM165 554h1v1h-1zM166 553h1v1h-1zM167 553h1v1h-1zM168 552h1v1h-1zM169 552h1v1h-1zM170 551h1v1h-1zM171 551h1v1h-1zM172 550h1v1h-1zM173 550h1v1h-1zM174 549h1v1h-1zM175 549h1v1h-1zM176 548h1v1h-1zM177 547h1v1h-1zM178 547h1v1h-1zM179 546h1v1h-1zM180 545h1v1h-1zM181 545h1v1h-1zM182 544h1v1h-1zM183 544h1v1h-1zM184 543h1v1h-1zM185 543h1v1h-1zM186 542h1v1h-1zM187 542h1v1h-1zM188 542h1v1h-1zM189 541h1v1h-1zM190 541h1v1h-1zM191 541h1v1h-1zM192 541h1v1h-1zM193 540h1v1h-1zM194 540h1v1h-1zM195 540h1v1h-1zM196 540h1v1h-1zM197 540h1v1h-1zM198 540h1v1h-1zM199 540h1v1h-1zM200 540h1v1h-1zM201 540h1v1h-1zM202 540h1v1h-1zM203 540h1v1h-1zM204 540h1v1h-1zM205 540h1v1h-1zM206 540h1v1h-1zM207 540h1v1h-1zM208 540h1v1h-1zM209 541h1v1h-1zM210 541h1v1h-1zM211 541h1v1h-1zM212 541h1v1h-1zM213 542h1v1h-1zM214 542h1v1h-1zM215 542h1v1h-1zM216 542h1v1h-1zM217 542h1v1h-1zM218 542h1v1h-1zM219 542h1v1h-1zM220 542h1v1h-1zM221 543h1v1h-1zM222 543h1v1h-1zM223 543h1v1h-1zM224 543h1v1h-1zM225 543h1v1h-1zM226 543h1v1h-1zM227 543h1v1h-1zM228 543h1v1h-1zM229 542h1v1h-1zM230 542h1v1h-1zM231 542h1v1h-1zM232 542h1v1h-1zM233 542h1v1h-1zM234 542h1v1h-1zM235 542h1v1h-1zM236 542h1v1h-1zM237 542h1v1h-1zM238 542h1v1h-1zM239 542h1v1h-1zM240 542h1v1h-1zM241 542h1v1h-1zM242 542h1v1h-1zM243 542h1v1h-1zM244 542h1v1h-1zM245 541h1v1h-1zM246 541h1v1h-1zM247 541h1v1h-1zM248 541h1v1h-1zM249 540h1v1h-1zM250 540h1v1h-1zM251 540h1v1h-1zM252 540h1v1h-1zM253 539h1v1h-1zM254 539h1v1h-1zM255 539h1v1h-1zM256 539h1v1h-1zM257 539h1v1h-1zM258 539h1v1h-1zM259 539h1v1h-1zM260 539h1v1h-1zM261 540h1v1h-1zM262 540h1v1h-1zM263 540h1v1h-1zM264 540h1v1h-1zM265 539h1v1h-1zM266 539h1v1h-1zM267 539h1v1h-1zM268 539h1v1h-1zM269 539h1v1h-1zM270 539h1v1h-1zM271 539h1v1h-1zM272 539h1v1h-1zM273 538h1v1h-1zM274 538h1v1h-1zM275 538h1v1h-1zM276 538h1v1h-1zM277 538h1v1h-1zM278 538h1v1h-1zM279 538h1v1h-1zM280 538h1v1h-1zM281 537h1v1h-1zM282 537h1v1h-1zM283 537h1v1h-1zM284 537h1v1h-1zM285 536h1v1h-1zM286 536h1v1h-1zM287 536h1v1h-1zM288 536h1v1h-1zM289 535h1v1h-1zM290 535h1v1h-1zM291 535h1v1h-1zM292 534h1v1h-1zM293 534h1v1h-1zM294 533h1v1h-1zM295 533h1v1h-1zM296 533h1v1h-1zM297 532h1v1h-1zM298 532h1v1h-1zM299 532h1v1h-1zM300 531h1v1h-1zM301 531h1v1h-1zM302 530h1v1h-1zM303 530h1v1h-1zM304 529h1v1h-1zM305 529h1v1h-1zM306 528h1v1h-1zM307 528h1v1h-1zM308 528h1v1h-1zM309 527h1v1h-1zM310 527h1v1h-1zM311 527h1v1h-1zM312 527h1v1h-1zM313 526h1v1h-1zM314 526h1v1h-1zM315 526h1v1h-1zM316 526h1v1h-1zM317 525h1v1h-1zM318 525h1v1h-1zM319 525h1v1h-1zM320 525h1v1h-1zM321 524h1v1h-1zM322 524h1v1h-1zM323 524h1v1h-1zM324 524h1v1h-1zM325 525h1v1h-1zM326 525h1v1h-1zM327 525h1v1h-1zM328 525h1v1h-1zM329 525h1v1h-1zM330 525h1v1h-1zM331 525h1v1h-1zM332 525h1v1h-1zM333 526h1v1h-1zM334 526h1v1h-1zM335 526h1v1h-1zM336 526h1v1h-1zM337 527h1v1h-1zM338 527h1v1h-1zM339 527h1v1h-1zM340 527h1v1h-1zM341 528h1v1h-1zM342 528h1v1h-1zM343 528h1v1h-1zM344 529h1v1h-1zM345 529h1v1h-1zM346 530h1v1h-1zM347 530h1v1h-1zM348 530h1v1h-1zM349 531h1v1h-1zM350 531h1v1h-1zM351 531h1v1h-1zM352 531h1v1h-1zM353 532h1v1h-1zM354 532h1v1h-1zM355 532h1v1h-1zM356 532h1v1h-1zM357 533h1v1h-1zM358 533h1v1h-1zM359 533h1v1h-1zM360 533h1v1h-1zM361 534h1v1h-1zM362 534h1v1h-1zM363 534h1v1h-1zM364 534h1v1h-1zM365 535h1v1h-1zM366 535h1v1h-1zM367 535h1v1h-1zM368 535h1v1h-1zM369 536h1v1h-1zM370 536h1v1h-1zM371 536h1v1h-1zM372 536h1v1h-1zM373 537h1v1h-1zM374 537h1v1h-1zM375 537h1v1h-1zM376 537h1v1h-1zM377 538h1v1h-1zM378 538h1v1h-1zM379 538h1v1h-1zM380 538h1v1h-1zM381 539h1v1h-1zM382 539h1v1h-1zM383 539h1v1h-1zM384 539h1v1h-1zM385 540h1v1h-1zM386 540h1v1h-1zM387 540h1v1h-1zM388 540h1v1h-1zM389 540h1v1h-1zM390 540h1v1h-1zM391 540h1v1h-1zM392 540h1v1h-1zM393 540h1v1h-1zM394 540h1v1h-1zM395 540h1v1h-1zM396 540h1v1h-1zM397 540h1v1h-1zM398 540h1v1h-1zM399 540h1v1h-1zM400 540h1v1h-1zM401 540h1v1h-1zM402 540h1v1h-1zM403 540h1v1h-1zM404 540h1v1h-1zM405 540h1v1h-1zM406 540h1v1h-1zM407 540h1v1h-1zM408 540h1v1h-1zM409 539h1v1h-1zM410 539h1v1h-1zM411 539h1v1h-1zM412 539h1v1h-1zM413 538h1v1h-1zM414 538h1v1h-1zM415 538h1v1h-1zM416 538h1v1h-1zM417 537h1v1h-1zM418 537h1v1h-1zM419 537h1v1h-1zM420 537h1v1h-1zM421 536h1v1h-1zM422 536h1v1h-1zM423 536h1v1h-1zM424 536h1v1h-1zM425 535h1v1h-1zM426 535h1v1h-1zM427 535h1v1h-1zM428 535h1v1h-1zM429 535h1v1h-1zM430 535h1v1h-1zM431 535h1v1h-1zM432 535h1v1h-1zM433 536h1v1h-1zM434 536h1v1h-1zM435 536h1v1h-1zM436 536h1v1h-1zM437 536h1v1h-1zM438 536h1v1h-1zM439 536h1v1h-1zM440 536h1v1h-1zM441 537h1v1h-1zM442 537h1v1h-1zM443 537h1v1h-1zM444 538h1v1h-1zM445 538h1v1h-1zM446 539h1v1h-1zM447 539h1v1h-1zM448 539h1v1h-1zM449 540h1v1h-1zM450 540h1v1h-1zM451 540h1v1h-1zM452 541h1v1h-1zM453 541h1v1h-1zM454 542h1v1h-1zM455 542h1v1h-1zM456 542h1v1h-1zM457 543h1v1h-1zM458 543h1v1h-1zM459 543h1v1h-1zM460 543h1v1h-1zM461 544h1v1h-1zM462 544h1v1h-1zM463 544h1v1h-1zM464 544h1v1h-1zM465 545h1v1h-1zM466 545h1v1h-1zM467 545h1v1h-1zM468 545h1v1h-1zM469 545h1v1h-1zM470 545h1v1h-1zM471 545h1v1h-1zM472 545h1v1h-1zM473 544h1v1h-1zM474 544h1v1h-1zM475 544h1v1h-1zM476 544h1v1h-1zM477 543h1v1h-1zM478 543h1v1h-1zM479 543h1v1h-1zM480 543h1v1h-1zM481 542h1v1h-1zM482 542h1v1h-1zM483 542h1v1h-1zM484 541h1v1h-1zM485 541h1v1h-1zM486 540h1v1h-1zM487 540h1v1h-1zM488 539h1v1h-1zM489 539h1v1h-1zM490 538h1v1h-1zM491 538h1v1h-1zM492 537h1v1h-1zM493 537h1v1h-1zM494 536h1v1h-1zM495 536h1v1h-1zM496 536h1v1h-1zM497 535h1v1h-1zM498 535h1v1h-1zM499 535h1v1h-1zM500 534h1v1h-1zM501 534h1v1h-1zM502 533h1v1h-1zM503 533h1v1h-1zM504 533h1v1h-1zM505 532h1v1h-1zM506 532h1v1h-1zM507 532h1v1h-1zM508 532h1v1h-1zM509 531h1v1h-1zM510 531h1v1h-1zM511 531h1v1h-1zM512 531h1v1h-1zM513 531h1v1h-1zM514 531h1v1h-1zM515 531h1v1h-1zM516 531h1v1h-1zM517 530h1v1h-1zM518 530h1v1h-1zM519 530h1v1h-1zM520 530h1v1h-1zM521 530h1v1h-1zM522 530h1v1h-1zM523 530h1v1h-1zM524 530h1v1h-1zM525 530h1v1h-1zM526 530h1v1h-1zM527 530h1v1h-1zM528 530h1v1h-1zM529 530h1v1h-1zM530 530h1v1h-1zM531 530h1v1h-1zM532 530h1v1h-1zM533 530h1v1h-1zM534 530h1v1h-1zM535 530h1v1h-1zM536 530h1v1h-1zM537 530h1v1h-1zM538 530h1v1h-1zM539 530h1v1h-1zM540 530h1v1h-1zM541 530h1v1h-1zM542 530h1v1h-1zM543 530h1v1h-1zM544 530h1v1h-1zM545 530h1v1h-1zM546 530h1v1h-1zM547 530h1v1h-1zM548 530h1v1h-1zM549 531h1v1h-1zM550 531h1v1h-1zM551 531h1v1h-1zM552 531h1v1h-1zM553 531h1v1h-1zM554 531h1v1h-1zM555 531h1v1h-1zM556 531h1v1h-1zM557 531h1v1h-1zM558 531h1v1h-1zM559 531h1v1h-1zM560 531h1v1h-1zM561 532h1v1h-1zM562 532h1v1h-1zM563 532h1v1h-1zM564 532h1v1h-1zM565 532h1v1h-1zM566 532h1v1h-1zM567 532h1v1h-1zM568 532h1v1h-1zM569 532h1v1h-1zM570 532h1v1h-1zM571 532h1v1h-1zM572 532h1v1h-1zM573 532h1v1h-1zM574 532h1v1h-1zM575 532h1v1h-1zM576 532h1v1h-1zM577 533h1v1h-1zM578 533h1v1h-1zM579 533h1v1h-1zM580 533h1v1h-1zM581 533h1v1h-1zM582 533h1v1h-1zM583 533h1v1h-1zM584 533h1v1h-1zM585 534h1v1h-1zM586 534h1v1h-1zM587 534h1v1h-1zM588 534h1v1h-1zM589 535h1v1h-1zM590 535h1v1h-1zM591 535h1v1h-1zM592 536h1v1h-1zM593 536h1v1h-1zM594 537h1v1h-1zM595 537h1v1h-1zM596 537h1v1h-1zM597 538h1v1h-1zM598 538h1v1h-1zM599 538h1v1h-1zM600 539h1v1h-1zM601 539h1v1h-1zM602 540h1v1h-1zM603 540h1v1h-1zM604 541h1v1h-1zM605 542h1v1h-1zM606 542h1v1h-1zM607 543h1v1h-1zM608 544h1v1h-1zM609 544h1v1h-1zM610 545h1v1h-1zM611 545h1v1h-1zM612 546h1v1h-1zM613 546h1v1h-1zM614 547h1v1h-1zM615 547h1v1h-1zM616 548h1v1h-1zM617 548h1v1h-1zM618 549h1v1h-1zM619 549h1v1h-1zM620 550h1v1h-1zM621 550h1v1h-1zM622 551h1v1h-1zM623 551h1v1h-1zM624 552h1v1h-1zM625 552h1v1h-1zM626 553h1v1h-1zM627 553h1v1h-1zM628 554h1v1h-1zM629 554h1v1h-1zM630 555h1v1h-1zM631 555h1v1h-1zM632 556h1v1h-1zM633 556h1v1h-1zM634 557h1v1h-1zM635 557h1v1h-1zM636 557h1v1h-1zM637 558h1v1h-1zM638 558h1v1h-1zM639 558h1v1h-1zM640 559h1v1h-1zM641 559h1v1h-1zM642 560h1v1h-1zM643 560h1v1h-1zM644 560h1v1h-1zM645 561h1v1h-1zM646 561h1v1h-1zM647 561h1v1h-1zM648 561h1v1h-1zM649 562h1v1h-1zM650 562h1v1h-1zM651 562h1v1h-1zM652 562h1v1h-1zM653 563h1v1h-1zM654 563h1v1h-1zM655 563h1v1h-1zM656 563h1v1h-1zM657 564h1v1h-1zM658 564h1v1h-1zM659 564h1v1h-1zM660 564h1v1h-1zM661 564h1v1h-1zM662 564h1v1h-1zM663 564h1v1h-1zM664 564h1v1h-1zM665 564h1v1h-1zM666 564h1v1h-1zM667 564h1v1h-1zM668 564h1v1h-1zM669 563h1v1h-1zM670 563h1v1h-1zM671 563h1v1h-1zM672 563h1v1h-1zM673 562h1v1h-1zM674 562h1v1h-1zM675 562h1v1h-1zM676 562h1v1h-1zM677 562h1v1h-1zM678 562h1v1h-1zM679 562h1v1h-1zM680 562h1v1h-1zM681 561h1v1h-1zM682 561h1v1h-1zM683 561h1v1h-1zM684 561h1v1h-1zM685 560h1v1h-1zM686 560h1v1h-1zM687 560h1v1h-1zM688 560h1v1h-1zM689 559h1v1h-1zM690 559h1v1h-1zM691 559h1v1h-1zM692 558h1v1h-1zM693 558h1v1h-1zM694 557h1v1h-1zM695 557h1v1h-1zM696 557h1v1h-1zM697 556h1v1h-1zM698 556h1v1h-1zM699 556h1v1h-1zM700 556h1v1h-1zM701 555h1v1h-1zM702 555h1v1h-1zM703 555h1v1h-1zM704 554h1v1h-1zM705 554h1v1h-1zM706 553h1v1h-1zM707 553h1v1h-1zM708 553h1v1h-1zM709 552h1v1h-1zM710 552h1v1h-1zM711 552h1v1h-1zM712 552h1v1h-1zM713 551h1v1h-1zM714 551h1v1h-1zM715 551h1v1h-1zM716 550h1v1h-1zM717 550h1v1h-1zM718 549h1v1h-1zM719 549h1v1h-1zM720 549h1v1h-1zM721 548h1v1h-1zM722 548h1v1h-1zM723 548h1v1h-1zM724 548h1v1h-1zM725 547h1v1h-1zM726 547h1v1h-1zM727 547h1v1h-1zM728 547h1v1h-1zM729 546h1v1h-1zM730 546h1v1h-1zM731 546h1v1h-1zM732 545h1v1h-1zM733 545h1v1h-1zM734 544h1v1h-1zM735 544h1v1h-1zM736 544h1v1h-1zM737 543h1v1h-1zM738 543h1v1h-1zM739 543h1v1h-1zM740 543h1v1h-1zM741 542h1v1h-1zM742 542h1v1h-1zM743 542h1v1h-1zM744 541h1v1h-1zM745 541h1v1h-1zM746 540h1v1h-1zM747 540h1v1h-1zM748 539h1v1h-1zM749 539h1v1h-1zM750 538h1v1h-1zM751 538h1v1h-1zM752 538h1v1h-1zM753 537h1v1h-1zM754 537h1v1h-1zM755 537h1v1h-1zM756 536h1v1h-1zM757 536h1v1h-1zM758 535h1v1h-1zM759 535h1v1h-1zM760 534h1v1h-1zM761 533h1v1h-1zM762 533h1v1h-1zM763 532h1v1h-1zM764 531h1v1h-1zM765 531h1v1h-1zM766 530h1v1h-1zM767 530h1v1h-1zM768 529h1v1h-1zM769 528h1v1h-1zM770 527h1v1h-1zM771 526h1v1h-1zM772 525h1v1h-1zM773 524h1v1h-1zM774 524h1v1h-1zM775 523h1v1h-1zM776 522h1v1h-1zM777 521h1v1h-1zM778 520h1v1h-1zM779 519h1v1h-1zM780 518h1v1h-1zM781 517h1v1h-1zM782 517h1v1h-1zM783 516h1v1h-1zM784 515h1v1h-1zM785 515h1v1h-1zM786 514h1v1h-1zM787 514h1v1h-1zM788 513h1v1h-1zM789 512h1v1h-1zM790 512h1v1h-1zM791 511h1v1h-1zM792 510h1v1h-1zM793 510h1v1h-1zM794 509h1v1h-1zM795 509h1v1h-1zM796 509h1v1h-1zM797 508h1v1h-1zM798 508h1v1h-1zM799 508h1v1h-1zM800 508h1v1h-1zM801 507h1v1h-1zM802 507h1v1h-1zM803 507h1v1h-1zM804 507h1v1h-1zM805 507h1v1h-1zM806 507h1v1h-1zM807 507h1v1h-1zM808 507h1v1h-1zM809 507h1v1h-1zM810 507h1v1h-1zM811 507h1v1h-1zM812 507h1v1h-1zM813 507h1v1h-1zM814 507h1v1h-1zM815 507h1v1h-1zM816 507h1v1h-1zM817 508h1v1h-1zM818 508h1v1h-1zM819 508h1v1h-1zM820 508h1v1h-1zM821 508h1v1h-1zM822 508h1v1h-1zM823 508h1v1h-1zM824 508h1v1h-1zM825 508h1v1h-1zM826 508h1v1h-1zM827 508h1v1h-1zM828 508h1v1h-1zM829 508h1v1h-1zM830 508h1v1h-1zM831 508h1v1h-1zM832 508h1v1h-1zM833 507h1v1h-1zM834 507h1v1h-1zM835 507h1v1h-1zM836 507h1v1h-1zM837 507h1v1h-1zM838 507h1v1h-1zM839 507h1v1h-1zM840 507h1v1h-1zM841 506h1v1h-1zM842 506h1v1h-1zM843 506h1v1h-1zM844 506h1v1h-1zM845 506h1v1h-1zM846 506h1v1h-1zM847 506h1v1h-1zM848 506h1v1h-1zM849 505h1v1h-1zM850 505h1v1h-1zM851 505h1v1h-1zM852 505h1v1h-1zM853 505h1v1h-1zM854 505h1v1h-1zM855 505h1v1h-1zM856 505h1v1h-1zM857 504h1v1h-1zM858 504h1v1h-1zM859 504h1v1h-1zM860 504h1v1h-1zM861 503h1v1h-1zM862 503h1v1h-1zM863 503h1v1h-1zM864 503h1v1h-1zM865 502h1v1h-1zM866 502h1v1h-1zM867 502h1v1h-1zM868 502h1v1h-1zM869 501h1v1h-1zM870 501h1v1h-1zM871 501h1v1h-1zM872 501h1v1h-1zM873 500h1v1h-1zM874 500h1v1h-1zM875 500h1v1h-1zM876 500h1v1h-1zM877 499h1v1h-1zM878 499h1v1h-1zM879 499h1v1h-1zM880 499h1v1h-1zM881 498h1v1h-1zM882 498h1v1h-1zM883 498h1v1h-1zM884 498h1v1h-1zM885 497h1v1h-1zM886 497h1v1h-1zM887 497h1v1h-1zM888 497h1v1h-1zM889 497h1v1h-1zM890 497h1v1h-1zM891 497h1v1h-1zM892 497h1v1h-1zM893 497h1v1h-1zM894 497h1v1h-1zM895 497h1v1h-1zM896 497h1v1h-1zM897 498h1v1h-1zM898 498h1v1h-1zM899 498h1v1h-1zM900 498h1v1h-1zM901 499h1v1h-1zM902 499h1v1h-1zM903 499h1v1h-1zM904 500h1v1h-1zM905 500h1v1h-1zM906 501h1v1h-1zM907 501h1v1h-1zM908 502h1v1h-1zM909 503h1v1h-1zM910 503h1v1h-1zM911 504h1v1h-1zM912 505h1v1h-1zM913 505h1v1h-1zM914 506h1v1h-1zM915 506h1v1h-1zM916 507h1v1h-1zM917 508h1v1h-1zM918 508h1v1h-1zM919 509h1v1h-1zM920 510h1v1h-1zM921 510h1v1h-1zM922 511h1v1h-1z" fill="#ff0000"/>
<text x="7.5" y="498.8" font-size="9.2" fill="#000" text-anchor="start" font-weight="normal" textLength="147" lengthAdjust="spacingAndGlyphs">MACD(12,26,9) 0.001939 0.004580</text>
<rect x="1166" y="488" width="2" height="1" fill="#000"/>
<rect x="1166" y="528" width="3" height="1" fill="#000"/>
<rect x="1166" y="569" width="2" height="1" fill="#000"/>
<text x="1169.1" y="496.6" font-size="9.2" fill="#000" text-anchor="start" font-weight="normal" textLength="32.4" lengthAdjust="spacingAndGlyphs">0.01135</text>
<text x="1169.5" y="531.8" font-size="9.2" fill="#000" text-anchor="start" font-weight="normal" textLength="17.3" lengthAdjust="spacingAndGlyphs">0.00</text>
<text x="1169.2" y="566.6" font-size="9.2" fill="#000" text-anchor="start" font-weight="normal" textLength="37" lengthAdjust="spacingAndGlyphs">-0.01190</text>
<line x1="4" y1="599.5" x2="1165" y2="599.5" stroke="#c0c0c0" stroke-width="1" stroke-dasharray="3,3" shape-rendering="crispEdges"/>
<line x1="4" y1="633.5" x2="1165" y2="633.5" stroke="#c0c0c0" stroke-width="1" stroke-dasharray="3,3" shape-rendering="crispEdges"/>
<path d="M3 627h1v1h-1zM4 627h1v1h-1zM5 627h1v1h-1zM6 627h1v1h-1zM7 627h1v1h-1zM8 627h1v1h-1zM9 627h1v1h-1zM10 627h1v1h-1zM11 627h1v1h-1zM12 628h1v1h-1zM13 629h1v1h-1zM14 629h1v1h-1zM15 630h1v1h-1zM16 629h1v1h-1zM17 627h1v2h-1zM18 626h1v1h-1zM19 625h1v1h-1zM20 624h1v1h-1zM21 622h1v2h-1zM22 621h1v1h-1zM23 620h1v1h-1zM24 619h1v1h-1zM25 618h1v1h-1zM26 618h1v1h-1zM27 617h1v1h-1zM28 616h1v1h-1zM29 616h1v1h-1zM30 615h1v1h-1zM31 615h1v1h-1zM32 616h1v1h-1zM33 616h1v1h-1zM34 617h1v1h-1zM35 617h1v1h-1zM36 618h1v1h-1zM37 619h1v1h-1zM38 620h1v1h-1zM39 621h1v1h-1zM40 620h1v1h-1zM41 620h1v1h-1zM42 619h1v1h-1zM43 619h1v1h-1zM44 620h1v1h-1zM45 620h1v1h-1zM46 621h1v1h-1zM47 621h1v1h-1zM48 620h1v1h-1zM49 620h1v1h-1zM50 619h1v1h-1zM51 619h1v1h-1zM52 620h1v1h-1zM53 620h1v1h-1zM54 621h1v1h-1zM55 621h1v1h-1zM56 620h1v1h-1zM57 619h1v1h-1zM58 619h1v1h-1zM59 618h1v1h-1zM60 618h1v1h-1zM61 618h1v1h-1zM62 618h1v1h-1zM63 618h1v1h-1zM64 619h1v1h-1zM65 620h1v2h-1zM66 622h1v1h-1zM67 623h1v1h-1zM68 623h1v1h-1zM69 624h1v1h-1zM70 624h1v1h-1zM71 624h1v1h-1zM72 624h1v1h-1zM73 624h1v1h-1zM74 624h1v1h-1zM75 624h1v1h-1zM76 625h1v1h-1zM77 625h1v1h-1zM78 626h1v1h-1zM79 626h1v1h-1zM80 626h1v1h-1zM81 626h1v1h-1zM82 626h1v1h-1zM83 626h1v1h-1zM84 626h1v1h-1zM85 627h1v1h-1zM86 627h1v1h-1zM87 627h1v1h-1zM88 627h1v1h-1zM89 627h1v1h-1zM90 627h1v1h-1zM91 627h1v1h-1zM92 628h1v1h-1zM93 628h1v1h-1zM94 629h1v1h-1zM95 629h1v1h-1zM96 630h1v1h-1zM97 631h1v1h-1zM98 632h1v1h-1zM99 633h1v1h-1zM100 634h1v1h-1zM101 635h1v1h-1zM102 635h1v1h-1zM103 636h1v1h-1zM104 637h1v1h-1zM105 637h1v1h-1zM106 638h1v1h-1zM107 638h1v1h-1zM108 637h1v1h-1zM109 635h1v2h-1zM110 634h1v1h-1zM111 633h1v1h-1zM112 633h1v1h-1zM113 634h1v1h-1zM114 634h1v1h-1zM115 634h1v1h-1zM116 634h1v1h-1zM117 633h1v1h-1zM118 633h1v1h-1zM119 633h1v1h-1zM120 634h1v1h-1zM121 635h1v1h-1zM122 636h1v1h-1zM123 637h1v1h-1zM124 635h1v2h-1zM125 633h1v2h-1zM126 631h1v2h-1zM127 630h1v1h-1zM128 630h1v1h-1zM129 630h1v1h-1zM130 630h1v1h-1zM131 630h1v1h-1zM132 630h1v1h-1zM133 630h1v1h-1zM134 630h1v1h-1zM135 630h1v1h-1zM136 631h1v1h-1zM137 632h1v1h-1zM138 632h1v1h-1zM139 633h1v1h-1zM140 632h1v1h-1zM141 631h1v1h-1zM142 630h1v1h-1zM143 629h1v1h-1zM144 630h1v1h-1zM145 631h1v1h-1zM146 631h1v1h-1zM147 632h1v1h-1zM148 630h1v2h-1zM149 628h1v2h-1zM150 626h1v2h-1zM151 625h1v1h-1zM152 625h1v1h-1zM153 624h1v1h-1zM154 624h1v1h-1zM155 623h1v2h-1zM156 621h1v2h-1zM157 619h1v2h-1zM158 617h1v2h-1zM159 615h1v2h-1zM160 614h1v1h-1zM161 612h1v2h-1zM162 611h1v1h-1zM163 610h1v1h-1zM164 611h1v2h-1zM165 613h1v1h-1zM166 614h1v2h-1zM167 616h1v1h-1zM168 617h1v1h-1zM169 617h1v1h-1zM170 618h1v1h-1zM171 618h1v1h-1zM172 618h1v1h-1zM173 618h1v1h-1zM174 618h1v1h-1zM175 618h1v1h-1zM176 617h1v1h-1zM177 617h1v1h-1zM178 616h1v1h-1zM179 616h1v1h-1zM180 617h1v2h-1zM181 619h1v1h-1zM182 620h1v2h-1zM183 622h1v1h-1zM184 623h1v1h-1zM185 624h1v1h-1zM186 624h1v1h-1zM187 625h1v1h-1zM188 625h1v1h-1zM189 626h1v1h-1zM190 626h1v1h-1zM191 626h1v1h-1zM192 627h1v1h-1zM193 627h1v1h-1zM194 628h1v1h-1zM195 628h1v1h-1zM196 627h1v1h-1zM197 626h1v1h-1zM198 626h1v1h-1zM199 625h1v1h-1zM200 625h1v1h-1zM201 625h1v1h-1zM202 625h1v1h-1zM203 625h1v1h-1zM204 626h1v1h-1zM205 627h1v1h-1zM206 627h1v1h-1zM207 628h1v1h-1zM208 627h1v1h-1zM209 626h1v1h-1zM210 626h1v1h-1zM211 625h1v1h-1zM212 626h1v1h-1zM213 626h1v1h-1zM214 627h1v1h-1zM215 627h1v1h-1zM216 626h1v1h-1zM217 626h1v1h-1zM218 625h1v1h-1zM219 624h1v2h-1zM220 622h1v2h-1zM221 619h1v3h-1zM222 617h1v2h-1zM223 615h1v2h-1zM224 616h1v1h-1zM225 617h1v1h-1zM226 617h1v1h-1zM227 618h1v1h-1zM228 619h1v1h-1zM229 620h1v1h-1zM230 621h1v1h-1zM231 622h1v1h-1zM232 623h1v1h-1zM233 624h1v2h-1zM234 626h1v1h-1zM235 626h1v2h-1zM236 624h1v2h-1zM237 621h1v3h-1zM238 619h1v2h-1zM239 617h1v2h-1zM240 618h1v1h-1zM241 618h1v1h-1zM242 619h1v1h-1zM243 619h1v1h-1zM244 618h1v1h-1zM245 618h1v1h-1zM246 617h1v1h-1zM247 617h1v1h-1zM248 618h1v1h-1zM249 618h1v1h-1zM250 619h1v1h-1zM251 619h1v1h-1zM252 620h1v2h-1zM253 622h1v1h-1zM254 623h1v2h-1zM255 625h1v1h-1zM256 625h1v1h-1zM257 626h1v1h-1zM258 626h1v1h-1zM259 626h1v1h-1zM260 624h1v2h-1zM261 622h1v2h-1zM262 620h1v2h-1zM263 618h1v2h-1zM264 618h1v1h-1zM265 617h1v1h-1zM266 617h1v1h-1zM267 617h1v1h-1zM268 617h1v1h-1zM269 616h1v1h-1zM270 616h1v1h-1zM271 616h1v1h-1zM272 617h1v1h-1zM273 618h1v1h-1zM274 618h1v1h-1zM275 619h1v1h-1zM276 618h1v1h-1zM277 616h1v2h-1zM278 615h1v1h-1zM279 614h1v1h-1zM280 613h1v1h-1zM281 613h1v1h-1zM282 612h1v1h-1zM283 612h1v1h-1zM284 613h1v1h-1zM285 614h1v1h-1zM286 614h1v1h-1zM287 615h1v1h-1zM288 614h1v1h-1zM289 613h1v1h-1zM290 613h1v1h-1zM291 612h1v1h-1zM292 611h1v1h-1zM293 611h1v1h-1zM294 610h1v1h-1zM295 610h1v1h-1zM296 610h1v1h-1zM297 610h1v1h-1zM298 610h1v1h-1zM299 610h1v1h-1zM300 611h1v1h-1zM301 612h1v1h-1zM302 613h1v1h-1zM303 614h1v1h-1zM304 613h1v1h-1zM305 612h1v1h-1zM306 611h1v1h-1zM307 610h1v1h-1zM308 611h1v2h-1zM309 613h1v1h-1zM310 614h1v2h-1zM311 616h1v1h-1zM312 616h1v1h-1zM313 616h1v1h-1zM314 616h1v1h-1zM315 616h1v1h-1zM316 617h1v1h-1zM317 617h1v1h-1zM318 618h1v1h-1zM319 618h1v1h-1zM320 619h1v1h-1zM321 619h1v1h-1zM322 620h1v1h-1zM323 620h1v1h-1zM324 621h1v1h-1zM325 622h1v1h-1zM326 622h1v1h-1zM327 623h1v1h-1zM328 623h1v1h-1zM329 623h1v1h-1zM330 623h1v1h-1zM331 623h1v1h-1zM332 622h1v1h-1zM333 622h1v1h-1zM334 621h1v1h-1zM335 621h1v1h-1zM336 621h1v1h-1zM337 621h1v1h-1zM338 621h1v1h-1zM339 621h1v1h-1zM340 622h1v1h-1zM341 623h1v2h-1zM342 625h1v1h-1zM343 626h1v1h-1zM344 625h1v1h-1zM345 624h1v1h-1zM346 623h1v1h-1zM347 622h1v1h-1zM348 621h1v1h-1zM349 619h1v2h-1zM350 618h1v1h-1zM351 617h1v1h-1zM352 617h1v1h-1zM353 617h1v1h-1zM354 617h1v1h-1zM355 617h1v2h-1zM356 619h1v2h-1zM357 621h1v2h-1zM358 623h1v2h-1zM359 625h1v2h-1zM360 626h1v1h-1zM361 625h1v1h-1zM362 625h1v1h-1zM363 625h1v1h-1zM364 625h1v1h-1zM365 625h1v1h-1zM366 625h1v1h-1zM367 625h1v1h-1zM368 625h1v1h-1zM369 626h1v1h-1zM370 626h1v1h-1zM371 626h1v1h-1zM372 627h1v1h-1zM373 628h1v1h-1zM374 628h1v1h-1zM375 629h1v1h-1zM376 630h1v1h-1zM377 631h1v1h-1zM378 631h1v1h-1zM379 631h1v2h-1zM380 627h1v4h-1zM381 624h1v3h-1zM382 620h1v4h-1zM383 618h1v2h-1zM384 617h1v1h-1zM385 616h1v1h-1zM386 615h1v1h-1zM387 614h1v1h-1zM388 615h1v1h-1zM389 616h1v1h-1zM390 617h1v1h-1zM391 618h1v1h-1zM392 619h1v1h-1zM393 619h1v1h-1zM394 620h1v1h-1zM395 620h1v1h-1zM396 620h1v1h-1zM397 620h1v1h-1zM398 620h1v1h-1zM399 620h1v1h-1zM400 620h1v1h-1zM401 621h1v1h-1zM402 621h1v1h-1zM403 621h1v1h-1zM404 619h1v2h-1zM405 618h1v1h-1zM406 616h1v2h-1zM407 615h1v1h-1zM408 615h1v1h-1zM409 616h1v1h-1zM410 616h1v1h-1zM411 616h1v1h-1zM412 616h1v1h-1zM413 616h1v1h-1zM414 616h1v1h-1zM415 616h1v1h-1zM416 617h1v1h-1zM417 617h1v1h-1zM418 618h1v1h-1zM419 618h1v1h-1zM420 618h1v1h-1zM421 618h1v1h-1zM422 618h1v1h-1zM423 618h1v1h-1zM424 619h1v2h-1zM425 621h1v1h-1zM426 622h1v2h-1zM427 624h1v1h-1zM428 625h1v1h-1zM429 626h1v2h-1zM430 628h1v1h-1zM431 629h1v1h-1zM432 629h1v1h-1zM433 630h1v1h-1zM434 630h1v1h-1zM435 630h1v1h-1zM436 629h1v1h-1zM437 629h1v1h-1zM438 628h1v1h-1zM439 628h1v1h-1zM440 629h1v1h-1zM441 629h1v1h-1zM442 630h1v1h-1zM443 630h1v1h-1zM444 629h1v1h-1zM445 629h1v1h-1zM446 628h1v1h-1zM447 628h1v1h-1zM448 629h1v1h-1zM449 629h1v1h-1zM450 630h1v1h-1zM451 630h1v1h-1zM452 628h1v2h-1zM453 626h1v2h-1zM454 624h1v2h-1zM455 622h1v2h-1zM456 622h1v1h-1zM457 623h1v1h-1zM458 623h1v1h-1zM459 623h1v1h-1zM460 622h1v1h-1zM461 621h1v1h-1zM462 621h1v1h-1zM463 620h1v1h-1zM464 619h1v1h-1zM465 619h1v1h-1zM466 618h1v1h-1zM467 618h1v1h-1zM468 618h1v1h-1zM469 618h1v1h-1zM470 618h1v1h-1zM471 618h1v1h-1zM472 616h1v2h-1zM473 615h1v1h-1zM474 613h1v2h-1zM475 612h1v1h-1zM476 613h1v1h-1zM477 614h1v1h-1zM478 615h1v1h-1zM479 616h1v1h-1zM480 615h1v1h-1zM481 615h1v1h-1zM482 614h1v1h-1zM483 614h1v1h-1zM484 614h1v1h-1zM485 614h1v1h-1zM486 614h1v1h-1zM487 614h1v1h-1zM488 613h1v1h-1zM489 612h1v1h-1zM490 612h1v1h-1zM491 611h1v1h-1zM492 612h1v2h-1zM493 614h1v1h-1zM494 615h1v2h-1zM495 617h1v1h-1zM496 617h1v1h-1zM497 617h1v1h-1zM498 617h1v1h-1zM499 617h1v1h-1zM500 618h1v1h-1zM501 618h1v1h-1zM502 619h1v1h-1zM503 619h1v1h-1zM504 618h1v1h-1zM505 618h1v1h-1zM506 617h1v1h-1zM507 617h1v1h-1zM508 618h1v1h-1zM509 619h1v2h-1zM510 621h1v1h-1zM511 622h1v1h-1zM512 621h1v1h-1zM513 620h1v1h-1zM514 620h1v1h-1zM515 619h1v1h-1zM516 617h1v2h-1zM517 615h1v2h-1zM518 613h1v2h-1zM519 612h1v1h-1zM520 613h1v1h-1zM521 614h1v1h-1zM522 615h1v1h-1zM523 616h1v1h-1zM524 617h1v1h-1zM525 618h1v1h-1zM526 618h1v1h-1zM527 619h1v1h-1zM528 619h1v1h-1zM529 620h1v1h-1zM530 620h1v1h-1zM531 620h1v1h-1zM532 619h1v1h-1zM533 618h1v1h-1zM534 618h1v1h-1zM535 617h1v1h-1zM536 617h1v1h-1zM537 618h1v1h-1zM538 618h1v1h-1zM539 618h1v1h-1zM540 619h1v1h-1zM541 620h1v1h-1zM542 620h1v1h-1zM543 621h1v1h-1zM544 620h1v1h-1zM545 619h1v1h-1zM546 619h1v1h-1zM547 618h1v1h-1zM548 619h1v1h-1zM549 620h1v1h-1zM550 621h1v1h-1zM551 622h1v1h-1zM552 622h1v1h-1zM553 622h1v1h-1zM554 622h1v1h-1zM555 622h1v1h-1zM556 621h1v1h-1zM557 620h1v1h-1zM558 619h1v1h-1zM559 618h1v1h-1zM560 617h1v1h-1zM561 616h1v1h-1zM562 615h1v1h-1zM563 614h1v1h-1zM564 615h1v2h-1zM565 617h1v2h-1zM566 619h1v2h-1zM567 621h1v2h-1zM568 622h1v1h-1zM569 621h1v1h-1zM570 621h1v1h-1zM571 621h1v1h-1zM572 621h1v1h-1zM573 621h1v1h-1zM574 621h1v1h-1zM575 621h1v1h-1zM576 622h1v1h-1zM577 622h1v1h-1zM578 623h1v1h-1zM579 623h1v1h-1zM580 624h1v1h-1zM581 625h1v2h-1zM582 627h1v1h-1zM583 628h1v1h-1zM584 628h1v1h-1zM585 629h1v1h-1zM586 629h1v1h-1zM587 629h1v1h-1zM588 630h1v1h-1zM589 630h1v1h-1zM590 631h1v1h-1zM591 631h1v1h-1zM592 632h1v1h-1zM593 633h1v1h-1zM594 634h1v1h-1zM595 635h1v1h-1zM596 635h1v1h-1zM597 635h1v1h-1zM598 635h1v1h-1zM599 635h1v1h-1zM600 635h1v1h-1zM601 636h1v1h-1zM602 636h1v1h-1zM603 636h1v1h-1zM604 636h1v1h-1zM605 636h1v1h-1zM606 636h1v1h-1zM607 636h1v1h-1zM608 634h1v2h-1zM609 632h1v2h-1zM610 630h1v2h-1zM611 629h1v1h-1zM612 630h1v1h-1zM613 631h1v1h-1zM614 632h1v1h-1zM615 633h1v1h-1zM616 634h1v1h-1zM617 635h1v1h-1zM618 636h1v1h-1zM619 637h1v1h-1zM620 638h1v1h-1zM621 638h1v1h-1zM622 639h1v1h-1zM623 639h1v1h-1zM624 639h1v1h-1zM625 639h1v1h-1zM626 639h1v1h-1zM627 639h1v1h-1zM628 640h1v1h-1zM629 640h1v1h-1zM630 641h1v1h-1zM631 641h1v1h-1zM632 641h1v1h-1zM633 640h1v1h-1zM634 640h1v1h-1zM635 640h1v1h-1zM636 639h1v1h-1zM637 639h1v1h-1zM638 638h1v1h-1zM639 638h1v1h-1zM640 636h1v2h-1zM641 635h1v1h-1zM642 633h1v2h-1zM643 632h1v1h-1zM644 633h1v1h-1zM645 633h1v1h-1zM646 634h1v1h-1zM647 634h1v1h-1zM648 634h1v1h-1zM649 634h1v1h-1zM650 634h1v1h-1zM651 634h1v1h-1zM652 635h1v1h-1zM653 635h1v1h-1zM654 636h1v1h-1zM655 636h1v1h-1zM656 636h1v1h-1zM657 637h1v1h-1zM658 637h1v1h-1zM659 637h1v1h-1zM660 636h1v1h-1zM661 635h1v1h-1zM662 634h1v1h-1zM663 633h1v1h-1zM664 634h1v1h-1zM665 634h1v1h-1zM666 635h1v1h-1zM667 635h1v1h-1zM668 634h1v1h-1zM669 633h1v1h-1zM670 633h1v1h-1zM671 632h1v1h-1zM672 632h1v1h-1zM673 633h1v1h-1zM674 633h1v1h-1zM675 633h1v1h-1zM676 632h1v1h-1zM677 631h1v1h-1zM678 631h1v1h-1zM679 630h1v1h-1zM680 630h1v1h-1zM681 631h1v1h-1zM682 631h1v1h-1zM683 631h1v1h-1zM684 629h1v2h-1zM685 628h1v1h-1zM686 626h1v2h-1zM687 625h1v1h-1zM688 626h1v1h-1zM689 627h1v1h-1zM690 627h1v1h-1zM691 628h1v1h-1zM692 627h1v1h-1zM693 627h1v1h-1zM694 626h1v1h-1zM695 626h1v1h-1zM696 626h1v1h-1zM697 627h1v1h-1zM698 627h1v1h-1zM699 627h1v1h-1zM700 627h1v1h-1zM701 628h1v1h-1zM702 628h1v1h-1zM703 628h1v1h-1zM704 629h1v1h-1zM705 630h1v1h-1zM706 630h1v1h-1zM707 631h1v1h-1zM708 630h1v1h-1zM709 630h1v1h-1zM710 629h1v1h-1zM711 628h1v2h-1zM712 626h1v2h-1zM713 623h1v3h-1zM714 621h1v2h-1zM715 619h1v2h-1zM716 620h1v1h-1zM717 620h1v1h-1zM718 621h1v1h-1zM719 621h1v1h-1zM720 622h1v1h-1zM721 622h1v1h-1zM722 623h1v1h-1zM723 623h1v1h-1zM724 623h1v1h-1zM725 624h1v1h-1zM726 624h1v1h-1zM727 624h1v1h-1zM728 623h1v1h-1zM729 621h1v2h-1zM730 620h1v1h-1zM731 619h1v1h-1zM732 619h1v1h-1zM733 618h1v1h-1zM734 618h1v1h-1zM735 618h1v1h-1zM736 618h1v1h-1zM737 619h1v1h-1zM738 619h1v1h-1zM739 619h1v1h-1zM740 617h1v2h-1zM741 615h1v2h-1zM742 613h1v2h-1zM743 611h1v2h-1zM744 611h1v1h-1zM745 611h1v1h-1zM746 611h1v1h-1zM747 611h1v1h-1zM748 612h1v1h-1zM749 613h1v1h-1zM750 614h1v1h-1zM751 615h1v1h-1zM752 613h1v2h-1zM753 611h1v2h-1zM754 609h1v2h-1zM755 608h1v1h-1zM756 609h1v1h-1zM757 610h1v1h-1zM758 611h1v1h-1zM759 611h1v2h-1zM760 608h1v3h-1zM761 605h1v3h-1zM762 602h1v3h-1zM763 600h1v2h-1zM764 599h1v1h-1zM765 598h1v1h-1zM766 597h1v1h-1zM767 596h1v1h-1zM768 596h1v1h-1zM769 597h1v1h-1zM770 597h1v1h-1zM771 597h1v1h-1zM772 598h1v2h-1zM773 600h1v1h-1zM774 601h1v2h-1zM775 603h1v1h-1zM776 603h1v1h-1zM777 604h1v1h-1zM778 604h1v1h-1zM779 604h1v1h-1zM780 605h1v2h-1zM781 607h1v2h-1zM782 609h1v2h-1zM783 611h1v1h-1zM784 610h1v1h-1zM785 609h1v1h-1zM786 609h1v1h-1zM787 608h1v1h-1zM788 609h1v1h-1zM789 610h1v1h-1zM790 610h1v1h-1zM791 611h1v1h-1zM792 611h1v1h-1zM793 610h1v1h-1zM794 610h1v1h-1zM795 610h1v1h-1zM796 610h1v1h-1zM797 609h1v1h-1zM798 609h1v1h-1zM799 609h1v1h-1zM800 608h1v1h-1zM801 607h1v1h-1zM802 607h1v1h-1zM803 606h1v1h-1zM804 605h1v1h-1zM805 605h1v1h-1zM806 604h1v1h-1zM807 604h1v1h-1zM808 604h1v1h-1zM809 604h1v1h-1zM810 604h1v1h-1zM811 604h1v1h-1zM812 605h1v2h-1zM813 607h1v1h-1zM814 608h1v2h-1zM815 610h1v1h-1zM816 611h1v1h-1zM817 612h1v1h-1zM818 612h1v1h-1zM819 613h1v1h-1zM820 613h1v1h-1zM821 612h1v1h-1zM822 612h1v1h-1zM823 611h1v2h-1zM824 609h1v2h-1zM825 607h1v2h-1zM826 605h1v2h-1zM827 603h1v2h-1zM828 602h1v1h-1zM829 602h1v1h-1zM830 601h1v1h-1zM831 601h1v1h-1zM832 601h1v1h-1zM833 600h1v1h-1zM834 600h1v1h-1zM835 600h1v1h-1zM836 601h1v1h-1zM837 602h1v2h-1zM838 604h1v1h-1zM839 605h1v1h-1zM840 606h1v1h-1zM841 606h1v1h-1zM842 607h1v1h-1zM843 607h1v1h-1zM844 607h1v1h-1zM845 608h1v1h-1zM846 608h1v1h-1zM847 608h1v1h-1zM848 607h1v1h-1zM849 606h1v1h-1zM850 605h1v1h-1zM851 604h1v1h-1zM852 604h1v1h-1zM853 603h1v1h-1zM854 603h1v1h-1zM855 603h1v1h-1zM856 602h1v1h-1zM857 601h1v1h-1zM858 601h1v1h-1zM859 600h1v1h-1zM860 600h1v1h-1zM861 600h1v1h-1zM862 600h1v1h-1zM863 600h1v1h-1zM864 600h1v1h-1zM865 599h1v1h-1zM866 599h1v1h-1zM867 599h1v1h-1zM868 597h1v2h-1zM869 596h1v1h-1zM870 594h1v2h-1zM871 593h1v1h-1zM872 594h1v1h-1zM873 595h1v1h-1zM874 595h1v1h-1zM875 596h1v2h-1zM876 598h1v4h-1zM877 602h1v4h-1zM878 606h1v4h-1zM879 610h1v3h-1zM880 611h1v1h-1zM881 611h1v1h-1zM882 610h1v1h-1zM883 610h1v1h-1zM884 610h1v1h-1zM885 609h1v1h-1zM886 609h1v1h-1zM887 609h1v1h-1zM888 609h1v1h-1zM889 610h1v1h-1zM890 610h1v1h-1zM891 610h1v1h-1zM892 611h1v1h-1zM893 612h1v1h-1zM894 612h1v1h-1zM895 613h1v1h-1zM896 612h1v1h-1zM897 611h1v1h-1zM898 611h1v1h-1zM899 610h1v1h-1zM900 610h1v1h-1zM901 611h1v1h-1zM902 611h1v1h-1zM903 611h1v2h-1zM904 613h1v2h-1zM905 615h1v2h-1zM906 617h1v2h-1zM907 619h1v2h-1zM908 619h1v1h-1zM909 619h1v1h-1zM910 618h1v1h-1zM911 618h1v1h-1zM912 618h1v1h-1zM913 617h1v1h-1zM914 617h1v1h-1zM915 617h1v1h-1zM916 617h1v1h-1zM917 616h1v1h-1zM918 616h1v1h-1zM919 616h1v1h-1zM920 616h1v1h-1zM921 616h1v1h-1zM922 616h1v1h-1z" fill="#1e90ff"/>
<text x="7.3" y="584.9" font-size="9.2" fill="#000" text-anchor="start" font-weight="normal" textLength="68" lengthAdjust="spacingAndGlyphs">RSI(14) 50.2216</text>
<rect x="1166" y="574" width="2" height="1" fill="#000"/>
<rect x="1166" y="658" width="2" height="1" fill="#000"/>
<text x="1169.5" y="582.6" font-size="9.2" fill="#000" text-anchor="start" font-weight="normal" textLength="14" lengthAdjust="spacingAndGlyphs">100</text>
<text x="1168.8" y="602.6" font-size="9.2" fill="#000" text-anchor="start" font-weight="normal" textLength="9.2" lengthAdjust="spacingAndGlyphs">70</text>
<text x="1168.8" y="636.8" font-size="9.2" fill="#000" text-anchor="start" font-weight="normal" textLength="9.2" lengthAdjust="spacingAndGlyphs">30</text>
<text x="1169.5" y="655.9" font-size="9.2" fill="#000" text-anchor="start" font-weight="normal" textLength="4.6" lengthAdjust="spacingAndGlyphs">0</text>
<rect x="3" y="660" width="1" height="3" fill="#000"/>
<text x="1.9" y="672" font-size="9.3" fill="#000" text-anchor="start" font-weight="normal" textLength="49.5" lengthAdjust="spacingAndGlyphs">5 Nov 2020</text>
<rect x="67" y="660" width="1" height="3" fill="#000"/>
<text x="65.9" y="672" font-size="9.3" fill="#000" text-anchor="start" font-weight="normal" textLength="54.3" lengthAdjust="spacingAndGlyphs">24 Nov 2020</text>
<rect x="131" y="660" width="1" height="3" fill="#000"/>
<text x="129.9" y="672" font-size="9.3" fill="#000" text-anchor="start" font-weight="normal" textLength="52.3" lengthAdjust="spacingAndGlyphs">12 Dec 2020</text>
<rect x="195" y="660" width="1" height="3" fill="#000"/>
<text x="193.9" y="672" font-size="9.3" fill="#000" text-anchor="start" font-weight="normal" textLength="45.3" lengthAdjust="spacingAndGlyphs">1 Jan 2021</text>
<rect x="259" y="660" width="1" height="3" fill="#000"/>
<text x="257.9" y="672" font-size="9.3" fill="#000" text-anchor="start" font-weight="normal" textLength="50.4" lengthAdjust="spacingAndGlyphs">21 Jan 2021</text>
<rect x="323" y="660" width="1" height="3" fill="#000"/>
<text x="321.9" y="672" font-size="9.3" fill="#000" text-anchor="start" font-weight="normal" textLength="47.3" lengthAdjust="spacingAndGlyphs">9 Feb 2021</text>
<rect x="387" y="660" width="1" height="3" fill="#000"/>
<text x="385.9" y="672" font-size="9.3" fill="#000" text-anchor="start" font-weight="normal" textLength="51.9" lengthAdjust="spacingAndGlyphs">27 Feb 2021</text>
<rect x="451" y="660" width="1" height="3" fill="#000"/>
<text x="449.9" y="672" font-size="9.3" fill="#000" text-anchor="start" font-weight="normal" textLength="51.9" lengthAdjust="spacingAndGlyphs">18 Mar 2021</text>
<rect x="515" y="660" width="1" height="3" fill="#000"/>
<text x="513.9" y="672" font-size="9.3" fill="#000" text-anchor="start" font-weight="normal" textLength="46.1" lengthAdjust="spacingAndGlyphs">6 Apr 2021</text>
<rect x="579" y="660" width="1" height="3" fill="#000"/>
<text x="577.9" y="672" font-size="9.3" fill="#000" text-anchor="start" font-weight="normal" textLength="51.3" lengthAdjust="spacingAndGlyphs">24 Apr 2021</text>
<rect x="643" y="660" width="1" height="3" fill="#000"/>
<text x="641.9" y="672" font-size="9.3" fill="#000" text-anchor="start" font-weight="normal" textLength="54.3" lengthAdjust="spacingAndGlyphs">13 May 2021</text>
<rect x="707" y="660" width="1" height="3" fill="#000"/>
<text x="705.9" y="672" font-size="9.3" fill="#000" text-anchor="start" font-weight="normal" textLength="44.6" lengthAdjust="spacingAndGlyphs">1 Jun 2021</text>
<rect x="771" y="660" width="1" height="3" fill="#000"/>
<text x="769.9" y="672" font-size="9.3" fill="#000" text-anchor="start" font-weight="normal" textLength="50.0" lengthAdjust="spacingAndGlyphs">19 Jun 2021</text>
<rect x="835" y="660" width="1" height="3" fill="#000"/>
<text x="833.9" y="672" font-size="9.3" fill="#000" text-anchor="start" font-weight="normal" textLength="41.9" lengthAdjust="spacingAndGlyphs">8 Jul 2021</text>
<rect x="899" y="660" width="1" height="3" fill="#000"/>
<text x="897.9" y="672" font-size="9.3" fill="#000" text-anchor="start" font-weight="normal" textLength="47.0" lengthAdjust="spacingAndGlyphs">27 Jul 2021</text>
<rect x="0" y="680" width="1205" height="1" fill="#e3e3e3"/>
<rect x="0" y="682" width="1205" height="1" fill="#000"/>
<rect x="0" y="683" width="1205" height="18" fill="#f0f0f0"/>
<rect x="0" y="701" width="1205" height="2" fill="#fafafa"/>
<rect x="0" y="703" width="1205" height="2" fill="#f0f0f0"/>
<rect x="288" y="682" width="104" height="19" fill="#fff"/>
<rect x="288" y="682" width="1" height="19" fill="#000"/>
<rect x="391" y="682" width="1" height="19" fill="#000"/>
<rect x="288" y="700" width="104" height="1" fill="#000"/>
<text x="16.6" y="697" font-size="12.5" fill="#6d6d6d" text-anchor="start" font-weight="normal" textLength="66.8" lengthAdjust="spacingAndGlyphs">EURUSD,H4</text>
<text x="107" y="697" font-size="12.5" fill="#6d6d6d" text-anchor="start" font-weight="normal" textLength="81.8" lengthAdjust="spacingAndGlyphs">AUDUSD,Daily</text>
<text x="210.4" y="697" font-size="12.5" fill="#6d6d6d" text-anchor="start" font-weight="normal" textLength="66.4" lengthAdjust="spacingAndGlyphs">USDCHF,H4</text>
<text x="402.4" y="697" font-size="12.5" fill="#6d6d6d" text-anchor="start" font-weight="normal" textLength="82.5" lengthAdjust="spacingAndGlyphs">USDCNH,Daily</text>
<text x="508.6" y="697" font-size="12.5" fill="#6d6d6d" text-anchor="start" font-weight="normal" textLength="51.0" lengthAdjust="spacingAndGlyphs">UKOil,H1</text>
<text x="583" y="697" font-size="12.5" fill="#6d6d6d" text-anchor="start" font-weight="normal" textLength="45.4" lengthAdjust="spacingAndGlyphs">DJ30,H1</text>
<text x="652.7" y="697" font-size="12.5" fill="#6d6d6d" text-anchor="start" font-weight="normal" textLength="50.9" lengthAdjust="spacingAndGlyphs">USDX,H1</text>
<text x="727.3" y="697" font-size="12.5" fill="#6d6d6d" text-anchor="start" font-weight="normal" textLength="68.2" lengthAdjust="spacingAndGlyphs">XAUUSD,H1</text>
<text x="820.4" y="697" font-size="12.5" fill="#6d6d6d" text-anchor="start" font-weight="normal" textLength="67.2" lengthAdjust="spacingAndGlyphs">GBPUSD,H1</text>
<text x="299" y="697" font-size="12.5" fill="#000" text-anchor="start" font-weight="normal" textLength="82" lengthAdjust="spacingAndGlyphs">USDCAD,Daily</text>
<rect x="96" y="686" width="1" height="13" fill="#6d6d6d"/>
<rect x="200" y="686" width="1" height="13" fill="#6d6d6d"/>
<rect x="496" y="686" width="1" height="13" fill="#6d6d6d"/>
<rect x="572" y="686" width="1" height="13" fill="#6d6d6d"/>
<rect x="641" y="686" width="1" height="13" fill="#6d6d6d"/>
<rect x="716" y="686" width="1" height="13" fill="#6d6d6d"/>
<rect x="808" y="686" width="1" height="13" fill="#6d6d6d"/>
<rect x="900" y="686" width="1" height="13" fill="#6d6d6d"/>
<path d="M1181 691 L1185 687 L1185 695 Z" fill="#a0a0a0"/>
<path d="M1203 691 L1199 687 L1199 695 Z" fill="#a0a0a0"/></svg></body></html>
